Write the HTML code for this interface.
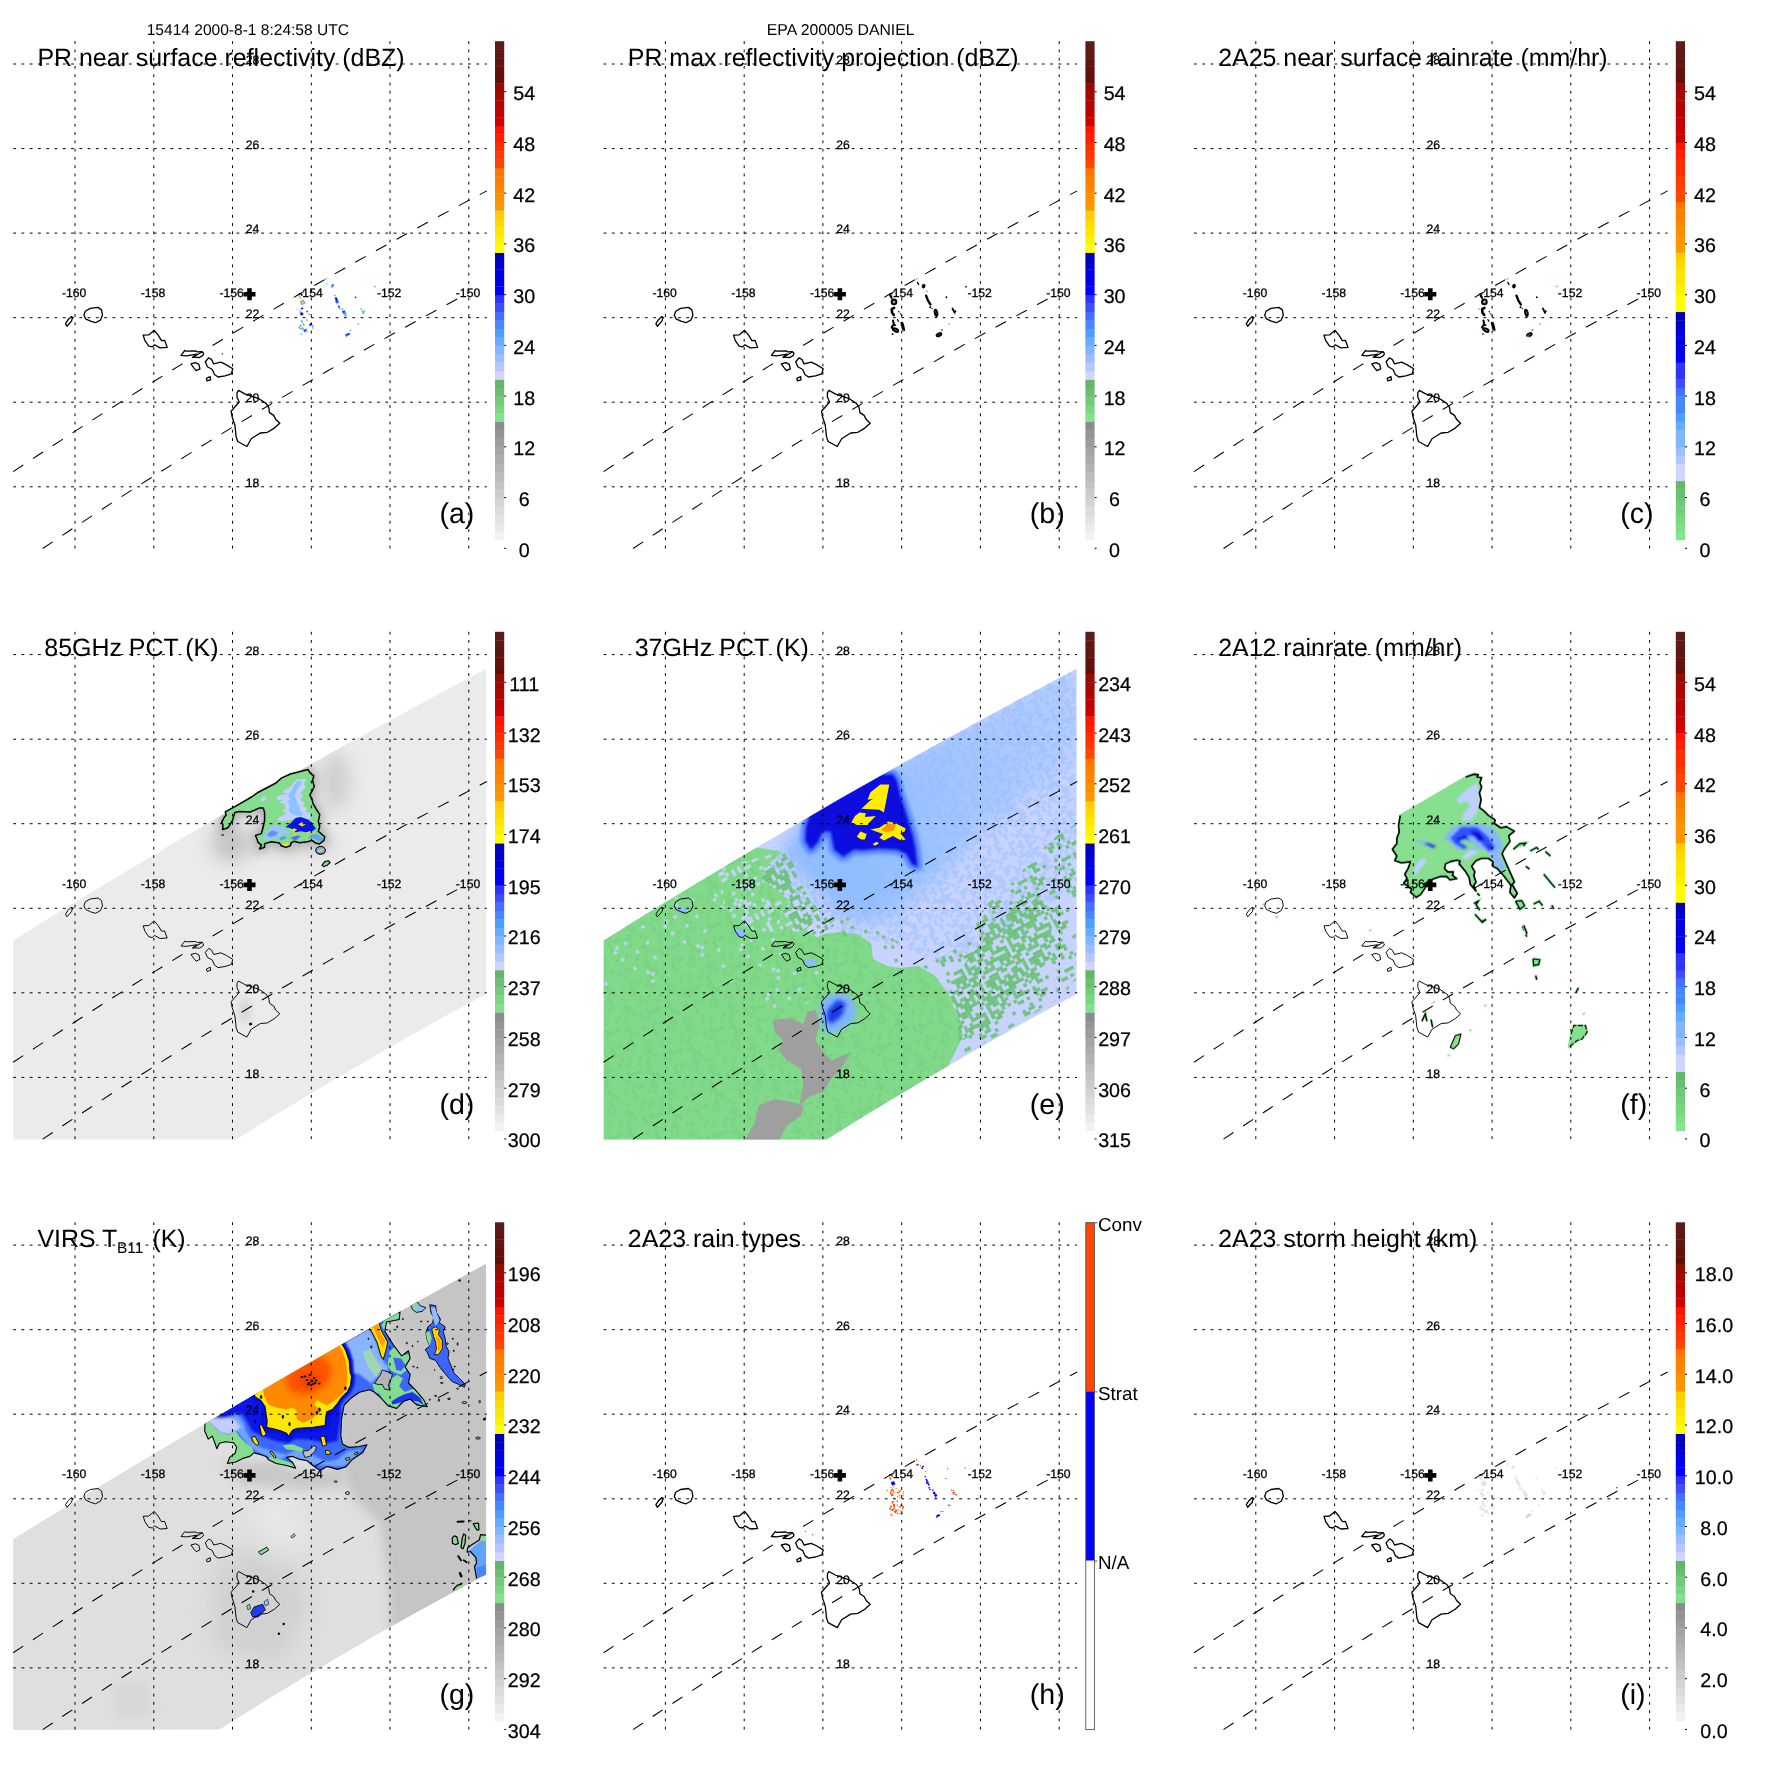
<!DOCTYPE html>
<html><head><meta charset="utf-8"><title>TRMM EPA 200005 DANIEL</title>
<style>html,body{margin:0;padding:0;background:#fff}svg{display:block}text{text-rendering:geometricPrecision}text{font-family:"Liberation Sans", sans-serif;fill:#000}.g{stroke:#000;stroke-width:1.0;stroke-dasharray:2.8 5.47;fill:none}.sw{stroke:#000;stroke-width:1.05;stroke-dasharray:12 11.6;fill:none}.isl{stroke:#000;stroke-width:0.95;fill:none;stroke-linejoin:round}.isl2{stroke:#000;stroke-width:1.3;fill:none;stroke-linejoin:round}.s{font-size:12.2px;stroke:#000;stroke-width:0.28px}.t{font-size:24.95px}.l{font-size:28.6px}</style></head><body>
<svg width="1771" height="1771" viewBox="0 0 1771 1771">
<rect width="1771" height="1771" fill="#fff"/>
<g opacity="0.999"><text x="146.7" y="34.8" font-size="15.55">15414 2000-8-1 8:24:58 UTC</text>
<text x="766.8" y="34.9" font-size="15.75">EPA 200005 DANIEL</text></g>
<g transform="translate(13.2,41.2)" opacity="0.999">
<rect x="287.5" y="252.7" width="2.0" height="2.0" fill="#2846ff" transform="rotate(-25 288.5 253.7)"/>
<rect x="285.4" y="254.3" width="1.5" height="1.5" fill="#6fb0ff" transform="rotate(-25 286.1 255.0)"/>
<rect x="285.8" y="255.7" width="2.0" height="2.0" fill="#ffd800" transform="rotate(-25 286.8 256.7)"/>
<rect x="287.2" y="258.9" width="4.5" height="4.5" fill="#6fb0ff" transform="rotate(-25 289.5 261.1)"/>
<rect x="288.6" y="260.4" width="1.8" height="1.8" fill="#ffd800" transform="rotate(-25 289.5 261.3)"/>
<rect x="283.0" y="267.7" width="1.5" height="1.2" fill="#c0ccff" transform="rotate(-25 283.7 268.3)"/>
<rect x="287.7" y="266.4" width="2.2" height="1.6" fill="#0a0ae6" transform="rotate(-25 288.8 267.2)"/>
<rect x="286.7" y="267.8" width="2.0" height="1.5" fill="#ffd800" transform="rotate(-25 287.7 268.6)"/>
<rect x="287.1" y="271.3" width="2.8" height="2.8" fill="#0a0ae6" transform="rotate(-25 288.5 272.7)"/>
<rect x="286.4" y="270.0" width="1.5" height="2.0" fill="#6fb0ff" transform="rotate(-25 287.1 271.0)"/>
<rect x="293.1" y="269.5" width="1.6" height="1.6" fill="#2846ff" transform="rotate(-25 293.9 270.3)"/>
<rect x="294.8" y="272.4" width="2.2" height="1.2" fill="#6fb0ff" transform="rotate(-25 295.9 273.0)"/>
<rect x="288.0" y="278.6" width="1.6" height="3.0" fill="#6fb0ff" transform="rotate(-25 288.8 280.1)"/>
<rect x="289.4" y="281.9" width="1.6" height="2.5" fill="#6fb0ff" transform="rotate(-25 290.2 283.2)"/>
<rect x="292.9" y="278.0" width="1.4" height="2.2" fill="#6fb0ff" transform="rotate(-25 293.6 279.1)"/>
<rect x="296.3" y="282.1" width="2.6" height="2.2" fill="#0a0ae6" transform="rotate(-25 297.6 283.2)"/>
<rect x="295.5" y="283.7" width="1.6" height="1.6" fill="#6cc878" transform="rotate(-25 296.3 284.5)"/>
<rect x="298.7" y="283.9" width="2.0" height="1.6" fill="#6fb0ff" transform="rotate(-25 299.7 284.7)"/>
<rect x="298.6" y="285.7" width="1.5" height="1.8" fill="#6cc878" transform="rotate(-25 299.3 286.6)"/>
<rect x="285.4" y="285.4" width="2.0" height="2.4" fill="#6cc878" transform="rotate(-25 286.4 286.6)"/>
<rect x="286.2" y="283.4" width="2.2" height="2.0" fill="#6fb0ff" transform="rotate(-25 287.3 284.4)"/>
<rect x="287.7" y="286.2" width="3.0" height="2.4" fill="#6fb0ff" transform="rotate(-25 289.2 287.4)"/>
<rect x="290.4" y="288.0" width="3.0" height="2.6" fill="#2846ff" transform="rotate(-25 291.9 289.3)"/>
<rect x="292.2" y="287.2" width="1.6" height="1.4" fill="#6cc878" transform="rotate(-25 293.0 287.9)"/>
<rect x="293.2" y="290.2" width="1.6" height="1.6" fill="#c0ccff" transform="rotate(-25 294.0 291.0)"/>
<rect x="287.3" y="292.2" width="1.6" height="1.6" fill="#6fb0ff" transform="rotate(-25 288.1 293.0)"/>
<rect x="289.8" y="283.2" width="1.5" height="1.3" fill="#6cc878" transform="rotate(-25 290.5 283.8)"/>
<rect x="312.1" y="236.8" width="1.6" height="1.6" fill="#6cc878" transform="rotate(-25 312.9 237.6)"/>
<rect x="312.7" y="241.4" width="1.6" height="2.2" fill="#c0ccff" transform="rotate(-25 313.5 242.5)"/>
<rect x="318.4" y="243.3" width="2.2" height="1.8" fill="#2846ff" transform="rotate(-25 319.5 244.2)"/>
<rect x="317.6" y="244.8" width="2.0" height="2.0" fill="#6fb0ff" transform="rotate(-25 318.6 245.8)"/>
<rect x="360.8" y="244.9" width="1.8" height="1.4" fill="#6fb0ff" transform="rotate(-25 361.7 245.6)"/>
<rect x="320.9" y="253.6" width="1.6" height="1.6" fill="#6fb0ff" transform="rotate(-25 321.7 254.4)"/>
<rect x="322.0" y="256.1" width="2.0" height="3.4" fill="#0a0ae6" transform="rotate(-25 323.0 257.8)"/>
<rect x="322.3" y="258.7" width="3.0" height="3.2" fill="#2846ff" transform="rotate(-25 323.8 260.3)"/>
<rect x="324.2" y="261.3" width="2.0" height="2.0" fill="#c0ccff" transform="rotate(-25 325.2 262.3)"/>
<rect x="324.7" y="264.5" width="2.0" height="2.0" fill="#2846ff" transform="rotate(-25 325.7 265.5)"/>
<rect x="325.7" y="266.6" width="1.5" height="1.5" fill="#6cc878" transform="rotate(-25 326.4 267.3)"/>
<rect x="328.0" y="267.3" width="2.2" height="1.4" fill="#6fb0ff" transform="rotate(-25 329.1 268.0)"/>
<rect x="329.1" y="269.2" width="3.0" height="3.0" fill="#2846ff" transform="rotate(-25 330.6 270.7)"/>
<rect x="330.4" y="271.6" width="3.2" height="3.0" fill="#6fb0ff" transform="rotate(-25 332.0 273.1)"/>
<rect x="331.4" y="274.8" width="1.6" height="1.3" fill="#6cc878" transform="rotate(-25 332.2 275.4)"/>
<rect x="341.5" y="255.4" width="1.6" height="1.6" fill="#2846ff" transform="rotate(-25 342.3 256.2)"/>
<rect x="347.4" y="267.0" width="1.4" height="1.8" fill="#6fb0ff" transform="rotate(-25 348.1 267.9)"/>
<rect x="348.9" y="269.3" width="2.0" height="3.4" fill="#6cc878" transform="rotate(-25 349.9 271.0)"/>
<rect x="350.4" y="269.3" width="1.6" height="1.4" fill="#6fb0ff" transform="rotate(-25 351.2 270.0)"/>
<rect x="344.3" y="282.0" width="1.6" height="1.6" fill="#6cc878" transform="rotate(-25 345.1 282.8)"/>
<rect x="332.1" y="292.1" width="4.6" height="2.4" fill="#2846ff" transform="rotate(-25 334.4 293.3)"/>
<rect x="332.6" y="294.7" width="1.5" height="1.3" fill="#6cc878" transform="rotate(-25 333.3 295.4)"/>
<rect x="336.5" y="288.6" width="1.6" height="1.4" fill="#6fb0ff" transform="rotate(-25 337.3 289.3)"/>
<rect x="201.2" y="308.6" width="1.2" height="1.2" fill="#c0ccff"/>
<rect x="208.4" y="311.9" width="1.4" height="1.4" fill="#2846ff"/>
<line class="g" x1="61.8" y1="0" x2="61.8" y2="507.3"/>
<line class="g" x1="0" y1="22.8" x2="473.6" y2="22.8"/>
<line class="g" x1="140.6" y1="0" x2="140.6" y2="507.3"/>
<line class="g" x1="0" y1="107.4" x2="473.6" y2="107.4"/>
<line class="g" x1="219.3" y1="0" x2="219.3" y2="507.3"/>
<line class="g" x1="0" y1="191.9" x2="473.6" y2="191.9"/>
<line class="g" x1="298.1" y1="0" x2="298.1" y2="507.3"/>
<line class="g" x1="0" y1="276.5" x2="473.6" y2="276.5"/>
<line class="g" x1="376.8" y1="0" x2="376.8" y2="507.3"/>
<line class="g" x1="0" y1="361.0" x2="473.6" y2="361.0"/>
<line class="g" x1="455.6" y1="0" x2="455.6" y2="507.3"/>
<line class="g" x1="0" y1="445.6" x2="473.6" y2="445.6"/>
<polyline class="sw" points="0.0,430.4 23.7,414.8 47.4,399.4 71.0,384.1 94.7,369.0 118.4,354.1 142.1,339.3 165.8,324.7 189.4,310.3 213.1,296.0 236.8,281.9 260.5,267.9 284.2,254.1 307.8,240.5 331.5,227.0 355.2,213.7 378.9,200.6 402.6,187.6 426.2,174.8 449.9,162.2 473.6,149.7"/>
<polyline class="sw" points="29.5,507.3 53.2,491.5 76.9,475.9 100.5,460.5 124.2,445.3 147.9,430.2 171.6,415.4 195.3,400.7 218.9,386.2 242.6,371.9 266.3,357.8 290.0,343.9 313.7,330.1 337.3,316.6 361.0,303.2 384.7,290.0 408.4,277.0 432.1,264.2 455.7,251.6"/>
<polygon class="isl2" points="52.3,282.4 54.9,278.5 58.0,275.4 59.4,276.1 58.3,279.9 53.7,285.0"/>
<polygon class="isl2" points="70.7,274.0 72.1,270.0 77.0,267.2 84.8,266.2 88.3,268.7 89.3,274.0 87.2,278.9 82.3,281.5 77.3,280.0 72.4,277.6"/>
<polygon class="isl2" points="130.0,294.0 135.6,293.7 141.0,289.1 144.8,293.7 148.3,299.4 151.4,299.1 154.0,306.2 146.9,306.7 141.3,303.6 139.1,305.7 135.6,305.0 131.7,299.4"/>
<polygon class="isl2" points="167.8,314.2 171.6,309.3 173.0,310.0 182.2,309.7 184.3,310.7 188.6,310.4 190.4,312.1 189.7,314.2 186.4,316.3 179.4,316.0 183.6,312.9 173.0,314.6"/>
<polygon class="isl2" points="177.7,322.7 182.2,321.5 185.7,323.1 186.7,327.6 182.9,329.4 180.8,326.9"/>
<polygon class="isl2" points="192.1,320.6 195.6,316.6 198.4,318.4 200.5,322.7 207.6,321.0 213.3,323.7 219.6,327.6 218.2,332.6 211.8,334.7 204.8,335.8 201.3,333.3 199.1,328.3 194.2,325.5"/>
<polygon class="isl2" points="193.2,337.2 197.0,335.4 197.4,338.6 193.8,339.6"/>
<polygon class="isl2" points="223.8,351.6 225.3,349.2 231.6,352.7 245.7,357.5 252.8,362.2 255.6,366.4 256.3,371.4 260.5,374.2 262.7,378.4 266.6,382.0 261.2,386.9 254.2,391.1 247.1,391.8 238.0,397.5 233.7,405.3 224.5,400.3 222.9,395.4 221.7,384.1 218.9,375.6 217.9,370.0 226.0,360.8 223.8,355.8"/>
<path d="M230.3,253.1h12M236.3,247.1v12" stroke="#000" stroke-width="4.6" fill="none"/>
<text class="s" x="61.0" y="255.8" text-anchor="middle">-160</text>
<text class="s" x="232.6" y="23.1">28</text>
<text class="s" x="139.8" y="255.8" text-anchor="middle">-158</text>
<text class="s" x="232.6" y="107.7">26</text>
<text class="s" x="218.5" y="255.8" text-anchor="middle">-156</text>
<text class="s" x="232.6" y="192.2">24</text>
<text class="s" x="297.3" y="255.8" text-anchor="middle">-154</text>
<text class="s" x="232.6" y="276.8">22</text>
<text class="s" x="376.0" y="255.8" text-anchor="middle">-152</text>
<text class="s" x="232.6" y="361.3">20</text>
<text class="s" x="454.8" y="255.8" text-anchor="middle">-150</text>
<text class="s" x="232.6" y="445.9">18</text>

<text class="t" x="24.2" y="24.5">PR near surface reflectivity (dBZ)</text>
<text class="l" x="426.2" y="481.8">(a)</text>
<rect x="481.8" y="490.39" width="9.2" height="8.76" fill="#f2f2f2"/>
<rect x="481.8" y="481.94" width="9.2" height="8.76" fill="#eaeaea"/>
<rect x="481.8" y="473.48" width="9.2" height="8.76" fill="#e2e2e2"/>
<rect x="481.8" y="465.03" width="9.2" height="8.76" fill="#dbdbdb"/>
<rect x="481.8" y="456.57" width="9.2" height="8.76" fill="#d3d3d3"/>
<rect x="481.8" y="448.12" width="9.2" height="8.76" fill="#cbcbcb"/>
<rect x="481.8" y="439.66" width="9.2" height="8.76" fill="#c3c3c3"/>
<rect x="481.8" y="431.21" width="9.2" height="8.76" fill="#bbbbbb"/>
<rect x="481.8" y="422.75" width="9.2" height="8.76" fill="#b3b3b3"/>
<rect x="481.8" y="414.30" width="9.2" height="8.76" fill="#ababab"/>
<rect x="481.8" y="405.84" width="9.2" height="8.76" fill="#a4a4a4"/>
<rect x="481.8" y="397.38" width="9.2" height="8.76" fill="#9c9c9c"/>
<rect x="481.8" y="388.93" width="9.2" height="8.76" fill="#949494"/>
<rect x="481.8" y="380.48" width="9.2" height="8.76" fill="#8c8c8c"/>
<rect x="481.8" y="372.02" width="9.2" height="8.76" fill="#82e18c"/>
<rect x="481.8" y="363.56" width="9.2" height="8.76" fill="#7ad683"/>
<rect x="481.8" y="355.11" width="9.2" height="8.76" fill="#73ca7a"/>
<rect x="481.8" y="346.65" width="9.2" height="8.76" fill="#6cbf72"/>
<rect x="481.8" y="338.20" width="9.2" height="8.76" fill="#64b469"/>
<rect x="481.8" y="329.75" width="9.2" height="8.76" fill="#d0d4ff"/>
<rect x="481.8" y="321.29" width="9.2" height="8.76" fill="#b6c6ff"/>
<rect x="481.8" y="312.84" width="9.2" height="8.76" fill="#9bbeff"/>
<rect x="481.8" y="304.38" width="9.2" height="8.76" fill="#80b6ff"/>
<rect x="481.8" y="295.93" width="9.2" height="8.76" fill="#64acff"/>
<rect x="481.8" y="287.47" width="9.2" height="8.76" fill="#4ba0ff"/>
<rect x="481.8" y="279.01" width="9.2" height="8.76" fill="#4687ff"/>
<rect x="481.8" y="270.56" width="9.2" height="8.76" fill="#4470ff"/>
<rect x="481.8" y="262.11" width="9.2" height="8.76" fill="#3c4eff"/>
<rect x="481.8" y="253.65" width="9.2" height="8.76" fill="#3232ff"/>
<rect x="481.8" y="245.19" width="9.2" height="8.76" fill="#0000ff"/>
<rect x="481.8" y="236.74" width="9.2" height="8.76" fill="#0000f0"/>
<rect x="481.8" y="228.29" width="9.2" height="8.76" fill="#0000e1"/>
<rect x="481.8" y="219.83" width="9.2" height="8.76" fill="#0000cd"/>
<rect x="481.8" y="211.38" width="9.2" height="8.76" fill="#0000b9"/>
<rect x="481.8" y="202.92" width="9.2" height="8.76" fill="#ffff00"/>
<rect x="481.8" y="194.47" width="9.2" height="8.76" fill="#fff200"/>
<rect x="481.8" y="186.01" width="9.2" height="8.76" fill="#ffe600"/>
<rect x="481.8" y="177.56" width="9.2" height="8.76" fill="#ffda00"/>
<rect x="481.8" y="169.10" width="9.2" height="8.76" fill="#ffcd00"/>
<rect x="481.8" y="160.64" width="9.2" height="8.76" fill="#ff9600"/>
<rect x="481.8" y="152.19" width="9.2" height="8.76" fill="#ff8e00"/>
<rect x="481.8" y="143.74" width="9.2" height="8.76" fill="#ff8600"/>
<rect x="481.8" y="135.28" width="9.2" height="8.76" fill="#ff7e00"/>
<rect x="481.8" y="126.82" width="9.2" height="8.76" fill="#ff7600"/>
<rect x="481.8" y="118.37" width="9.2" height="8.76" fill="#ff4600"/>
<rect x="481.8" y="109.92" width="9.2" height="8.76" fill="#ff3a00"/>
<rect x="481.8" y="101.46" width="9.2" height="8.76" fill="#ff2d00"/>
<rect x="481.8" y="93.00" width="9.2" height="8.76" fill="#ff2000"/>
<rect x="481.8" y="84.55" width="9.2" height="8.76" fill="#ff1400"/>
<rect x="481.8" y="76.10" width="9.2" height="8.76" fill="#cd0000"/>
<rect x="481.8" y="67.64" width="9.2" height="8.76" fill="#bf0200"/>
<rect x="481.8" y="59.19" width="9.2" height="8.76" fill="#b20500"/>
<rect x="481.8" y="50.73" width="9.2" height="8.76" fill="#a40800"/>
<rect x="481.8" y="42.28" width="9.2" height="8.76" fill="#960a00"/>
<rect x="481.8" y="33.82" width="9.2" height="8.76" fill="#640e05"/>
<rect x="481.8" y="25.37" width="9.2" height="8.76" fill="#62120b"/>
<rect x="481.8" y="16.91" width="9.2" height="8.76" fill="#601510"/>
<rect x="481.8" y="8.45" width="9.2" height="8.76" fill="#5e1816"/>
<rect x="481.8" y="0.00" width="9.2" height="8.76" fill="#5c1c1c"/>
<line x1="491.0" y1="507.1" x2="493.0" y2="507.1" stroke="#000" stroke-width="1"/>
<text x="511.0" y="515.6" font-size="19.7" text-anchor="middle" stroke="#000" stroke-width="0.25">0</text>
<line x1="491.0" y1="456.4" x2="493.0" y2="456.4" stroke="#000" stroke-width="1"/>
<text x="511.0" y="464.9" font-size="19.7" text-anchor="middle" stroke="#000" stroke-width="0.25">6</text>
<line x1="491.0" y1="405.6" x2="493.0" y2="405.6" stroke="#000" stroke-width="1"/>
<text x="511.0" y="414.1" font-size="19.7" text-anchor="middle" stroke="#000" stroke-width="0.25">12</text>
<line x1="491.0" y1="354.9" x2="493.0" y2="354.9" stroke="#000" stroke-width="1"/>
<text x="511.0" y="363.4" font-size="19.7" text-anchor="middle" stroke="#000" stroke-width="0.25">18</text>
<line x1="491.0" y1="304.2" x2="493.0" y2="304.2" stroke="#000" stroke-width="1"/>
<text x="511.0" y="312.7" font-size="19.7" text-anchor="middle" stroke="#000" stroke-width="0.25">24</text>
<line x1="491.0" y1="253.5" x2="493.0" y2="253.5" stroke="#000" stroke-width="1"/>
<text x="511.0" y="261.9" font-size="19.7" text-anchor="middle" stroke="#000" stroke-width="0.25">30</text>
<line x1="491.0" y1="202.7" x2="493.0" y2="202.7" stroke="#000" stroke-width="1"/>
<text x="511.0" y="211.2" font-size="19.7" text-anchor="middle" stroke="#000" stroke-width="0.25">36</text>
<line x1="491.0" y1="152.0" x2="493.0" y2="152.0" stroke="#000" stroke-width="1"/>
<text x="511.0" y="160.5" font-size="19.7" text-anchor="middle" stroke="#000" stroke-width="0.25">42</text>
<line x1="491.0" y1="101.3" x2="493.0" y2="101.3" stroke="#000" stroke-width="1"/>
<text x="511.0" y="109.8" font-size="19.7" text-anchor="middle" stroke="#000" stroke-width="0.25">48</text>
<line x1="491.0" y1="50.5" x2="493.0" y2="50.5" stroke="#000" stroke-width="1"/>
<text x="511.0" y="59.0" font-size="19.7" text-anchor="middle" stroke="#000" stroke-width="0.25">54</text>
</g>
<g transform="translate(603.6,41.2)" opacity="0.999">
<ellipse cx="287.3" cy="255.4" rx="1.22" ry="2.85" fill="#000" transform="rotate(-25 287.3 255.4)"/>
<ellipse cx="290.4" cy="260.7" rx="2.34" ry="2.34" fill="#4a78ff" stroke="#000" stroke-width="1.9" transform="rotate(0 290.4 260.7)"/>
<polyline points="290.5,266.6 288.1,267.9 288.5,271.6 290.2,273.7" fill="none" stroke="#000" stroke-width="2.59" stroke-linecap="round" stroke-linejoin="round"/>
<polyline points="294.9,270.0 298.6,275.0" fill="none" stroke="#000" stroke-width="1.14" stroke-dasharray="1.4 1.2"/>
<polyline points="289.5,279.4 290.2,283.2 288.1,285.9 289.8,288.6 293.9,290.6" fill="none" stroke="#000" stroke-width="2.12" stroke-linecap="round" stroke-linejoin="round"/>
<polyline points="290.2,283.2 291.9,284.2" fill="none" stroke="#000" stroke-width="1.41" stroke-linecap="round" stroke-linejoin="round"/>
<ellipse cx="292.2" cy="288.9" rx="2.65" ry="1.40" fill="#4a78ff" stroke="#000" stroke-width="1.9" transform="rotate(25 292.2 288.9)"/>
<polyline points="293.9,278.4 294.9,280.1" fill="none" stroke="#000" stroke-width="1.18" stroke-linecap="round" stroke-linejoin="round"/>
<polyline points="298.3,282.1 299.3,285.5 300.0,288.6" fill="none" stroke="#000" stroke-width="3.06" stroke-linecap="round" stroke-linejoin="round"/>
<ellipse cx="289.0" cy="293.0" rx="0.91" ry="0.85" fill="#000" transform="rotate(0 289.0 293.0)"/>
<ellipse cx="314.4" cy="242.2" rx="0.71" ry="2.09" fill="#000" transform="rotate(-25 314.4 242.2)"/>
<ellipse cx="320.0" cy="244.9" rx="1.83" ry="2.28" fill="#000" transform="rotate(20 320.0 244.9)"/>
<polyline points="322.5,254.4 324.4,259.5 326.8,263.2" fill="none" stroke="#000" stroke-width="2.35" stroke-linecap="round" stroke-linejoin="round"/>
<ellipse cx="326.6" cy="266.0" rx="1.02" ry="0.95" fill="#000" transform="rotate(0 326.6 266.0)"/>
<polyline points="327.8,267.2 330.1,267.9" fill="none" stroke="#000" stroke-width="1.00" stroke-dasharray="1.4 1.2"/>
<ellipse cx="332.4" cy="271.6" rx="1.25" ry="3.27" fill="#4a78ff" stroke="#000" stroke-width="1.9" transform="rotate(-12 332.4 271.6)"/>
<ellipse cx="342.8" cy="256.1" rx="0.91" ry="0.95" fill="#000" transform="rotate(0 342.8 256.1)"/>
<polyline points="348.9,267.4 351.1,271.6" fill="none" stroke="#000" stroke-width="1.88" stroke-linecap="round" stroke-linejoin="round"/>
<ellipse cx="351.8" cy="270.0" rx="0.91" ry="0.85" fill="#000" transform="rotate(0 351.8 270.0)"/>
<ellipse cx="335.4" cy="293.5" rx="2.49" ry="1.25" fill="#4a78ff" stroke="#000" stroke-width="1.9" transform="rotate(-25 335.4 293.5)"/>
<ellipse cx="338.4" cy="288.9" rx="0.81" ry="0.76" fill="#000" transform="rotate(0 338.4 288.9)"/>
<ellipse cx="362.3" cy="245.2" rx="0.81" ry="0.76" fill="#000" transform="rotate(0 362.3 245.2)"/>
<rect x="312.5" y="236.9" width="1.5" height="1.5" fill="#5ccf68"/>
<rect x="322.7" y="249.3" width="1.5" height="1.5" fill="#5ccf68"/>
<rect x="344.7" y="282.1" width="1.5" height="1.5" fill="#5ccf68"/>
<rect x="298.6" y="288.6" width="1.5" height="1.5" fill="#5ccf68"/>
<rect x="350.4" y="272.0" width="1.5" height="1.5" fill="#5ccf68"/>
<rect x="289.7" y="260.4" width="1.4" height="1.4" fill="#ffe000"/>
<rect x="361.7" y="245.8" width="1.2" height="1.2" fill="#4a78ff"/>
<line class="g" x1="61.8" y1="0" x2="61.8" y2="507.3"/>
<line class="g" x1="0" y1="22.8" x2="473.6" y2="22.8"/>
<line class="g" x1="140.6" y1="0" x2="140.6" y2="507.3"/>
<line class="g" x1="0" y1="107.4" x2="473.6" y2="107.4"/>
<line class="g" x1="219.3" y1="0" x2="219.3" y2="507.3"/>
<line class="g" x1="0" y1="191.9" x2="473.6" y2="191.9"/>
<line class="g" x1="298.1" y1="0" x2="298.1" y2="507.3"/>
<line class="g" x1="0" y1="276.5" x2="473.6" y2="276.5"/>
<line class="g" x1="376.8" y1="0" x2="376.8" y2="507.3"/>
<line class="g" x1="0" y1="361.0" x2="473.6" y2="361.0"/>
<line class="g" x1="455.6" y1="0" x2="455.6" y2="507.3"/>
<line class="g" x1="0" y1="445.6" x2="473.6" y2="445.6"/>
<polyline class="sw" points="0.0,430.4 23.7,414.8 47.4,399.4 71.0,384.1 94.7,369.0 118.4,354.1 142.1,339.3 165.8,324.7 189.4,310.3 213.1,296.0 236.8,281.9 260.5,267.9 284.2,254.1 307.8,240.5 331.5,227.0 355.2,213.7 378.9,200.6 402.6,187.6 426.2,174.8 449.9,162.2 473.6,149.7"/>
<polyline class="sw" points="29.5,507.3 53.2,491.5 76.9,475.9 100.5,460.5 124.2,445.3 147.9,430.2 171.6,415.4 195.3,400.7 218.9,386.2 242.6,371.9 266.3,357.8 290.0,343.9 313.7,330.1 337.3,316.6 361.0,303.2 384.7,290.0 408.4,277.0 432.1,264.2 455.7,251.6"/>
<polygon class="isl2" points="52.3,282.4 54.9,278.5 58.0,275.4 59.4,276.1 58.3,279.9 53.7,285.0"/>
<polygon class="isl2" points="70.7,274.0 72.1,270.0 77.0,267.2 84.8,266.2 88.3,268.7 89.3,274.0 87.2,278.9 82.3,281.5 77.3,280.0 72.4,277.6"/>
<polygon class="isl2" points="130.0,294.0 135.6,293.7 141.0,289.1 144.8,293.7 148.3,299.4 151.4,299.1 154.0,306.2 146.9,306.7 141.3,303.6 139.1,305.7 135.6,305.0 131.7,299.4"/>
<polygon class="isl2" points="167.8,314.2 171.6,309.3 173.0,310.0 182.2,309.7 184.3,310.7 188.6,310.4 190.4,312.1 189.7,314.2 186.4,316.3 179.4,316.0 183.6,312.9 173.0,314.6"/>
<polygon class="isl2" points="177.7,322.7 182.2,321.5 185.7,323.1 186.7,327.6 182.9,329.4 180.8,326.9"/>
<polygon class="isl2" points="192.1,320.6 195.6,316.6 198.4,318.4 200.5,322.7 207.6,321.0 213.3,323.7 219.6,327.6 218.2,332.6 211.8,334.7 204.8,335.8 201.3,333.3 199.1,328.3 194.2,325.5"/>
<polygon class="isl2" points="193.2,337.2 197.0,335.4 197.4,338.6 193.8,339.6"/>
<polygon class="isl2" points="223.8,351.6 225.3,349.2 231.6,352.7 245.7,357.5 252.8,362.2 255.6,366.4 256.3,371.4 260.5,374.2 262.7,378.4 266.6,382.0 261.2,386.9 254.2,391.1 247.1,391.8 238.0,397.5 233.7,405.3 224.5,400.3 222.9,395.4 221.7,384.1 218.9,375.6 217.9,370.0 226.0,360.8 223.8,355.8"/>
<path d="M230.3,253.1h12M236.3,247.1v12" stroke="#000" stroke-width="4.6" fill="none"/>
<text class="s" x="61.0" y="255.8" text-anchor="middle">-160</text>
<text class="s" x="232.6" y="23.1">28</text>
<text class="s" x="139.8" y="255.8" text-anchor="middle">-158</text>
<text class="s" x="232.6" y="107.7">26</text>
<text class="s" x="218.5" y="255.8" text-anchor="middle">-156</text>
<text class="s" x="232.6" y="192.2">24</text>
<text class="s" x="297.3" y="255.8" text-anchor="middle">-154</text>
<text class="s" x="232.6" y="276.8">22</text>
<text class="s" x="376.0" y="255.8" text-anchor="middle">-152</text>
<text class="s" x="232.6" y="361.3">20</text>
<text class="s" x="454.8" y="255.8" text-anchor="middle">-150</text>
<text class="s" x="232.6" y="445.9">18</text>

<text class="t" x="24.2" y="24.5">PR max reflectivity projection (dBZ)</text>
<text class="l" x="426.2" y="481.8">(b)</text>
<rect x="481.8" y="490.39" width="9.2" height="8.76" fill="#f2f2f2"/>
<rect x="481.8" y="481.94" width="9.2" height="8.76" fill="#eaeaea"/>
<rect x="481.8" y="473.48" width="9.2" height="8.76" fill="#e2e2e2"/>
<rect x="481.8" y="465.03" width="9.2" height="8.76" fill="#dbdbdb"/>
<rect x="481.8" y="456.57" width="9.2" height="8.76" fill="#d3d3d3"/>
<rect x="481.8" y="448.12" width="9.2" height="8.76" fill="#cbcbcb"/>
<rect x="481.8" y="439.66" width="9.2" height="8.76" fill="#c3c3c3"/>
<rect x="481.8" y="431.21" width="9.2" height="8.76" fill="#bbbbbb"/>
<rect x="481.8" y="422.75" width="9.2" height="8.76" fill="#b3b3b3"/>
<rect x="481.8" y="414.30" width="9.2" height="8.76" fill="#ababab"/>
<rect x="481.8" y="405.84" width="9.2" height="8.76" fill="#a4a4a4"/>
<rect x="481.8" y="397.38" width="9.2" height="8.76" fill="#9c9c9c"/>
<rect x="481.8" y="388.93" width="9.2" height="8.76" fill="#949494"/>
<rect x="481.8" y="380.48" width="9.2" height="8.76" fill="#8c8c8c"/>
<rect x="481.8" y="372.02" width="9.2" height="8.76" fill="#82e18c"/>
<rect x="481.8" y="363.56" width="9.2" height="8.76" fill="#7ad683"/>
<rect x="481.8" y="355.11" width="9.2" height="8.76" fill="#73ca7a"/>
<rect x="481.8" y="346.65" width="9.2" height="8.76" fill="#6cbf72"/>
<rect x="481.8" y="338.20" width="9.2" height="8.76" fill="#64b469"/>
<rect x="481.8" y="329.75" width="9.2" height="8.76" fill="#d0d4ff"/>
<rect x="481.8" y="321.29" width="9.2" height="8.76" fill="#b6c6ff"/>
<rect x="481.8" y="312.84" width="9.2" height="8.76" fill="#9bbeff"/>
<rect x="481.8" y="304.38" width="9.2" height="8.76" fill="#80b6ff"/>
<rect x="481.8" y="295.93" width="9.2" height="8.76" fill="#64acff"/>
<rect x="481.8" y="287.47" width="9.2" height="8.76" fill="#4ba0ff"/>
<rect x="481.8" y="279.01" width="9.2" height="8.76" fill="#4687ff"/>
<rect x="481.8" y="270.56" width="9.2" height="8.76" fill="#4470ff"/>
<rect x="481.8" y="262.11" width="9.2" height="8.76" fill="#3c4eff"/>
<rect x="481.8" y="253.65" width="9.2" height="8.76" fill="#3232ff"/>
<rect x="481.8" y="245.19" width="9.2" height="8.76" fill="#0000ff"/>
<rect x="481.8" y="236.74" width="9.2" height="8.76" fill="#0000f0"/>
<rect x="481.8" y="228.29" width="9.2" height="8.76" fill="#0000e1"/>
<rect x="481.8" y="219.83" width="9.2" height="8.76" fill="#0000cd"/>
<rect x="481.8" y="211.38" width="9.2" height="8.76" fill="#0000b9"/>
<rect x="481.8" y="202.92" width="9.2" height="8.76" fill="#ffff00"/>
<rect x="481.8" y="194.47" width="9.2" height="8.76" fill="#fff200"/>
<rect x="481.8" y="186.01" width="9.2" height="8.76" fill="#ffe600"/>
<rect x="481.8" y="177.56" width="9.2" height="8.76" fill="#ffda00"/>
<rect x="481.8" y="169.10" width="9.2" height="8.76" fill="#ffcd00"/>
<rect x="481.8" y="160.64" width="9.2" height="8.76" fill="#ff9600"/>
<rect x="481.8" y="152.19" width="9.2" height="8.76" fill="#ff8e00"/>
<rect x="481.8" y="143.74" width="9.2" height="8.76" fill="#ff8600"/>
<rect x="481.8" y="135.28" width="9.2" height="8.76" fill="#ff7e00"/>
<rect x="481.8" y="126.82" width="9.2" height="8.76" fill="#ff7600"/>
<rect x="481.8" y="118.37" width="9.2" height="8.76" fill="#ff4600"/>
<rect x="481.8" y="109.92" width="9.2" height="8.76" fill="#ff3a00"/>
<rect x="481.8" y="101.46" width="9.2" height="8.76" fill="#ff2d00"/>
<rect x="481.8" y="93.00" width="9.2" height="8.76" fill="#ff2000"/>
<rect x="481.8" y="84.55" width="9.2" height="8.76" fill="#ff1400"/>
<rect x="481.8" y="76.10" width="9.2" height="8.76" fill="#cd0000"/>
<rect x="481.8" y="67.64" width="9.2" height="8.76" fill="#bf0200"/>
<rect x="481.8" y="59.19" width="9.2" height="8.76" fill="#b20500"/>
<rect x="481.8" y="50.73" width="9.2" height="8.76" fill="#a40800"/>
<rect x="481.8" y="42.28" width="9.2" height="8.76" fill="#960a00"/>
<rect x="481.8" y="33.82" width="9.2" height="8.76" fill="#640e05"/>
<rect x="481.8" y="25.37" width="9.2" height="8.76" fill="#62120b"/>
<rect x="481.8" y="16.91" width="9.2" height="8.76" fill="#601510"/>
<rect x="481.8" y="8.45" width="9.2" height="8.76" fill="#5e1816"/>
<rect x="481.8" y="0.00" width="9.2" height="8.76" fill="#5c1c1c"/>
<line x1="491.0" y1="507.1" x2="493.0" y2="507.1" stroke="#000" stroke-width="1"/>
<text x="511.0" y="515.6" font-size="19.7" text-anchor="middle" stroke="#000" stroke-width="0.25">0</text>
<line x1="491.0" y1="456.4" x2="493.0" y2="456.4" stroke="#000" stroke-width="1"/>
<text x="511.0" y="464.9" font-size="19.7" text-anchor="middle" stroke="#000" stroke-width="0.25">6</text>
<line x1="491.0" y1="405.6" x2="493.0" y2="405.6" stroke="#000" stroke-width="1"/>
<text x="511.0" y="414.1" font-size="19.7" text-anchor="middle" stroke="#000" stroke-width="0.25">12</text>
<line x1="491.0" y1="354.9" x2="493.0" y2="354.9" stroke="#000" stroke-width="1"/>
<text x="511.0" y="363.4" font-size="19.7" text-anchor="middle" stroke="#000" stroke-width="0.25">18</text>
<line x1="491.0" y1="304.2" x2="493.0" y2="304.2" stroke="#000" stroke-width="1"/>
<text x="511.0" y="312.7" font-size="19.7" text-anchor="middle" stroke="#000" stroke-width="0.25">24</text>
<line x1="491.0" y1="253.5" x2="493.0" y2="253.5" stroke="#000" stroke-width="1"/>
<text x="511.0" y="261.9" font-size="19.7" text-anchor="middle" stroke="#000" stroke-width="0.25">30</text>
<line x1="491.0" y1="202.7" x2="493.0" y2="202.7" stroke="#000" stroke-width="1"/>
<text x="511.0" y="211.2" font-size="19.7" text-anchor="middle" stroke="#000" stroke-width="0.25">36</text>
<line x1="491.0" y1="152.0" x2="493.0" y2="152.0" stroke="#000" stroke-width="1"/>
<text x="511.0" y="160.5" font-size="19.7" text-anchor="middle" stroke="#000" stroke-width="0.25">42</text>
<line x1="491.0" y1="101.3" x2="493.0" y2="101.3" stroke="#000" stroke-width="1"/>
<text x="511.0" y="109.8" font-size="19.7" text-anchor="middle" stroke="#000" stroke-width="0.25">48</text>
<line x1="491.0" y1="50.5" x2="493.0" y2="50.5" stroke="#000" stroke-width="1"/>
<text x="511.0" y="59.0" font-size="19.7" text-anchor="middle" stroke="#000" stroke-width="0.25">54</text>
</g>
<g transform="translate(1194.0,41.2)" opacity="0.999">
<ellipse cx="287.3" cy="255.4" rx="1.22" ry="2.85" fill="#000" transform="rotate(-25 287.3 255.4)"/>
<ellipse cx="290.4" cy="260.7" rx="2.34" ry="2.34" fill="#7ad884" stroke="#000" stroke-width="1.9" transform="rotate(0 290.4 260.7)"/>
<polyline points="290.5,266.6 288.1,267.9 288.5,271.6 290.2,273.7" fill="none" stroke="#000" stroke-width="2.59" stroke-linecap="round" stroke-linejoin="round"/>
<polyline points="294.9,270.0 298.6,275.0" fill="none" stroke="#000" stroke-width="1.14" stroke-dasharray="1.4 1.2"/>
<polyline points="289.5,279.4 290.2,283.2 288.1,285.9 289.8,288.6 293.9,290.6" fill="none" stroke="#000" stroke-width="2.12" stroke-linecap="round" stroke-linejoin="round"/>
<polyline points="290.2,283.2 291.9,284.2" fill="none" stroke="#000" stroke-width="1.41" stroke-linecap="round" stroke-linejoin="round"/>
<ellipse cx="292.2" cy="288.9" rx="2.65" ry="1.40" fill="#7ad884" stroke="#000" stroke-width="1.9" transform="rotate(25 292.2 288.9)"/>
<polyline points="293.9,278.4 294.9,280.1" fill="none" stroke="#000" stroke-width="1.18" stroke-linecap="round" stroke-linejoin="round"/>
<polyline points="298.3,282.1 299.3,285.5 300.0,288.6" fill="none" stroke="#000" stroke-width="3.06" stroke-linecap="round" stroke-linejoin="round"/>
<ellipse cx="289.0" cy="293.0" rx="0.91" ry="0.85" fill="#000" transform="rotate(0 289.0 293.0)"/>
<ellipse cx="314.4" cy="242.2" rx="0.71" ry="2.09" fill="#000" transform="rotate(-25 314.4 242.2)"/>
<ellipse cx="320.0" cy="244.9" rx="1.83" ry="2.28" fill="#000" transform="rotate(20 320.0 244.9)"/>
<polyline points="322.5,254.4 324.4,259.5 326.8,263.2" fill="none" stroke="#000" stroke-width="2.35" stroke-linecap="round" stroke-linejoin="round"/>
<ellipse cx="326.6" cy="266.0" rx="1.02" ry="0.95" fill="#000" transform="rotate(0 326.6 266.0)"/>
<polyline points="327.8,267.2 330.1,267.9" fill="none" stroke="#000" stroke-width="1.00" stroke-dasharray="1.4 1.2"/>
<ellipse cx="332.4" cy="271.6" rx="1.25" ry="3.27" fill="#7ad884" stroke="#000" stroke-width="1.9" transform="rotate(-12 332.4 271.6)"/>
<ellipse cx="342.8" cy="256.1" rx="0.91" ry="0.95" fill="#000" transform="rotate(0 342.8 256.1)"/>
<polyline points="348.9,267.4 351.1,271.6" fill="none" stroke="#000" stroke-width="1.88" stroke-linecap="round" stroke-linejoin="round"/>
<ellipse cx="351.8" cy="270.0" rx="0.91" ry="0.85" fill="#000" transform="rotate(0 351.8 270.0)"/>
<ellipse cx="335.4" cy="293.5" rx="2.49" ry="1.25" fill="#7ad884" stroke="#000" stroke-width="1.9" transform="rotate(-25 335.4 293.5)"/>
<ellipse cx="338.4" cy="288.9" rx="0.81" ry="0.76" fill="#000" transform="rotate(0 338.4 288.9)"/>
<rect x="312.8" y="236.9" width="1.5" height="1.5" fill="#5ccf68"/>
<rect x="362.0" y="244.5" width="1.5" height="1.5" fill="#5ccf68"/>
<rect x="345.4" y="282.1" width="1.5" height="1.5" fill="#5ccf68"/>
<rect x="284.4" y="267.2" width="1.5" height="1.5" fill="#5ccf68"/>
<rect x="288.8" y="292.3" width="1.5" height="1.5" fill="#5ccf68"/>
<rect x="337.9" y="288.2" width="1.5" height="1.5" fill="#5ccf68"/>
<rect x="298.6" y="288.6" width="1.5" height="1.5" fill="#5ccf68"/>
<rect x="333.2" y="294.3" width="1.5" height="1.5" fill="#5ccf68"/>
<line class="g" x1="61.8" y1="0" x2="61.8" y2="507.3"/>
<line class="g" x1="0" y1="22.8" x2="473.6" y2="22.8"/>
<line class="g" x1="140.6" y1="0" x2="140.6" y2="507.3"/>
<line class="g" x1="0" y1="107.4" x2="473.6" y2="107.4"/>
<line class="g" x1="219.3" y1="0" x2="219.3" y2="507.3"/>
<line class="g" x1="0" y1="191.9" x2="473.6" y2="191.9"/>
<line class="g" x1="298.1" y1="0" x2="298.1" y2="507.3"/>
<line class="g" x1="0" y1="276.5" x2="473.6" y2="276.5"/>
<line class="g" x1="376.8" y1="0" x2="376.8" y2="507.3"/>
<line class="g" x1="0" y1="361.0" x2="473.6" y2="361.0"/>
<line class="g" x1="455.6" y1="0" x2="455.6" y2="507.3"/>
<line class="g" x1="0" y1="445.6" x2="473.6" y2="445.6"/>
<polyline class="sw" points="0.0,430.4 23.7,414.8 47.4,399.4 71.0,384.1 94.7,369.0 118.4,354.1 142.1,339.3 165.8,324.7 189.4,310.3 213.1,296.0 236.8,281.9 260.5,267.9 284.2,254.1 307.8,240.5 331.5,227.0 355.2,213.7 378.9,200.6 402.6,187.6 426.2,174.8 449.9,162.2 473.6,149.7"/>
<polyline class="sw" points="29.5,507.3 53.2,491.5 76.9,475.9 100.5,460.5 124.2,445.3 147.9,430.2 171.6,415.4 195.3,400.7 218.9,386.2 242.6,371.9 266.3,357.8 290.0,343.9 313.7,330.1 337.3,316.6 361.0,303.2 384.7,290.0 408.4,277.0 432.1,264.2 455.7,251.6"/>
<polygon class="isl2" points="52.3,282.4 54.9,278.5 58.0,275.4 59.4,276.1 58.3,279.9 53.7,285.0"/>
<polygon class="isl2" points="70.7,274.0 72.1,270.0 77.0,267.2 84.8,266.2 88.3,268.7 89.3,274.0 87.2,278.9 82.3,281.5 77.3,280.0 72.4,277.6"/>
<polygon class="isl2" points="130.0,294.0 135.6,293.7 141.0,289.1 144.8,293.7 148.3,299.4 151.4,299.1 154.0,306.2 146.9,306.7 141.3,303.6 139.1,305.7 135.6,305.0 131.7,299.4"/>
<polygon class="isl2" points="167.8,314.2 171.6,309.3 173.0,310.0 182.2,309.7 184.3,310.7 188.6,310.4 190.4,312.1 189.7,314.2 186.4,316.3 179.4,316.0 183.6,312.9 173.0,314.6"/>
<polygon class="isl2" points="177.7,322.7 182.2,321.5 185.7,323.1 186.7,327.6 182.9,329.4 180.8,326.9"/>
<polygon class="isl2" points="192.1,320.6 195.6,316.6 198.4,318.4 200.5,322.7 207.6,321.0 213.3,323.7 219.6,327.6 218.2,332.6 211.8,334.7 204.8,335.8 201.3,333.3 199.1,328.3 194.2,325.5"/>
<polygon class="isl2" points="193.2,337.2 197.0,335.4 197.4,338.6 193.8,339.6"/>
<polygon class="isl2" points="223.8,351.6 225.3,349.2 231.6,352.7 245.7,357.5 252.8,362.2 255.6,366.4 256.3,371.4 260.5,374.2 262.7,378.4 266.6,382.0 261.2,386.9 254.2,391.1 247.1,391.8 238.0,397.5 233.7,405.3 224.5,400.3 222.9,395.4 221.7,384.1 218.9,375.6 217.9,370.0 226.0,360.8 223.8,355.8"/>
<path d="M230.3,253.1h12M236.3,247.1v12" stroke="#000" stroke-width="4.6" fill="none"/>
<text class="s" x="61.0" y="255.8" text-anchor="middle">-160</text>
<text class="s" x="232.6" y="23.1">28</text>
<text class="s" x="139.8" y="255.8" text-anchor="middle">-158</text>
<text class="s" x="232.6" y="107.7">26</text>
<text class="s" x="218.5" y="255.8" text-anchor="middle">-156</text>
<text class="s" x="232.6" y="192.2">24</text>
<text class="s" x="297.3" y="255.8" text-anchor="middle">-154</text>
<text class="s" x="232.6" y="276.8">22</text>
<text class="s" x="376.0" y="255.8" text-anchor="middle">-152</text>
<text class="s" x="232.6" y="361.3">20</text>
<text class="s" x="454.8" y="255.8" text-anchor="middle">-150</text>
<text class="s" x="232.6" y="445.9">18</text>

<text class="t" x="24.2" y="24.5">2A25 near surface rainrate (mm/hr)</text>
<text class="l" x="426.2" y="481.8">(c)</text>
<rect x="481.8" y="490.39" width="9.2" height="8.76" fill="#82e68c"/>
<rect x="481.8" y="481.94" width="9.2" height="8.76" fill="#7dde86"/>
<rect x="481.8" y="473.48" width="9.2" height="8.76" fill="#78d780"/>
<rect x="481.8" y="465.03" width="9.2" height="8.76" fill="#73d07a"/>
<rect x="481.8" y="456.57" width="9.2" height="8.76" fill="#6ec875"/>
<rect x="481.8" y="448.12" width="9.2" height="8.76" fill="#69c06f"/>
<rect x="481.8" y="439.66" width="9.2" height="8.76" fill="#64b969"/>
<rect x="481.8" y="431.21" width="9.2" height="8.76" fill="#d0d4ff"/>
<rect x="481.8" y="422.75" width="9.2" height="8.76" fill="#d0d4ff"/>
<rect x="481.8" y="414.30" width="9.2" height="8.76" fill="#b6c6ff"/>
<rect x="481.8" y="405.84" width="9.2" height="8.76" fill="#9bbeff"/>
<rect x="481.8" y="397.38" width="9.2" height="8.76" fill="#80b6ff"/>
<rect x="481.8" y="388.93" width="9.2" height="8.76" fill="#80b6ff"/>
<rect x="481.8" y="380.48" width="9.2" height="8.76" fill="#64acff"/>
<rect x="481.8" y="372.02" width="9.2" height="8.76" fill="#4ba0ff"/>
<rect x="481.8" y="363.56" width="9.2" height="8.76" fill="#4687ff"/>
<rect x="481.8" y="355.11" width="9.2" height="8.76" fill="#4687ff"/>
<rect x="481.8" y="346.65" width="9.2" height="8.76" fill="#4470ff"/>
<rect x="481.8" y="338.20" width="9.2" height="8.76" fill="#3c4eff"/>
<rect x="481.8" y="329.75" width="9.2" height="8.76" fill="#3232ff"/>
<rect x="481.8" y="321.29" width="9.2" height="8.76" fill="#3232ff"/>
<rect x="481.8" y="312.84" width="9.2" height="8.76" fill="#0000ff"/>
<rect x="481.8" y="304.38" width="9.2" height="8.76" fill="#0000f0"/>
<rect x="481.8" y="295.93" width="9.2" height="8.76" fill="#0000e1"/>
<rect x="481.8" y="287.47" width="9.2" height="8.76" fill="#0000e1"/>
<rect x="481.8" y="279.01" width="9.2" height="8.76" fill="#0000cd"/>
<rect x="481.8" y="270.56" width="9.2" height="8.76" fill="#0000b9"/>
<rect x="481.8" y="262.11" width="9.2" height="8.76" fill="#ffff00"/>
<rect x="481.8" y="253.65" width="9.2" height="8.76" fill="#ffff00"/>
<rect x="481.8" y="245.19" width="9.2" height="8.76" fill="#fff200"/>
<rect x="481.8" y="236.74" width="9.2" height="8.76" fill="#ffe600"/>
<rect x="481.8" y="228.29" width="9.2" height="8.76" fill="#ffe600"/>
<rect x="481.8" y="219.83" width="9.2" height="8.76" fill="#ffda00"/>
<rect x="481.8" y="211.38" width="9.2" height="8.76" fill="#ffcd00"/>
<rect x="481.8" y="202.92" width="9.2" height="8.76" fill="#ff9600"/>
<rect x="481.8" y="194.47" width="9.2" height="8.76" fill="#ff9600"/>
<rect x="481.8" y="186.01" width="9.2" height="8.76" fill="#ff8e00"/>
<rect x="481.8" y="177.56" width="9.2" height="8.76" fill="#ff8600"/>
<rect x="481.8" y="169.10" width="9.2" height="8.76" fill="#ff7e00"/>
<rect x="481.8" y="160.64" width="9.2" height="8.76" fill="#ff7600"/>
<rect x="481.8" y="152.19" width="9.2" height="8.76" fill="#ff4600"/>
<rect x="481.8" y="143.74" width="9.2" height="8.76" fill="#ff4600"/>
<rect x="481.8" y="135.28" width="9.2" height="8.76" fill="#ff3a00"/>
<rect x="481.8" y="126.82" width="9.2" height="8.76" fill="#ff2d00"/>
<rect x="481.8" y="118.37" width="9.2" height="8.76" fill="#ff2d00"/>
<rect x="481.8" y="109.92" width="9.2" height="8.76" fill="#ff2000"/>
<rect x="481.8" y="101.46" width="9.2" height="8.76" fill="#ff1400"/>
<rect x="481.8" y="93.00" width="9.2" height="8.76" fill="#cd0000"/>
<rect x="481.8" y="84.55" width="9.2" height="8.76" fill="#cd0000"/>
<rect x="481.8" y="76.10" width="9.2" height="8.76" fill="#bf0200"/>
<rect x="481.8" y="67.64" width="9.2" height="8.76" fill="#b20500"/>
<rect x="481.8" y="59.19" width="9.2" height="8.76" fill="#b20500"/>
<rect x="481.8" y="50.73" width="9.2" height="8.76" fill="#a40800"/>
<rect x="481.8" y="42.28" width="9.2" height="8.76" fill="#960a00"/>
<rect x="481.8" y="33.82" width="9.2" height="8.76" fill="#640e05"/>
<rect x="481.8" y="25.37" width="9.2" height="8.76" fill="#62120b"/>
<rect x="481.8" y="16.91" width="9.2" height="8.76" fill="#601510"/>
<rect x="481.8" y="8.45" width="9.2" height="8.76" fill="#5e1816"/>
<rect x="481.8" y="0.00" width="9.2" height="8.76" fill="#5c1c1c"/>
<line x1="491.0" y1="507.1" x2="493.0" y2="507.1" stroke="#000" stroke-width="1"/>
<text x="511.0" y="515.6" font-size="19.7" text-anchor="middle" stroke="#000" stroke-width="0.25">0</text>
<line x1="491.0" y1="456.4" x2="493.0" y2="456.4" stroke="#000" stroke-width="1"/>
<text x="511.0" y="464.9" font-size="19.7" text-anchor="middle" stroke="#000" stroke-width="0.25">6</text>
<line x1="491.0" y1="405.6" x2="493.0" y2="405.6" stroke="#000" stroke-width="1"/>
<text x="511.0" y="414.1" font-size="19.7" text-anchor="middle" stroke="#000" stroke-width="0.25">12</text>
<line x1="491.0" y1="354.9" x2="493.0" y2="354.9" stroke="#000" stroke-width="1"/>
<text x="511.0" y="363.4" font-size="19.7" text-anchor="middle" stroke="#000" stroke-width="0.25">18</text>
<line x1="491.0" y1="304.2" x2="493.0" y2="304.2" stroke="#000" stroke-width="1"/>
<text x="511.0" y="312.7" font-size="19.7" text-anchor="middle" stroke="#000" stroke-width="0.25">24</text>
<line x1="491.0" y1="253.5" x2="493.0" y2="253.5" stroke="#000" stroke-width="1"/>
<text x="511.0" y="261.9" font-size="19.7" text-anchor="middle" stroke="#000" stroke-width="0.25">30</text>
<line x1="491.0" y1="202.7" x2="493.0" y2="202.7" stroke="#000" stroke-width="1"/>
<text x="511.0" y="211.2" font-size="19.7" text-anchor="middle" stroke="#000" stroke-width="0.25">36</text>
<line x1="491.0" y1="152.0" x2="493.0" y2="152.0" stroke="#000" stroke-width="1"/>
<text x="511.0" y="160.5" font-size="19.7" text-anchor="middle" stroke="#000" stroke-width="0.25">42</text>
<line x1="491.0" y1="101.3" x2="493.0" y2="101.3" stroke="#000" stroke-width="1"/>
<text x="511.0" y="109.8" font-size="19.7" text-anchor="middle" stroke="#000" stroke-width="0.25">48</text>
<line x1="491.0" y1="50.5" x2="493.0" y2="50.5" stroke="#000" stroke-width="1"/>
<text x="511.0" y="59.0" font-size="19.7" text-anchor="middle" stroke="#000" stroke-width="0.25">54</text>
</g>
<g transform="translate(13.2,631.8)" opacity="0.999">
<defs><clipPath id="cd"><polygon points="0.0,308.7 39.4,284.3 78.8,260.2 118.2,236.4 157.7,213.0 197.1,189.9 236.5,167.0 275.9,144.6 315.3,122.4 354.8,100.6 394.2,79.1 433.6,57.9 473.0,37.0 473.0,362.1 473.0,362.1 452.2,373.4 431.3,384.8 410.5,396.4 389.7,408.1 368.8,420.0 348.0,432.1 327.2,444.3 306.3,456.6 285.5,469.1 264.7,481.8 243.8,494.6 223.0,507.6 0.0,507.7"/></clipPath><filter id="bd" x="-100%" y="-100%" width="300%" height="300%"><feGaussianBlur stdDeviation="5"/></filter><filter id="bd2" x="-100%" y="-100%" width="300%" height="300%"><feGaussianBlur stdDeviation="9"/></filter></defs>
<polygon points="0.0,308.7 39.4,284.3 78.8,260.2 118.2,236.4 157.7,213.0 197.1,189.9 236.5,167.0 275.9,144.6 315.3,122.4 354.8,100.6 394.2,79.1 433.6,57.9 473.0,37.0 473.0,362.1 473.0,362.1 452.2,373.4 431.3,384.8 410.5,396.4 389.7,408.1 368.8,420.0 348.0,432.1 327.2,444.3 306.3,456.6 285.5,469.1 264.7,481.8 243.8,494.6 223.0,507.6 0.0,507.7" fill="#ebebeb"/>
<g clip-path="url(#cd)">
<polygon points="294.8,137.7 296.6,140.8 300.6,144.0 299.3,149.0 301.1,154.4 299.3,158.5 296.6,163.4 298.8,167.0 299.7,171.6 302.9,177.0 306.5,182.8 305.1,189.6 306.5,195.0 305.1,199.6 311.5,205.0 310.7,208.6 306.1,212.2 302.4,211.3 298.8,208.6 294.3,209.9 286.2,210.9 280.8,209.5 278.0,210.9 277.1,214.0 272.6,215.6 268.1,214.0 266.3,211.3 258.2,209.9 251.4,211.8 251.4,215.4 246.4,217.2 248.2,213.1 245.1,210.9 243.7,207.2 242.4,203.6 248.2,201.8 250.0,195.0 251.4,188.7 251.4,180.6 250.0,176.1 246.4,176.1 237.4,180.1 225.6,179.7 221.6,180.6 219.3,188.7 214.8,195.9 209.4,197.8 209.8,193.2 208.5,190.5 210.7,186.0 213.0,183.3 212.1,180.1 225.6,172.5 238.3,165.2 244.6,160.7 262.7,151.2 268.1,146.3 277.1,142.2 286.2,139.9" fill="#9a9a9a" stroke="#9a9a9a" stroke-width="7" filter="url(#bd)" opacity="0.75"/>
<ellipse cx="218" cy="212" rx="20" ry="18" fill="#a8a8a8" filter="url(#bd2)" opacity="0.6"/>
<ellipse cx="322" cy="150" rx="14" ry="30" fill="#b0b0b0" filter="url(#bd2)" opacity="0.5"/>
<ellipse cx="285" cy="212" rx="40" ry="9" fill="#b4b4b4" filter="url(#bd2)" opacity="0.5"/>
</g>
<polygon points="294.8,137.7 296.6,140.8 300.6,144.0 299.3,149.0 301.1,154.4 299.3,158.5 296.6,163.4 298.8,167.0 299.7,171.6 302.9,177.0 306.5,182.8 305.1,189.6 306.5,195.0 305.1,199.6 311.5,205.0 310.7,208.6 306.1,212.2 302.4,211.3 298.8,208.6 294.3,209.9 286.2,210.9 280.8,209.5 278.0,210.9 277.1,214.0 272.6,215.6 268.1,214.0 266.3,211.3 258.2,209.9 251.4,211.8 251.4,215.4 246.4,217.2 248.2,213.1 245.1,210.9 243.7,207.2 242.4,203.6 248.2,201.8 250.0,195.0 251.4,188.7 251.4,180.6 250.0,176.1 246.4,176.1 237.4,180.1 225.6,179.7 221.6,180.6 219.3,188.7 214.8,195.9 209.4,197.8 209.8,193.2 208.5,190.5 210.7,186.0 213.0,183.3 212.1,180.1 225.6,172.5 238.3,165.2 244.6,160.7 262.7,151.2 268.1,146.3 277.1,142.2 286.2,139.9" fill="#84dc8e" stroke="#000" stroke-width="1.50" stroke-linejoin="round"/>
<polygon points="284.0,147.6 293.1,147.3 290.6,152.6 292.6,155.2 287.5,160.8 289.6,164.8 286.5,168.4 291.6,170.9 289.6,174.0 294.2,176.5 291.6,179.1 297.7,182.1 298.7,185.7 295.7,187.7 287.5,185.2 282.5,186.2 277.4,188.2 270.3,189.7 264.2,188.7 265.7,185.7 273.3,181.1 269.2,179.1 272.3,177.0 271.3,174.0 272.3,172.0 264.7,170.9 270.3,168.4 263.1,167.9 264.2,164.3 274.3,161.8 269.2,160.8 270.3,159.3 277.4,154.7 280.4,150.6" fill="#c6d0ff"/>
<polygon points="283.5,149.6 288.6,148.6 287.5,152.6 284.5,156.7 282.5,160.8 281.4,164.8 283.5,168.9 285.5,174.0 287.5,179.1 290.6,183.1 286.5,184.2 280.4,183.1 275.3,179.1 276.4,174.0 274.3,169.9 277.4,166.9 274.3,163.8 278.4,158.7 280.4,153.7" fill="#8ec2ff"/>
<polygon points="250.4,204.5 258.6,193.3 263.1,192.8 270.3,196.4 274.3,199.4 277.4,201.4 274.3,203.5 269.2,201.9 264.2,206.5 257.0,208.6 250.9,208.0" fill="#9cc2ff"/>
<polygon points="253.5,203.0 258.6,198.4 265.2,200.4 262.1,204.0 256.5,205.0" fill="#5f92ff"/>
<polygon points="246.9,168.4 250.4,164.8 253.5,165.4 252.0,168.9 248.4,169.4" fill="#c6d0ff"/>
<polygon points="294.7,206.5 297.7,203.0 304.8,202.5 310.4,207.5 306.3,209.6 300.2,206.5" fill="#6a9cff"/>
<polygon points="266.2,206.5 271.3,204.5 273.3,206.0 268.2,208.6" fill="#5a90ff"/>
<polygon points="277.4,206.5 282.5,203.5 287.5,204.5 282.5,208.6" fill="#4a70ff"/>
<polygon points="282.5,186.2 287.5,185.2 295.7,188.2 302.8,196.4 299.2,199.4 292.6,200.4 287.5,199.4 282.5,200.4 277.4,196.4 272.3,195.3 276.4,192.3" fill="#0a14e6"/>
<polygon points="285.0,192.5 288.6,190.5 292.6,192.5 289.1,194.6" fill="#ffe100"/>
<polygon points="277.9,197.9 280.9,196.4 284.0,197.6 280.9,199.9" fill="#ffe100"/>
<polygon points="293.1,200.7 297.2,199.2 297.7,200.2 294.2,201.7" fill="#ffe100"/>
<polygon points="279.9,203.0 284.5,201.4 285.0,202.5 280.9,204.2" fill="#ffe100"/>
<polygon points="269.8,212.6 272.8,211.1 275.9,212.4 274.3,214.1 270.8,214.1" fill="#ffe100"/>
<ellipse cx="307.4" cy="218.5" rx="4.8" ry="3.8" fill="#7fa8ff" stroke="#000" stroke-width="1.1"/>
<path d="M305.2,219.7 l4.5,-2" stroke="#ffd800" stroke-width="1.6"/>
<polygon points="308.8,233.4 311.5,229.8 315.1,228.9 316.9,230.7 314.2,233.4 310.6,234.8" fill="#84dc8e" stroke="#000" stroke-width="1.10" stroke-linejoin="round"/>
<rect x="208.3" y="202.5" width="2.2" height="1.4" fill="#111"/>
<rect x="228" y="368" width="7" height="22" fill="#c4c4c4" filter="url(#bd)" opacity="0.9"/>
<rect x="235.8" y="391" width="3" height="2.6" fill="#111" transform="rotate(-25 237 392)"/>
<line class="g" x1="61.8" y1="0" x2="61.8" y2="507.3"/>
<line class="g" x1="0" y1="22.8" x2="473.6" y2="22.8"/>
<line class="g" x1="140.6" y1="0" x2="140.6" y2="507.3"/>
<line class="g" x1="0" y1="107.4" x2="473.6" y2="107.4"/>
<line class="g" x1="219.3" y1="0" x2="219.3" y2="507.3"/>
<line class="g" x1="0" y1="191.9" x2="473.6" y2="191.9"/>
<line class="g" x1="298.1" y1="0" x2="298.1" y2="507.3"/>
<line class="g" x1="0" y1="276.5" x2="473.6" y2="276.5"/>
<line class="g" x1="376.8" y1="0" x2="376.8" y2="507.3"/>
<line class="g" x1="0" y1="361.0" x2="473.6" y2="361.0"/>
<line class="g" x1="455.6" y1="0" x2="455.6" y2="507.3"/>
<line class="g" x1="0" y1="445.6" x2="473.6" y2="445.6"/>
<polyline class="sw" points="0.0,430.4 23.7,414.8 47.4,399.4 71.0,384.1 94.7,369.0 118.4,354.1 142.1,339.3 165.8,324.7 189.4,310.3 213.1,296.0 236.8,281.9 260.5,267.9 284.2,254.1 307.8,240.5 331.5,227.0 355.2,213.7 378.9,200.6 402.6,187.6 426.2,174.8 449.9,162.2 473.6,149.7"/>
<polyline class="sw" points="29.5,507.3 53.2,491.5 76.9,475.9 100.5,460.5 124.2,445.3 147.9,430.2 171.6,415.4 195.3,400.7 218.9,386.2 242.6,371.9 266.3,357.8 290.0,343.9 313.7,330.1 337.3,316.6 361.0,303.2 384.7,290.0 408.4,277.0 432.1,264.2 455.7,251.6"/>
<polygon class="isl" points="52.3,282.4 54.9,278.5 58.0,275.4 59.4,276.1 58.3,279.9 53.7,285.0"/>
<polygon class="isl" points="70.7,274.0 72.1,270.0 77.0,267.2 84.8,266.2 88.3,268.7 89.3,274.0 87.2,278.9 82.3,281.5 77.3,280.0 72.4,277.6"/>
<polygon class="isl" points="130.0,294.0 135.6,293.7 141.0,289.1 144.8,293.7 148.3,299.4 151.4,299.1 154.0,306.2 146.9,306.7 141.3,303.6 139.1,305.7 135.6,305.0 131.7,299.4"/>
<polygon class="isl" points="167.8,314.2 171.6,309.3 173.0,310.0 182.2,309.7 184.3,310.7 188.6,310.4 190.4,312.1 189.7,314.2 186.4,316.3 179.4,316.0 183.6,312.9 173.0,314.6"/>
<polygon class="isl" points="177.7,322.7 182.2,321.5 185.7,323.1 186.7,327.6 182.9,329.4 180.8,326.9"/>
<polygon class="isl" points="192.1,320.6 195.6,316.6 198.4,318.4 200.5,322.7 207.6,321.0 213.3,323.7 219.6,327.6 218.2,332.6 211.8,334.7 204.8,335.8 201.3,333.3 199.1,328.3 194.2,325.5"/>
<polygon class="isl" points="193.2,337.2 197.0,335.4 197.4,338.6 193.8,339.6"/>
<polygon class="isl" points="223.8,351.6 225.3,349.2 231.6,352.7 245.7,357.5 252.8,362.2 255.6,366.4 256.3,371.4 260.5,374.2 262.7,378.4 266.6,382.0 261.2,386.9 254.2,391.1 247.1,391.8 238.0,397.5 233.7,405.3 224.5,400.3 222.9,395.4 221.7,384.1 218.9,375.6 217.9,370.0 226.0,360.8 223.8,355.8"/>
<path d="M230.3,253.1h12M236.3,247.1v12" stroke="#000" stroke-width="4.6" fill="none"/>
<text class="s" x="61.0" y="255.8" text-anchor="middle">-160</text>
<text class="s" x="232.6" y="23.1">28</text>
<text class="s" x="139.8" y="255.8" text-anchor="middle">-158</text>
<text class="s" x="232.6" y="107.7">26</text>
<text class="s" x="218.5" y="255.8" text-anchor="middle">-156</text>
<text class="s" x="232.6" y="192.2">24</text>
<text class="s" x="297.3" y="255.8" text-anchor="middle">-154</text>
<text class="s" x="232.6" y="276.8">22</text>
<text class="s" x="376.0" y="255.8" text-anchor="middle">-152</text>
<text class="s" x="232.6" y="361.3">20</text>
<text class="s" x="454.8" y="255.8" text-anchor="middle">-150</text>
<text class="s" x="232.6" y="445.9">18</text>

<text class="t" x="24.2" y="24.5"> 85GHz PCT (K)</text>
<text class="l" x="426.2" y="481.8">(d)</text>
<rect x="481.8" y="490.39" width="9.2" height="8.76" fill="#f2f2f2"/>
<rect x="481.8" y="481.94" width="9.2" height="8.76" fill="#eaeaea"/>
<rect x="481.8" y="473.48" width="9.2" height="8.76" fill="#e2e2e2"/>
<rect x="481.8" y="465.03" width="9.2" height="8.76" fill="#dbdbdb"/>
<rect x="481.8" y="456.57" width="9.2" height="8.76" fill="#d3d3d3"/>
<rect x="481.8" y="448.12" width="9.2" height="8.76" fill="#cbcbcb"/>
<rect x="481.8" y="439.66" width="9.2" height="8.76" fill="#c3c3c3"/>
<rect x="481.8" y="431.21" width="9.2" height="8.76" fill="#bbbbbb"/>
<rect x="481.8" y="422.75" width="9.2" height="8.76" fill="#b3b3b3"/>
<rect x="481.8" y="414.30" width="9.2" height="8.76" fill="#ababab"/>
<rect x="481.8" y="405.84" width="9.2" height="8.76" fill="#a4a4a4"/>
<rect x="481.8" y="397.38" width="9.2" height="8.76" fill="#9c9c9c"/>
<rect x="481.8" y="388.93" width="9.2" height="8.76" fill="#949494"/>
<rect x="481.8" y="380.48" width="9.2" height="8.76" fill="#8c8c8c"/>
<rect x="481.8" y="372.02" width="9.2" height="8.76" fill="#82e18c"/>
<rect x="481.8" y="363.56" width="9.2" height="8.76" fill="#7ad683"/>
<rect x="481.8" y="355.11" width="9.2" height="8.76" fill="#73ca7a"/>
<rect x="481.8" y="346.65" width="9.2" height="8.76" fill="#6cbf72"/>
<rect x="481.8" y="338.20" width="9.2" height="8.76" fill="#64b469"/>
<rect x="481.8" y="329.75" width="9.2" height="8.76" fill="#d0d4ff"/>
<rect x="481.8" y="321.29" width="9.2" height="8.76" fill="#b6c6ff"/>
<rect x="481.8" y="312.84" width="9.2" height="8.76" fill="#9bbeff"/>
<rect x="481.8" y="304.38" width="9.2" height="8.76" fill="#80b6ff"/>
<rect x="481.8" y="295.93" width="9.2" height="8.76" fill="#64acff"/>
<rect x="481.8" y="287.47" width="9.2" height="8.76" fill="#4ba0ff"/>
<rect x="481.8" y="279.01" width="9.2" height="8.76" fill="#4687ff"/>
<rect x="481.8" y="270.56" width="9.2" height="8.76" fill="#4470ff"/>
<rect x="481.8" y="262.11" width="9.2" height="8.76" fill="#3c4eff"/>
<rect x="481.8" y="253.65" width="9.2" height="8.76" fill="#3232ff"/>
<rect x="481.8" y="245.19" width="9.2" height="8.76" fill="#0000ff"/>
<rect x="481.8" y="236.74" width="9.2" height="8.76" fill="#0000f0"/>
<rect x="481.8" y="228.29" width="9.2" height="8.76" fill="#0000e1"/>
<rect x="481.8" y="219.83" width="9.2" height="8.76" fill="#0000cd"/>
<rect x="481.8" y="211.38" width="9.2" height="8.76" fill="#0000b9"/>
<rect x="481.8" y="202.92" width="9.2" height="8.76" fill="#ffff00"/>
<rect x="481.8" y="194.47" width="9.2" height="8.76" fill="#fff200"/>
<rect x="481.8" y="186.01" width="9.2" height="8.76" fill="#ffe600"/>
<rect x="481.8" y="177.56" width="9.2" height="8.76" fill="#ffda00"/>
<rect x="481.8" y="169.10" width="9.2" height="8.76" fill="#ffcd00"/>
<rect x="481.8" y="160.64" width="9.2" height="8.76" fill="#ff9600"/>
<rect x="481.8" y="152.19" width="9.2" height="8.76" fill="#ff8e00"/>
<rect x="481.8" y="143.74" width="9.2" height="8.76" fill="#ff8600"/>
<rect x="481.8" y="135.28" width="9.2" height="8.76" fill="#ff7e00"/>
<rect x="481.8" y="126.82" width="9.2" height="8.76" fill="#ff7600"/>
<rect x="481.8" y="118.37" width="9.2" height="8.76" fill="#ff4600"/>
<rect x="481.8" y="109.92" width="9.2" height="8.76" fill="#ff3a00"/>
<rect x="481.8" y="101.46" width="9.2" height="8.76" fill="#ff2d00"/>
<rect x="481.8" y="93.00" width="9.2" height="8.76" fill="#ff2000"/>
<rect x="481.8" y="84.55" width="9.2" height="8.76" fill="#ff1400"/>
<rect x="481.8" y="76.10" width="9.2" height="8.76" fill="#cd0000"/>
<rect x="481.8" y="67.64" width="9.2" height="8.76" fill="#bf0200"/>
<rect x="481.8" y="59.19" width="9.2" height="8.76" fill="#b20500"/>
<rect x="481.8" y="50.73" width="9.2" height="8.76" fill="#a40800"/>
<rect x="481.8" y="42.28" width="9.2" height="8.76" fill="#960a00"/>
<rect x="481.8" y="33.82" width="9.2" height="8.76" fill="#640e05"/>
<rect x="481.8" y="25.37" width="9.2" height="8.76" fill="#62120b"/>
<rect x="481.8" y="16.91" width="9.2" height="8.76" fill="#601510"/>
<rect x="481.8" y="8.45" width="9.2" height="8.76" fill="#5e1816"/>
<rect x="481.8" y="0.00" width="9.2" height="8.76" fill="#5c1c1c"/>
<line x1="491.0" y1="507.1" x2="493.0" y2="507.1" stroke="#000" stroke-width="1"/>
<text x="511.0" y="515.6" font-size="19.7" text-anchor="middle" stroke="#000" stroke-width="0.25">300</text>
<line x1="491.0" y1="456.4" x2="493.0" y2="456.4" stroke="#000" stroke-width="1"/>
<text x="511.0" y="464.9" font-size="19.7" text-anchor="middle" stroke="#000" stroke-width="0.25">279</text>
<line x1="491.0" y1="405.6" x2="493.0" y2="405.6" stroke="#000" stroke-width="1"/>
<text x="511.0" y="414.1" font-size="19.7" text-anchor="middle" stroke="#000" stroke-width="0.25">258</text>
<line x1="491.0" y1="354.9" x2="493.0" y2="354.9" stroke="#000" stroke-width="1"/>
<text x="511.0" y="363.4" font-size="19.7" text-anchor="middle" stroke="#000" stroke-width="0.25">237</text>
<line x1="491.0" y1="304.2" x2="493.0" y2="304.2" stroke="#000" stroke-width="1"/>
<text x="511.0" y="312.7" font-size="19.7" text-anchor="middle" stroke="#000" stroke-width="0.25">216</text>
<line x1="491.0" y1="253.5" x2="493.0" y2="253.5" stroke="#000" stroke-width="1"/>
<text x="511.0" y="261.9" font-size="19.7" text-anchor="middle" stroke="#000" stroke-width="0.25">195</text>
<line x1="491.0" y1="202.7" x2="493.0" y2="202.7" stroke="#000" stroke-width="1"/>
<text x="511.0" y="211.2" font-size="19.7" text-anchor="middle" stroke="#000" stroke-width="0.25">174</text>
<line x1="491.0" y1="152.0" x2="493.0" y2="152.0" stroke="#000" stroke-width="1"/>
<text x="511.0" y="160.5" font-size="19.7" text-anchor="middle" stroke="#000" stroke-width="0.25">153</text>
<line x1="491.0" y1="101.3" x2="493.0" y2="101.3" stroke="#000" stroke-width="1"/>
<text x="511.0" y="109.8" font-size="19.7" text-anchor="middle" stroke="#000" stroke-width="0.25">132</text>
<line x1="491.0" y1="50.5" x2="493.0" y2="50.5" stroke="#000" stroke-width="1"/>
<text x="511.0" y="59.0" font-size="19.7" text-anchor="middle" stroke="#000" stroke-width="0.25">111</text>
</g>
<g transform="translate(603.6,631.8)" opacity="0.999">
<defs><clipPath id="ce"><polygon points="0.0,308.7 39.4,284.3 78.8,260.2 118.2,236.4 157.7,213.0 197.1,189.9 236.5,167.0 275.9,144.6 315.3,122.4 354.8,100.6 394.2,79.1 433.6,57.9 473.0,37.0 473.0,362.1 473.0,362.1 452.2,373.4 431.3,384.8 410.5,396.4 389.7,408.1 368.8,420.0 348.0,432.1 327.2,444.3 306.3,456.6 285.5,469.1 264.7,481.8 243.8,494.6 223.0,507.6 0.0,507.7"/></clipPath>
<filter id="be" x="-100%" y="-100%" width="300%" height="300%"><feGaussianBlur stdDeviation="9"/></filter>
<filter id="be2" x="-100%" y="-100%" width="300%" height="300%"><feGaussianBlur stdDeviation="2.2"/></filter>
<filter id="be3" x="-100%" y="-100%" width="300%" height="300%"><feGaussianBlur stdDeviation="0.9"/></filter>
<pattern id="pe1" width="49.50" height="49.50" patternUnits="userSpaceOnUse" patternTransform="rotate(-28)"><g fill="#6cc276"><rect x="0.00" y="0.00" width="3.35" height="3.35"/><rect x="0.00" y="6.60" width="3.35" height="3.35"/><rect x="0.00" y="16.50" width="3.35" height="3.35"/><rect x="0.00" y="19.80" width="3.35" height="3.35"/><rect x="0.00" y="26.40" width="3.35" height="3.35"/><rect x="0.00" y="29.70" width="3.35" height="3.35"/><rect x="3.30" y="0.00" width="3.35" height="3.35"/><rect x="3.30" y="19.80" width="3.35" height="3.35"/><rect x="3.30" y="29.70" width="3.35" height="3.35"/><rect x="3.30" y="33.00" width="3.35" height="3.35"/><rect x="6.60" y="6.60" width="3.35" height="3.35"/><rect x="6.60" y="13.20" width="3.35" height="3.35"/><rect x="6.60" y="23.10" width="3.35" height="3.35"/><rect x="6.60" y="26.40" width="3.35" height="3.35"/><rect x="6.60" y="29.70" width="3.35" height="3.35"/><rect x="6.60" y="36.30" width="3.35" height="3.35"/><rect x="6.60" y="42.90" width="3.35" height="3.35"/><rect x="9.90" y="0.00" width="3.35" height="3.35"/><rect x="9.90" y="3.30" width="3.35" height="3.35"/><rect x="9.90" y="33.00" width="3.35" height="3.35"/><rect x="13.20" y="3.30" width="3.35" height="3.35"/><rect x="13.20" y="13.20" width="3.35" height="3.35"/><rect x="13.20" y="16.50" width="3.35" height="3.35"/><rect x="13.20" y="26.40" width="3.35" height="3.35"/><rect x="13.20" y="33.00" width="3.35" height="3.35"/><rect x="13.20" y="36.30" width="3.35" height="3.35"/><rect x="13.20" y="39.60" width="3.35" height="3.35"/><rect x="16.50" y="0.00" width="3.35" height="3.35"/><rect x="16.50" y="6.60" width="3.35" height="3.35"/><rect x="16.50" y="13.20" width="3.35" height="3.35"/><rect x="16.50" y="29.70" width="3.35" height="3.35"/><rect x="16.50" y="33.00" width="3.35" height="3.35"/><rect x="16.50" y="39.60" width="3.35" height="3.35"/><rect x="16.50" y="42.90" width="3.35" height="3.35"/><rect x="16.50" y="46.20" width="3.35" height="3.35"/><rect x="19.80" y="3.30" width="3.35" height="3.35"/><rect x="19.80" y="6.60" width="3.35" height="3.35"/><rect x="19.80" y="13.20" width="3.35" height="3.35"/><rect x="19.80" y="23.10" width="3.35" height="3.35"/><rect x="23.10" y="3.30" width="3.35" height="3.35"/><rect x="23.10" y="9.90" width="3.35" height="3.35"/><rect x="23.10" y="13.20" width="3.35" height="3.35"/><rect x="23.10" y="26.40" width="3.35" height="3.35"/><rect x="23.10" y="29.70" width="3.35" height="3.35"/><rect x="23.10" y="36.30" width="3.35" height="3.35"/><rect x="23.10" y="46.20" width="3.35" height="3.35"/><rect x="26.40" y="9.90" width="3.35" height="3.35"/><rect x="26.40" y="19.80" width="3.35" height="3.35"/><rect x="26.40" y="23.10" width="3.35" height="3.35"/><rect x="26.40" y="33.00" width="3.35" height="3.35"/><rect x="26.40" y="42.90" width="3.35" height="3.35"/><rect x="26.40" y="46.20" width="3.35" height="3.35"/><rect x="29.70" y="0.00" width="3.35" height="3.35"/><rect x="29.70" y="3.30" width="3.35" height="3.35"/><rect x="29.70" y="9.90" width="3.35" height="3.35"/><rect x="29.70" y="13.20" width="3.35" height="3.35"/><rect x="29.70" y="19.80" width="3.35" height="3.35"/><rect x="29.70" y="29.70" width="3.35" height="3.35"/><rect x="29.70" y="33.00" width="3.35" height="3.35"/><rect x="29.70" y="39.60" width="3.35" height="3.35"/><rect x="29.70" y="42.90" width="3.35" height="3.35"/><rect x="29.70" y="46.20" width="3.35" height="3.35"/><rect x="33.00" y="3.30" width="3.35" height="3.35"/><rect x="33.00" y="6.60" width="3.35" height="3.35"/><rect x="33.00" y="9.90" width="3.35" height="3.35"/><rect x="33.00" y="16.50" width="3.35" height="3.35"/><rect x="33.00" y="23.10" width="3.35" height="3.35"/><rect x="33.00" y="26.40" width="3.35" height="3.35"/><rect x="33.00" y="39.60" width="3.35" height="3.35"/><rect x="33.00" y="42.90" width="3.35" height="3.35"/><rect x="36.30" y="0.00" width="3.35" height="3.35"/><rect x="36.30" y="9.90" width="3.35" height="3.35"/><rect x="36.30" y="13.20" width="3.35" height="3.35"/><rect x="36.30" y="26.40" width="3.35" height="3.35"/><rect x="36.30" y="29.70" width="3.35" height="3.35"/><rect x="36.30" y="33.00" width="3.35" height="3.35"/><rect x="36.30" y="39.60" width="3.35" height="3.35"/><rect x="36.30" y="42.90" width="3.35" height="3.35"/><rect x="36.30" y="46.20" width="3.35" height="3.35"/><rect x="39.60" y="0.00" width="3.35" height="3.35"/><rect x="39.60" y="3.30" width="3.35" height="3.35"/><rect x="39.60" y="9.90" width="3.35" height="3.35"/><rect x="39.60" y="13.20" width="3.35" height="3.35"/><rect x="39.60" y="26.40" width="3.35" height="3.35"/><rect x="39.60" y="36.30" width="3.35" height="3.35"/><rect x="42.90" y="3.30" width="3.35" height="3.35"/><rect x="42.90" y="6.60" width="3.35" height="3.35"/><rect x="42.90" y="9.90" width="3.35" height="3.35"/><rect x="42.90" y="13.20" width="3.35" height="3.35"/><rect x="42.90" y="19.80" width="3.35" height="3.35"/><rect x="42.90" y="26.40" width="3.35" height="3.35"/><rect x="46.20" y="0.00" width="3.35" height="3.35"/><rect x="46.20" y="6.60" width="3.35" height="3.35"/><rect x="46.20" y="9.90" width="3.35" height="3.35"/><rect x="46.20" y="19.80" width="3.35" height="3.35"/><rect x="46.20" y="29.70" width="3.35" height="3.35"/><rect x="46.20" y="33.00" width="3.35" height="3.35"/><rect x="46.20" y="46.20" width="3.35" height="3.35"/></g></pattern>
<pattern id="pe2" width="49.50" height="49.50" patternUnits="userSpaceOnUse" patternTransform="rotate(-28)"><g fill="#6cc276"><rect x="0.00" y="19.80" width="3.35" height="3.35"/><rect x="0.00" y="36.30" width="3.35" height="3.35"/><rect x="3.30" y="3.30" width="3.35" height="3.35"/><rect x="3.30" y="6.60" width="3.35" height="3.35"/><rect x="3.30" y="19.80" width="3.35" height="3.35"/><rect x="3.30" y="26.40" width="3.35" height="3.35"/><rect x="3.30" y="33.00" width="3.35" height="3.35"/><rect x="3.30" y="36.30" width="3.35" height="3.35"/><rect x="3.30" y="42.90" width="3.35" height="3.35"/><rect x="3.30" y="46.20" width="3.35" height="3.35"/><rect x="6.60" y="19.80" width="3.35" height="3.35"/><rect x="6.60" y="42.90" width="3.35" height="3.35"/><rect x="6.60" y="46.20" width="3.35" height="3.35"/><rect x="9.90" y="0.00" width="3.35" height="3.35"/><rect x="9.90" y="9.90" width="3.35" height="3.35"/><rect x="9.90" y="39.60" width="3.35" height="3.35"/><rect x="9.90" y="46.20" width="3.35" height="3.35"/><rect x="13.20" y="6.60" width="3.35" height="3.35"/><rect x="13.20" y="19.80" width="3.35" height="3.35"/><rect x="13.20" y="23.10" width="3.35" height="3.35"/><rect x="13.20" y="26.40" width="3.35" height="3.35"/><rect x="13.20" y="33.00" width="3.35" height="3.35"/><rect x="16.50" y="9.90" width="3.35" height="3.35"/><rect x="16.50" y="23.10" width="3.35" height="3.35"/><rect x="16.50" y="29.70" width="3.35" height="3.35"/><rect x="19.80" y="9.90" width="3.35" height="3.35"/><rect x="19.80" y="13.20" width="3.35" height="3.35"/><rect x="19.80" y="16.50" width="3.35" height="3.35"/><rect x="19.80" y="26.40" width="3.35" height="3.35"/><rect x="19.80" y="29.70" width="3.35" height="3.35"/><rect x="23.10" y="9.90" width="3.35" height="3.35"/><rect x="23.10" y="16.50" width="3.35" height="3.35"/><rect x="23.10" y="26.40" width="3.35" height="3.35"/><rect x="23.10" y="42.90" width="3.35" height="3.35"/><rect x="26.40" y="0.00" width="3.35" height="3.35"/><rect x="26.40" y="42.90" width="3.35" height="3.35"/><rect x="29.70" y="16.50" width="3.35" height="3.35"/><rect x="33.00" y="33.00" width="3.35" height="3.35"/><rect x="39.60" y="0.00" width="3.35" height="3.35"/><rect x="39.60" y="23.10" width="3.35" height="3.35"/><rect x="42.90" y="3.30" width="3.35" height="3.35"/><rect x="42.90" y="6.60" width="3.35" height="3.35"/><rect x="42.90" y="16.50" width="3.35" height="3.35"/><rect x="42.90" y="26.40" width="3.35" height="3.35"/><rect x="42.90" y="36.30" width="3.35" height="3.35"/><rect x="42.90" y="39.60" width="3.35" height="3.35"/><rect x="42.90" y="46.20" width="3.35" height="3.35"/><rect x="46.20" y="0.00" width="3.35" height="3.35"/><rect x="46.20" y="3.30" width="3.35" height="3.35"/><rect x="46.20" y="26.40" width="3.35" height="3.35"/><rect x="46.20" y="39.60" width="3.35" height="3.35"/></g></pattern>
<pattern id="pe3" width="49.50" height="49.50" patternUnits="userSpaceOnUse" patternTransform="rotate(-28)"><g fill="#70c67a"><rect x="0.00" y="13.20" width="3.35" height="3.35"/><rect x="0.00" y="46.20" width="3.35" height="3.35"/><rect x="3.30" y="3.30" width="3.35" height="3.35"/><rect x="3.30" y="29.70" width="3.35" height="3.35"/><rect x="6.60" y="16.50" width="3.35" height="3.35"/><rect x="9.90" y="9.90" width="3.35" height="3.35"/><rect x="9.90" y="42.90" width="3.35" height="3.35"/><rect x="13.20" y="13.20" width="3.35" height="3.35"/><rect x="16.50" y="13.20" width="3.35" height="3.35"/><rect x="19.80" y="0.00" width="3.35" height="3.35"/><rect x="19.80" y="3.30" width="3.35" height="3.35"/><rect x="19.80" y="29.70" width="3.35" height="3.35"/><rect x="19.80" y="33.00" width="3.35" height="3.35"/><rect x="23.10" y="6.60" width="3.35" height="3.35"/><rect x="23.10" y="19.80" width="3.35" height="3.35"/><rect x="23.10" y="46.20" width="3.35" height="3.35"/><rect x="29.70" y="19.80" width="3.35" height="3.35"/><rect x="29.70" y="29.70" width="3.35" height="3.35"/><rect x="33.00" y="13.20" width="3.35" height="3.35"/><rect x="39.60" y="39.60" width="3.35" height="3.35"/></g></pattern>
<pattern id="pe4" width="56.10" height="56.10" patternUnits="userSpaceOnUse" patternTransform="rotate(-28)"><g fill="#c9d3ff"><rect x="3.30" y="13.20" width="3.35" height="3.35"/><rect x="3.30" y="29.70" width="3.35" height="3.35"/><rect x="6.60" y="52.80" width="3.35" height="3.35"/><rect x="26.40" y="6.60" width="3.35" height="3.35"/><rect x="29.70" y="3.30" width="3.35" height="3.35"/><rect x="29.70" y="16.50" width="3.35" height="3.35"/><rect x="36.30" y="29.70" width="3.35" height="3.35"/><rect x="39.60" y="3.30" width="3.35" height="3.35"/><rect x="46.20" y="16.50" width="3.35" height="3.35"/><rect x="46.20" y="39.60" width="3.35" height="3.35"/><rect x="46.20" y="49.50" width="3.35" height="3.35"/><rect x="49.50" y="42.90" width="3.35" height="3.35"/></g></pattern>
<pattern id="pe5" width="49.50" height="49.50" patternUnits="userSpaceOnUse" patternTransform="rotate(-28)"><g fill="#8ebcff"><rect x="0.00" y="0.00" width="3.35" height="3.35"/><rect x="0.00" y="13.20" width="3.35" height="3.35"/><rect x="0.00" y="16.50" width="3.35" height="3.35"/><rect x="0.00" y="19.80" width="3.35" height="3.35"/><rect x="0.00" y="23.10" width="3.35" height="3.35"/><rect x="0.00" y="29.70" width="3.35" height="3.35"/><rect x="0.00" y="36.30" width="3.35" height="3.35"/><rect x="0.00" y="39.60" width="3.35" height="3.35"/><rect x="3.30" y="3.30" width="3.35" height="3.35"/><rect x="3.30" y="6.60" width="3.35" height="3.35"/><rect x="3.30" y="9.90" width="3.35" height="3.35"/><rect x="3.30" y="36.30" width="3.35" height="3.35"/><rect x="6.60" y="6.60" width="3.35" height="3.35"/><rect x="6.60" y="13.20" width="3.35" height="3.35"/><rect x="6.60" y="16.50" width="3.35" height="3.35"/><rect x="6.60" y="39.60" width="3.35" height="3.35"/><rect x="9.90" y="0.00" width="3.35" height="3.35"/><rect x="9.90" y="3.30" width="3.35" height="3.35"/><rect x="9.90" y="9.90" width="3.35" height="3.35"/><rect x="9.90" y="19.80" width="3.35" height="3.35"/><rect x="9.90" y="23.10" width="3.35" height="3.35"/><rect x="9.90" y="29.70" width="3.35" height="3.35"/><rect x="9.90" y="33.00" width="3.35" height="3.35"/><rect x="9.90" y="36.30" width="3.35" height="3.35"/><rect x="9.90" y="39.60" width="3.35" height="3.35"/><rect x="9.90" y="42.90" width="3.35" height="3.35"/><rect x="13.20" y="3.30" width="3.35" height="3.35"/><rect x="13.20" y="13.20" width="3.35" height="3.35"/><rect x="13.20" y="16.50" width="3.35" height="3.35"/><rect x="13.20" y="29.70" width="3.35" height="3.35"/><rect x="13.20" y="46.20" width="3.35" height="3.35"/><rect x="16.50" y="3.30" width="3.35" height="3.35"/><rect x="16.50" y="9.90" width="3.35" height="3.35"/><rect x="16.50" y="23.10" width="3.35" height="3.35"/><rect x="16.50" y="36.30" width="3.35" height="3.35"/><rect x="16.50" y="42.90" width="3.35" height="3.35"/><rect x="16.50" y="46.20" width="3.35" height="3.35"/><rect x="19.80" y="0.00" width="3.35" height="3.35"/><rect x="19.80" y="6.60" width="3.35" height="3.35"/><rect x="19.80" y="9.90" width="3.35" height="3.35"/><rect x="19.80" y="13.20" width="3.35" height="3.35"/><rect x="19.80" y="26.40" width="3.35" height="3.35"/><rect x="19.80" y="33.00" width="3.35" height="3.35"/><rect x="19.80" y="36.30" width="3.35" height="3.35"/><rect x="19.80" y="39.60" width="3.35" height="3.35"/><rect x="19.80" y="46.20" width="3.35" height="3.35"/><rect x="23.10" y="0.00" width="3.35" height="3.35"/><rect x="23.10" y="3.30" width="3.35" height="3.35"/><rect x="23.10" y="9.90" width="3.35" height="3.35"/><rect x="23.10" y="16.50" width="3.35" height="3.35"/><rect x="23.10" y="23.10" width="3.35" height="3.35"/><rect x="23.10" y="26.40" width="3.35" height="3.35"/><rect x="23.10" y="46.20" width="3.35" height="3.35"/><rect x="26.40" y="0.00" width="3.35" height="3.35"/><rect x="26.40" y="13.20" width="3.35" height="3.35"/><rect x="26.40" y="23.10" width="3.35" height="3.35"/><rect x="26.40" y="29.70" width="3.35" height="3.35"/><rect x="26.40" y="33.00" width="3.35" height="3.35"/><rect x="26.40" y="36.30" width="3.35" height="3.35"/><rect x="26.40" y="39.60" width="3.35" height="3.35"/><rect x="26.40" y="42.90" width="3.35" height="3.35"/><rect x="26.40" y="46.20" width="3.35" height="3.35"/><rect x="29.70" y="0.00" width="3.35" height="3.35"/><rect x="29.70" y="3.30" width="3.35" height="3.35"/><rect x="29.70" y="13.20" width="3.35" height="3.35"/><rect x="29.70" y="19.80" width="3.35" height="3.35"/><rect x="29.70" y="29.70" width="3.35" height="3.35"/><rect x="29.70" y="33.00" width="3.35" height="3.35"/><rect x="29.70" y="39.60" width="3.35" height="3.35"/><rect x="29.70" y="46.20" width="3.35" height="3.35"/><rect x="33.00" y="3.30" width="3.35" height="3.35"/><rect x="33.00" y="6.60" width="3.35" height="3.35"/><rect x="33.00" y="9.90" width="3.35" height="3.35"/><rect x="33.00" y="13.20" width="3.35" height="3.35"/><rect x="33.00" y="16.50" width="3.35" height="3.35"/><rect x="33.00" y="19.80" width="3.35" height="3.35"/><rect x="33.00" y="33.00" width="3.35" height="3.35"/><rect x="33.00" y="39.60" width="3.35" height="3.35"/><rect x="33.00" y="46.20" width="3.35" height="3.35"/><rect x="36.30" y="6.60" width="3.35" height="3.35"/><rect x="36.30" y="9.90" width="3.35" height="3.35"/><rect x="36.30" y="13.20" width="3.35" height="3.35"/><rect x="36.30" y="19.80" width="3.35" height="3.35"/><rect x="36.30" y="26.40" width="3.35" height="3.35"/><rect x="36.30" y="29.70" width="3.35" height="3.35"/><rect x="36.30" y="36.30" width="3.35" height="3.35"/><rect x="39.60" y="23.10" width="3.35" height="3.35"/><rect x="39.60" y="26.40" width="3.35" height="3.35"/><rect x="39.60" y="39.60" width="3.35" height="3.35"/><rect x="39.60" y="46.20" width="3.35" height="3.35"/><rect x="42.90" y="0.00" width="3.35" height="3.35"/><rect x="42.90" y="3.30" width="3.35" height="3.35"/><rect x="42.90" y="6.60" width="3.35" height="3.35"/><rect x="42.90" y="13.20" width="3.35" height="3.35"/><rect x="42.90" y="42.90" width="3.35" height="3.35"/><rect x="46.20" y="0.00" width="3.35" height="3.35"/><rect x="46.20" y="3.30" width="3.35" height="3.35"/><rect x="46.20" y="13.20" width="3.35" height="3.35"/><rect x="46.20" y="23.10" width="3.35" height="3.35"/><rect x="46.20" y="26.40" width="3.35" height="3.35"/><rect x="46.20" y="29.70" width="3.35" height="3.35"/><rect x="46.20" y="33.00" width="3.35" height="3.35"/><rect x="46.20" y="39.60" width="3.35" height="3.35"/></g></pattern>
<pattern id="pe7" width="49.50" height="49.50" patternUnits="userSpaceOnUse" patternTransform="rotate(-28)"><g fill="#c9d3ff"><rect x="0.00" y="9.90" width="3.35" height="3.35"/><rect x="0.00" y="23.10" width="3.35" height="3.35"/><rect x="0.00" y="26.40" width="3.35" height="3.35"/><rect x="0.00" y="39.60" width="3.35" height="3.35"/><rect x="0.00" y="42.90" width="3.35" height="3.35"/><rect x="3.30" y="13.20" width="3.35" height="3.35"/><rect x="6.60" y="3.30" width="3.35" height="3.35"/><rect x="6.60" y="23.10" width="3.35" height="3.35"/><rect x="6.60" y="26.40" width="3.35" height="3.35"/><rect x="6.60" y="36.30" width="3.35" height="3.35"/><rect x="6.60" y="39.60" width="3.35" height="3.35"/><rect x="6.60" y="42.90" width="3.35" height="3.35"/><rect x="6.60" y="46.20" width="3.35" height="3.35"/><rect x="9.90" y="33.00" width="3.35" height="3.35"/><rect x="13.20" y="13.20" width="3.35" height="3.35"/><rect x="13.20" y="19.80" width="3.35" height="3.35"/><rect x="13.20" y="26.40" width="3.35" height="3.35"/><rect x="16.50" y="16.50" width="3.35" height="3.35"/><rect x="16.50" y="19.80" width="3.35" height="3.35"/><rect x="16.50" y="26.40" width="3.35" height="3.35"/><rect x="16.50" y="39.60" width="3.35" height="3.35"/><rect x="16.50" y="46.20" width="3.35" height="3.35"/><rect x="23.10" y="23.10" width="3.35" height="3.35"/><rect x="23.10" y="46.20" width="3.35" height="3.35"/><rect x="26.40" y="23.10" width="3.35" height="3.35"/><rect x="26.40" y="33.00" width="3.35" height="3.35"/><rect x="26.40" y="46.20" width="3.35" height="3.35"/><rect x="29.70" y="6.60" width="3.35" height="3.35"/><rect x="29.70" y="36.30" width="3.35" height="3.35"/><rect x="36.30" y="3.30" width="3.35" height="3.35"/><rect x="36.30" y="19.80" width="3.35" height="3.35"/><rect x="36.30" y="26.40" width="3.35" height="3.35"/><rect x="39.60" y="6.60" width="3.35" height="3.35"/><rect x="39.60" y="19.80" width="3.35" height="3.35"/><rect x="39.60" y="26.40" width="3.35" height="3.35"/><rect x="39.60" y="42.90" width="3.35" height="3.35"/><rect x="42.90" y="3.30" width="3.35" height="3.35"/><rect x="42.90" y="13.20" width="3.35" height="3.35"/><rect x="42.90" y="16.50" width="3.35" height="3.35"/><rect x="42.90" y="23.10" width="3.35" height="3.35"/><rect x="46.20" y="6.60" width="3.35" height="3.35"/><rect x="46.20" y="9.90" width="3.35" height="3.35"/></g></pattern>
<pattern id="pe6" width="46.80" height="46.80" patternUnits="userSpaceOnUse" patternTransform="rotate(-28)"><g fill="#74ce7e"><rect x="0.00" y="10.80" width="3.65" height="3.65"/><rect x="0.00" y="25.20" width="3.65" height="3.65"/><rect x="0.00" y="28.80" width="3.65" height="3.65"/><rect x="0.00" y="39.60" width="3.65" height="3.65"/><rect x="3.60" y="18.00" width="3.65" height="3.65"/><rect x="3.60" y="28.80" width="3.65" height="3.65"/><rect x="3.60" y="43.20" width="3.65" height="3.65"/><rect x="7.20" y="14.40" width="3.65" height="3.65"/><rect x="7.20" y="28.80" width="3.65" height="3.65"/><rect x="7.20" y="43.20" width="3.65" height="3.65"/><rect x="10.80" y="3.60" width="3.65" height="3.65"/><rect x="10.80" y="28.80" width="3.65" height="3.65"/><rect x="14.40" y="0.00" width="3.65" height="3.65"/><rect x="14.40" y="7.20" width="3.65" height="3.65"/><rect x="14.40" y="21.60" width="3.65" height="3.65"/><rect x="18.00" y="0.00" width="3.65" height="3.65"/><rect x="18.00" y="3.60" width="3.65" height="3.65"/><rect x="18.00" y="18.00" width="3.65" height="3.65"/><rect x="18.00" y="32.40" width="3.65" height="3.65"/><rect x="18.00" y="43.20" width="3.65" height="3.65"/><rect x="21.60" y="25.20" width="3.65" height="3.65"/><rect x="21.60" y="28.80" width="3.65" height="3.65"/><rect x="21.60" y="32.40" width="3.65" height="3.65"/><rect x="21.60" y="36.00" width="3.65" height="3.65"/><rect x="21.60" y="39.60" width="3.65" height="3.65"/><rect x="25.20" y="14.40" width="3.65" height="3.65"/><rect x="25.20" y="21.60" width="3.65" height="3.65"/><rect x="25.20" y="39.60" width="3.65" height="3.65"/><rect x="25.20" y="43.20" width="3.65" height="3.65"/><rect x="28.80" y="3.60" width="3.65" height="3.65"/><rect x="28.80" y="10.80" width="3.65" height="3.65"/><rect x="28.80" y="14.40" width="3.65" height="3.65"/><rect x="28.80" y="18.00" width="3.65" height="3.65"/><rect x="32.40" y="7.20" width="3.65" height="3.65"/><rect x="32.40" y="14.40" width="3.65" height="3.65"/><rect x="32.40" y="21.60" width="3.65" height="3.65"/><rect x="36.00" y="39.60" width="3.65" height="3.65"/><rect x="39.60" y="25.20" width="3.65" height="3.65"/><rect x="39.60" y="28.80" width="3.65" height="3.65"/><rect x="43.20" y="0.00" width="3.65" height="3.65"/><rect x="43.20" y="3.60" width="3.65" height="3.65"/><rect x="43.20" y="14.40" width="3.65" height="3.65"/><rect x="43.20" y="32.40" width="3.65" height="3.65"/><rect x="43.20" y="43.20" width="3.65" height="3.65"/></g></pattern>
</defs>
<polygon points="0.0,308.7 39.4,284.3 78.8,260.2 118.2,236.4 157.7,213.0 197.1,189.9 236.5,167.0 275.9,144.6 315.3,122.4 354.8,100.6 394.2,79.1 433.6,57.9 473.0,37.0 473.0,362.1 473.0,362.1 452.2,373.4 431.3,384.8 410.5,396.4 389.7,408.1 368.8,420.0 348.0,432.1 327.2,444.3 306.3,456.6 285.5,469.1 264.7,481.8 243.8,494.6 223.0,507.6 0.0,507.7" fill="#c9d3ff"/>
<g clip-path="url(#ce)">
<linearGradient id="lge" gradientUnits="userSpaceOnUse" x1="250" y1="0" x2="473" y2="0"><stop offset="0" stop-color="#86baff" stop-opacity="0.85"/><stop offset="1" stop-color="#a4c6ff" stop-opacity="0.55"/></linearGradient>
<polygon points="176.1,221.2 204.6,183.3 277.3,142.2 471.8,35.6 471.8,126.4 429.1,158.0 381.7,195.9 334.2,246.5 302.6,271.8 271.0,290.8 239.4,284.5 207.7,252.8" fill="url(#lge)" filter="url(#be)"/>
<polygon points="163.5,233.9 204.6,183.3 277.3,142.2 471.8,35.6 471.8,252.8 429.1,284.5 381.7,316.1 334.2,331.9 302.6,316.1 271.0,309.8 226.7,297.1 188.8,271.8" fill="url(#pe5)" opacity="0.45"/>
<polygon points="-1.0,308.3 30.0,289.1 60.0,270.7 90.0,252.4 120.0,234.4 150.4,216.3 150.4,215.2 178.4,219.9 165.4,232.2 157.9,247.0 172.4,257.2 187.4,270.2 177.0,282.2 191.4,289.2 185.4,299.9 202.0,297.6 213.4,305.8 220.4,302.2 236.4,300.2 254.4,302.2 267.4,311.2 269.4,327.2 283.4,334.2 297.4,336.2 314.4,334.2 330.4,343.2 344.4,361.2 353.4,383.2 359.4,404.2 344.4,434.2 300.0,509.3 -1.0,509.3" fill="#80da8a"/>
<polygon points="-1.0,308.3 30.0,289.1 60.0,270.7 90.0,252.4 120.0,234.4 150.4,216.3 150.4,215.2 178.4,219.9 165.4,232.2 157.9,247.0 172.4,257.2 187.4,270.2 177.0,282.2 191.4,289.2 185.4,299.9 202.0,297.6 213.4,305.8 220.4,302.2 236.4,300.2 254.4,302.2 267.4,311.2 269.4,327.2 283.4,334.2 297.4,336.2 314.4,334.2 330.4,343.2 344.4,361.2 353.4,383.2 359.4,404.2 344.4,434.2 300.0,509.3 -1.0,509.3" fill="url(#pe6)" opacity="0.55"/>
<polygon points="-0.6,318.2 96.4,248.2 196.4,298.2 226.4,368.2 156.4,378.2 96.4,328.2 36.4,358.2 -0.6,368.2" fill="url(#pe4)" opacity="0.9"/>
<polygon points="113.9,236.7 178.5,219.8 165.3,232.3 157.9,247.0 172.6,257.3 187.3,270.5 177.0,282.2 191.7,289.6 185.8,299.9 143.2,299.9 122.7,282.2 116.8,258.7" fill="url(#pe7)"/>
<polygon points="178.5,219.8 187.3,225.0 194.6,247.0 209.3,270.5 225.5,291.0 231.3,294.0 219.6,299.9 213.7,305.7 202.0,297.6 185.8,299.9 191.7,289.6 177.0,282.2 187.3,270.5 172.6,257.3 157.9,247.0 165.3,232.3" fill="url(#pe2)"/>
<polygon points="165.3,232.3 181.4,236.7 191.7,258.7 202.0,276.4 209.3,291.0 202.0,297.6 185.8,299.9 191.7,289.6 177.0,282.2 187.3,270.5 172.6,257.3 157.9,247.0" fill="url(#pe1)"/>
<polygon points="314.1,334.3 337.6,325.3 362.8,310.8 380.9,274.7 409.8,249.4 435.1,220.5 456.8,200.6 473.0,191.6 473.0,346.9 458.6,365.0 399.0,401.1 353.8,426.4 359.2,404.8 353.8,383.1 344.8,361.4 330.3,343.3" fill="url(#pe2)"/>
<polygon points="344.8,361.4 362.8,328.9 391.7,292.8 417.0,263.9 435.1,260.2 449.6,285.5 444.1,328.9 417.0,365.0 380.9,397.5 355.6,410.2 353.8,383.1" fill="url(#pe1)"/>
<polygon points="199.7,290.5 220.0,278.3 260.6,290.5 296.4,310.9 296.4,341.3 266.7,310.9 248.4,308.8 232.2,310.9 220.0,302.7 211.8,294.6" fill="url(#pe3)"/>
<polygon points="169.2,388.1 187.5,386.1 199.7,392.2 203.7,380.0 211.8,377.9 215.9,392.2 211.8,408.4 220.0,420.6 228.1,428.7 246.4,420.6 240.3,432.8 226.1,449.1 220.0,459.2 205.7,465.3 195.6,473.5 199.7,453.1 197.6,436.9 183.4,428.7 175.3,418.6 179.3,408.4 171.2,400.3" fill="#9f9f9f"/>
<polygon points="154.9,473.5 171.2,467.4 185.4,469.4 199.7,473.5 197.6,483.6 183.4,493.8 175.3,509.0 140.7,509.0 150.9,491.7" fill="#9f9f9f"/>
<polygon points="206.2,183.3 275.8,142.6 289.3,142.6 292.9,148.1 296.6,163.4 302.9,183.3 309.2,204.1 311.9,217.6 313.7,234.8 308.3,232.1 302.9,222.1 293.8,217.6 275.8,216.7 257.7,218.5 250.5,217.6 239.6,224.9 230.6,217.6 227.0,199.6 218.9,199.6 214.3,210.4 207.1,217.6 201.7,208.6 202.6,195.0" fill="#4a78ff" stroke="#4a78ff" stroke-width="9" stroke-linejoin="round" filter="url(#be2)"/>
<polygon points="206.2,183.3 275.8,142.6 289.3,142.6 292.9,148.1 296.6,163.4 302.9,183.3 309.2,204.1 311.9,217.6 313.7,234.8 308.3,232.1 302.9,222.1 293.8,217.6 275.8,216.7 257.7,218.5 250.5,217.6 239.6,224.9 230.6,217.6 227.0,199.6 218.9,199.6 214.3,210.4 207.1,217.6 201.7,208.6 202.6,195.0" fill="#0a10e0" filter="url(#be3)"/>
<polygon points="276.7,152.6 285.7,152.6 280.3,180.6 275.8,177.9 257.7,177.0 266.7,168.8 269.5,167.0 264.0,167.9 266.7,160.7" fill="#ffee00"/>
<polygon points="247.8,190.5 251.4,184.2 255.9,180.6 262.2,181.5 261.3,185.1 272.2,184.2 266.7,189.6 264.0,193.2 253.2,193.2" fill="#ffee00"/>
<polygon points="266.7,197.8 275.8,195.9 284.8,189.6 292.0,191.4 302.0,196.8 301.1,199.6 296.6,201.4 302.0,207.7 297.5,208.6 289.3,204.1 280.3,208.6 275.8,205.9 279.4,202.3" fill="#ffee00"/>
<polygon points="253.2,205.0 256.8,199.6 263.1,202.3 261.3,207.7 257.7,207.7" fill="#ffee00"/>
<polygon points="269.0,212.2 273.1,209.9 275.3,211.8 271.3,214.0" fill="#ffee00"/>
<polygon points="277.6,197.8 284.8,191.4 292.0,193.2 290.2,198.7 282.1,200.5" fill="#ff9600"/>
<polygon points="215.9,371.8 224.0,363.7 240.3,361.7 250.5,369.8 252.5,384.0 246.4,392.2 232.2,400.3 222.0,402.3 216.9,388.1" fill="#7fb4ff" filter="url(#be2)"/>
<polygon points="224.0,377.9 234.2,367.8 242.3,371.8 238.3,384.0 228.1,392.2 223.0,388.1" fill="#1438f0" filter="url(#be2)"/>
<rect x="72.6" y="275.3" width="12.2" height="5.1" fill="#8cbcff"/>
<rect x="131.6" y="297.6" width="10.2" height="7.1" fill="#8cbcff"/>
<rect x="201.7" y="327.1" width="10.2" height="6.1" fill="#8cbcff"/>
</g>
<line class="g" x1="61.8" y1="0" x2="61.8" y2="507.3"/>
<line class="g" x1="0" y1="22.8" x2="473.6" y2="22.8"/>
<line class="g" x1="140.6" y1="0" x2="140.6" y2="507.3"/>
<line class="g" x1="0" y1="107.4" x2="473.6" y2="107.4"/>
<line class="g" x1="219.3" y1="0" x2="219.3" y2="507.3"/>
<line class="g" x1="0" y1="191.9" x2="473.6" y2="191.9"/>
<line class="g" x1="298.1" y1="0" x2="298.1" y2="507.3"/>
<line class="g" x1="0" y1="276.5" x2="473.6" y2="276.5"/>
<line class="g" x1="376.8" y1="0" x2="376.8" y2="507.3"/>
<line class="g" x1="0" y1="361.0" x2="473.6" y2="361.0"/>
<line class="g" x1="455.6" y1="0" x2="455.6" y2="507.3"/>
<line class="g" x1="0" y1="445.6" x2="473.6" y2="445.6"/>
<polyline class="sw" points="0.0,430.4 23.7,414.8 47.4,399.4 71.0,384.1 94.7,369.0 118.4,354.1 142.1,339.3 165.8,324.7 189.4,310.3 213.1,296.0 236.8,281.9 260.5,267.9 284.2,254.1 307.8,240.5 331.5,227.0 355.2,213.7 378.9,200.6 402.6,187.6 426.2,174.8 449.9,162.2 473.6,149.7"/>
<polyline class="sw" points="29.5,507.3 53.2,491.5 76.9,475.9 100.5,460.5 124.2,445.3 147.9,430.2 171.6,415.4 195.3,400.7 218.9,386.2 242.6,371.9 266.3,357.8 290.0,343.9 313.7,330.1 337.3,316.6 361.0,303.2 384.7,290.0 408.4,277.0 432.1,264.2 455.7,251.6"/>
<polygon class="isl" points="52.3,282.4 54.9,278.5 58.0,275.4 59.4,276.1 58.3,279.9 53.7,285.0"/>
<polygon class="isl" points="70.7,274.0 72.1,270.0 77.0,267.2 84.8,266.2 88.3,268.7 89.3,274.0 87.2,278.9 82.3,281.5 77.3,280.0 72.4,277.6"/>
<polygon class="isl" points="130.0,294.0 135.6,293.7 141.0,289.1 144.8,293.7 148.3,299.4 151.4,299.1 154.0,306.2 146.9,306.7 141.3,303.6 139.1,305.7 135.6,305.0 131.7,299.4"/>
<polygon class="isl" points="167.8,314.2 171.6,309.3 173.0,310.0 182.2,309.7 184.3,310.7 188.6,310.4 190.4,312.1 189.7,314.2 186.4,316.3 179.4,316.0 183.6,312.9 173.0,314.6"/>
<polygon class="isl" points="177.7,322.7 182.2,321.5 185.7,323.1 186.7,327.6 182.9,329.4 180.8,326.9"/>
<polygon class="isl" points="192.1,320.6 195.6,316.6 198.4,318.4 200.5,322.7 207.6,321.0 213.3,323.7 219.6,327.6 218.2,332.6 211.8,334.7 204.8,335.8 201.3,333.3 199.1,328.3 194.2,325.5"/>
<polygon class="isl" points="193.2,337.2 197.0,335.4 197.4,338.6 193.8,339.6"/>
<polygon class="isl" points="223.8,351.6 225.3,349.2 231.6,352.7 245.7,357.5 252.8,362.2 255.6,366.4 256.3,371.4 260.5,374.2 262.7,378.4 266.6,382.0 261.2,386.9 254.2,391.1 247.1,391.8 238.0,397.5 233.7,405.3 224.5,400.3 222.9,395.4 221.7,384.1 218.9,375.6 217.9,370.0 226.0,360.8 223.8,355.8"/>
<path d="M230.3,253.1h12M236.3,247.1v12" stroke="#000" stroke-width="4.6" fill="none"/>
<text class="s" x="61.0" y="255.8" text-anchor="middle">-160</text>
<text class="s" x="232.6" y="23.1">28</text>
<text class="s" x="139.8" y="255.8" text-anchor="middle">-158</text>
<text class="s" x="232.6" y="107.7">26</text>
<text class="s" x="218.5" y="255.8" text-anchor="middle">-156</text>
<text class="s" x="232.6" y="192.2">24</text>
<text class="s" x="297.3" y="255.8" text-anchor="middle">-154</text>
<text class="s" x="232.6" y="276.8">22</text>
<text class="s" x="376.0" y="255.8" text-anchor="middle">-152</text>
<text class="s" x="232.6" y="361.3">20</text>
<text class="s" x="454.8" y="255.8" text-anchor="middle">-150</text>
<text class="s" x="232.6" y="445.9">18</text>

<text class="t" x="24.2" y="24.5"> 37GHz PCT (K)</text>
<text class="l" x="426.2" y="481.8">(e)</text>
<rect x="481.8" y="490.39" width="9.2" height="8.76" fill="#f2f2f2"/>
<rect x="481.8" y="481.94" width="9.2" height="8.76" fill="#eaeaea"/>
<rect x="481.8" y="473.48" width="9.2" height="8.76" fill="#e2e2e2"/>
<rect x="481.8" y="465.03" width="9.2" height="8.76" fill="#dbdbdb"/>
<rect x="481.8" y="456.57" width="9.2" height="8.76" fill="#d3d3d3"/>
<rect x="481.8" y="448.12" width="9.2" height="8.76" fill="#cbcbcb"/>
<rect x="481.8" y="439.66" width="9.2" height="8.76" fill="#c3c3c3"/>
<rect x="481.8" y="431.21" width="9.2" height="8.76" fill="#bbbbbb"/>
<rect x="481.8" y="422.75" width="9.2" height="8.76" fill="#b3b3b3"/>
<rect x="481.8" y="414.30" width="9.2" height="8.76" fill="#ababab"/>
<rect x="481.8" y="405.84" width="9.2" height="8.76" fill="#a4a4a4"/>
<rect x="481.8" y="397.38" width="9.2" height="8.76" fill="#9c9c9c"/>
<rect x="481.8" y="388.93" width="9.2" height="8.76" fill="#949494"/>
<rect x="481.8" y="380.48" width="9.2" height="8.76" fill="#8c8c8c"/>
<rect x="481.8" y="372.02" width="9.2" height="8.76" fill="#82e18c"/>
<rect x="481.8" y="363.56" width="9.2" height="8.76" fill="#7ad683"/>
<rect x="481.8" y="355.11" width="9.2" height="8.76" fill="#73ca7a"/>
<rect x="481.8" y="346.65" width="9.2" height="8.76" fill="#6cbf72"/>
<rect x="481.8" y="338.20" width="9.2" height="8.76" fill="#64b469"/>
<rect x="481.8" y="329.75" width="9.2" height="8.76" fill="#d0d4ff"/>
<rect x="481.8" y="321.29" width="9.2" height="8.76" fill="#b6c6ff"/>
<rect x="481.8" y="312.84" width="9.2" height="8.76" fill="#9bbeff"/>
<rect x="481.8" y="304.38" width="9.2" height="8.76" fill="#80b6ff"/>
<rect x="481.8" y="295.93" width="9.2" height="8.76" fill="#64acff"/>
<rect x="481.8" y="287.47" width="9.2" height="8.76" fill="#4ba0ff"/>
<rect x="481.8" y="279.01" width="9.2" height="8.76" fill="#4687ff"/>
<rect x="481.8" y="270.56" width="9.2" height="8.76" fill="#4470ff"/>
<rect x="481.8" y="262.11" width="9.2" height="8.76" fill="#3c4eff"/>
<rect x="481.8" y="253.65" width="9.2" height="8.76" fill="#3232ff"/>
<rect x="481.8" y="245.19" width="9.2" height="8.76" fill="#0000ff"/>
<rect x="481.8" y="236.74" width="9.2" height="8.76" fill="#0000f0"/>
<rect x="481.8" y="228.29" width="9.2" height="8.76" fill="#0000e1"/>
<rect x="481.8" y="219.83" width="9.2" height="8.76" fill="#0000cd"/>
<rect x="481.8" y="211.38" width="9.2" height="8.76" fill="#0000b9"/>
<rect x="481.8" y="202.92" width="9.2" height="8.76" fill="#ffff00"/>
<rect x="481.8" y="194.47" width="9.2" height="8.76" fill="#fff200"/>
<rect x="481.8" y="186.01" width="9.2" height="8.76" fill="#ffe600"/>
<rect x="481.8" y="177.56" width="9.2" height="8.76" fill="#ffda00"/>
<rect x="481.8" y="169.10" width="9.2" height="8.76" fill="#ffcd00"/>
<rect x="481.8" y="160.64" width="9.2" height="8.76" fill="#ff9600"/>
<rect x="481.8" y="152.19" width="9.2" height="8.76" fill="#ff8e00"/>
<rect x="481.8" y="143.74" width="9.2" height="8.76" fill="#ff8600"/>
<rect x="481.8" y="135.28" width="9.2" height="8.76" fill="#ff7e00"/>
<rect x="481.8" y="126.82" width="9.2" height="8.76" fill="#ff7600"/>
<rect x="481.8" y="118.37" width="9.2" height="8.76" fill="#ff4600"/>
<rect x="481.8" y="109.92" width="9.2" height="8.76" fill="#ff3a00"/>
<rect x="481.8" y="101.46" width="9.2" height="8.76" fill="#ff2d00"/>
<rect x="481.8" y="93.00" width="9.2" height="8.76" fill="#ff2000"/>
<rect x="481.8" y="84.55" width="9.2" height="8.76" fill="#ff1400"/>
<rect x="481.8" y="76.10" width="9.2" height="8.76" fill="#cd0000"/>
<rect x="481.8" y="67.64" width="9.2" height="8.76" fill="#bf0200"/>
<rect x="481.8" y="59.19" width="9.2" height="8.76" fill="#b20500"/>
<rect x="481.8" y="50.73" width="9.2" height="8.76" fill="#a40800"/>
<rect x="481.8" y="42.28" width="9.2" height="8.76" fill="#960a00"/>
<rect x="481.8" y="33.82" width="9.2" height="8.76" fill="#640e05"/>
<rect x="481.8" y="25.37" width="9.2" height="8.76" fill="#62120b"/>
<rect x="481.8" y="16.91" width="9.2" height="8.76" fill="#601510"/>
<rect x="481.8" y="8.45" width="9.2" height="8.76" fill="#5e1816"/>
<rect x="481.8" y="0.00" width="9.2" height="8.76" fill="#5c1c1c"/>
<line x1="491.0" y1="507.1" x2="493.0" y2="507.1" stroke="#000" stroke-width="1"/>
<text x="511.0" y="515.6" font-size="19.7" text-anchor="middle" stroke="#000" stroke-width="0.25">315</text>
<line x1="491.0" y1="456.4" x2="493.0" y2="456.4" stroke="#000" stroke-width="1"/>
<text x="511.0" y="464.9" font-size="19.7" text-anchor="middle" stroke="#000" stroke-width="0.25">306</text>
<line x1="491.0" y1="405.6" x2="493.0" y2="405.6" stroke="#000" stroke-width="1"/>
<text x="511.0" y="414.1" font-size="19.7" text-anchor="middle" stroke="#000" stroke-width="0.25">297</text>
<line x1="491.0" y1="354.9" x2="493.0" y2="354.9" stroke="#000" stroke-width="1"/>
<text x="511.0" y="363.4" font-size="19.7" text-anchor="middle" stroke="#000" stroke-width="0.25">288</text>
<line x1="491.0" y1="304.2" x2="493.0" y2="304.2" stroke="#000" stroke-width="1"/>
<text x="511.0" y="312.7" font-size="19.7" text-anchor="middle" stroke="#000" stroke-width="0.25">279</text>
<line x1="491.0" y1="253.5" x2="493.0" y2="253.5" stroke="#000" stroke-width="1"/>
<text x="511.0" y="261.9" font-size="19.7" text-anchor="middle" stroke="#000" stroke-width="0.25">270</text>
<line x1="491.0" y1="202.7" x2="493.0" y2="202.7" stroke="#000" stroke-width="1"/>
<text x="511.0" y="211.2" font-size="19.7" text-anchor="middle" stroke="#000" stroke-width="0.25">261</text>
<line x1="491.0" y1="152.0" x2="493.0" y2="152.0" stroke="#000" stroke-width="1"/>
<text x="511.0" y="160.5" font-size="19.7" text-anchor="middle" stroke="#000" stroke-width="0.25">252</text>
<line x1="491.0" y1="101.3" x2="493.0" y2="101.3" stroke="#000" stroke-width="1"/>
<text x="511.0" y="109.8" font-size="19.7" text-anchor="middle" stroke="#000" stroke-width="0.25">243</text>
<line x1="491.0" y1="50.5" x2="493.0" y2="50.5" stroke="#000" stroke-width="1"/>
<text x="511.0" y="59.0" font-size="19.7" text-anchor="middle" stroke="#000" stroke-width="0.25">234</text>
</g>
<g transform="translate(1194.0,631.8)" opacity="0.999">
<defs><filter id="bf" x="-20%" y="-20%" width="140%" height="140%"><feGaussianBlur stdDeviation="0.8"/></filter></defs>
<polygon points="271.8,145.2 279.7,142.4 284.2,142.9 283.1,145.2 287.6,145.8 285.9,150.8 287.6,155.4 285.4,161.0 287.1,167.8 285.4,175.7 289.9,179.1 294.4,183.6 301.2,188.1 300.1,191.5 306.8,196.0 312.5,194.9 320.4,199.4 314.7,203.9 315.9,209.6 310.2,217.5 308.0,222.0 311.4,229.9 315.9,240.1 320.4,250.2 318.1,252.5 323.2,261.5 320.4,266.0 315.9,260.4 317.0,253.6 310.2,244.6 303.4,236.7 298.9,234.4 298.9,229.9 294.4,226.5 287.6,226.5 282.0,228.8 277.5,234.4 280.9,240.1 279.7,243.4 282.0,250.2 279.7,253.6 282.0,259.2 276.3,252.5 275.2,245.7 271.8,240.1 267.3,234.4 265.1,232.1 266.2,229.3 262.8,228.2 256.0,229.9 251.5,232.1 250.4,236.7 253.8,240.1 259.4,240.1 258.3,243.4 262.8,246.8 256.0,248.0 252.6,244.6 247.0,244.6 240.2,246.8 233.4,249.7 231.2,255.9 226.7,262.6 222.1,265.5 216.5,260.4 217.6,257.0 209.7,251.3 213.1,246.8 210.8,242.3 214.2,236.7 216.5,229.9 207.5,231.0 200.7,228.8 202.9,224.2 198.4,217.5 202.9,211.8 202.9,206.2 205.2,200.5 204.6,193.7 206.3,183.6" fill="#86e08f" stroke="#86e08f" stroke-width="2.20" stroke-linejoin="round"/>
<g filter="url(#bf)">
<polygon points="262.8,166.6 274.1,156.5 283.1,150.8 285.4,161.0 285.4,173.4 283.1,181.3 276.3,189.2 267.3,189.2 269.6,181.3 276.3,173.4 271.8,168.9 265.1,172.3" fill="#bfd0ff"/>
<polygon points="249.2,207.3 258.3,194.9 271.8,192.6 285.4,191.5 298.9,196.0 305.7,205.0 309.1,214.1 304.6,222.0 296.7,222.0 287.6,216.3 278.6,218.6 269.6,216.3 262.8,218.6 258.3,211.8" fill="#86b6ff"/>
<polygon points="292.2,218.6 298.9,216.3 305.7,224.2 311.4,234.4 308.0,238.9 301.2,233.3 296.7,225.4" fill="#8fb8ff"/>
<polygon points="218.7,242.3 223.3,229.9 228.9,226.5 233.4,228.8 227.8,235.5 222.1,243.4" fill="#c0d0ff"/>
<polygon points="267.3,225.4 276.3,218.6 285.4,218.6 278.6,224.2 271.8,228.8" fill="#c0d0ff"/>
<polygon points="256.0,206.2 267.3,194.9 283.1,194.9 294.4,205.0 301.2,215.2 294.4,219.7 287.6,211.8 280.9,205.0 274.1,203.9 267.3,211.8 274.1,215.2 269.6,217.5 260.5,211.8" fill="#2f54ff"/>
<polygon points="261.7,207.3 271.8,203.3 277.5,211.8 270.7,214.6" fill="#0a0ae0"/>
<polygon points="276.3,198.3 285.4,200.5 291.0,208.4 284.2,209.6 279.7,203.9" fill="#0a0ae0"/>
<polygon points="293.3,211.8 298.9,214.1 300.1,218.6 294.4,218.6" fill="#1e32f0"/>
<polygon points="219.9,208.4 224.4,207.9 242.5,214.1 240.2,216.3 231.2,214.1" fill="#86b6ff"/>
<polygon points="230.0,211.8 234.6,211.3 242.5,214.6 239.1,216.3" fill="#1428f0"/>
<polygon points="265.1,209.6 271.8,207.3 283.1,214.1 278.6,217.5 271.8,214.1" fill="#86e08f"/>
</g>
<polyline points="271.8,145.2 279.7,142.4 284.2,142.9 283.1,145.2 287.6,145.8 285.9,150.8 287.6,155.4 285.4,161.0 287.1,167.8 285.4,175.7 289.9,179.1 294.4,183.6 301.2,188.1 300.1,191.5 306.8,196.0 312.5,194.9 320.4,199.4 314.7,203.9 315.9,209.6 310.2,217.5 308.0,222.0 311.4,229.9 315.9,240.1 320.4,250.2 318.1,252.5 323.2,261.5 320.4,266.0 315.9,260.4 317.0,253.6 310.2,244.6 303.4,236.7 298.9,234.4 298.9,229.9 294.4,226.5 287.6,226.5 282.0,228.8 277.5,234.4 280.9,240.1 279.7,243.4 282.0,250.2 279.7,253.6 282.0,259.2 276.3,252.5 275.2,245.7 271.8,240.1 267.3,234.4 265.1,232.1 266.2,229.3 262.8,228.2 256.0,229.9 251.5,232.1 250.4,236.7 253.8,240.1 259.4,240.1 258.3,243.4 262.8,246.8 256.0,248.0 252.6,244.6 247.0,244.6 240.2,246.8 233.4,249.7 231.2,255.9 226.7,262.6 222.1,265.5 216.5,260.4 217.6,257.0 209.7,251.3 213.1,246.8 210.8,242.3 214.2,236.7 216.5,229.9 207.5,231.0 200.7,228.8 202.9,224.2 198.4,217.5 202.9,211.8 202.9,206.2 205.2,200.5 204.6,193.7 206.3,183.6" fill="none" stroke="#000" stroke-width="1.6" stroke-linejoin="round"/>
<polyline points="319.3,217.5 326.0,211.8 331.7,211.3 329.4,214.1" fill="none" stroke="#86e08f" stroke-width="3"/>
<polyline points="319.3,217.5 326.0,211.8 331.7,211.3 329.4,214.1" fill="#86e08f" stroke="#000" stroke-width="1.2"/>
<polyline points="336.2,219.2 342.4,215.8 344.7,217.5" fill="none" stroke="#86e08f" stroke-width="3"/>
<polyline points="336.2,219.2 342.4,215.8 344.7,217.5" fill="none" stroke="#000" stroke-width="1.2"/>
<polyline points="351.4,219.7 356.5,224.2" fill="none" stroke="#86e08f" stroke-width="3"/>
<polyline points="351.4,219.7 356.5,224.2" fill="none" stroke="#000" stroke-width="1.2"/>
<polyline points="331.7,234.4 335.6,237.2" fill="none" stroke="#86e08f" stroke-width="3"/>
<polyline points="331.7,234.4 335.6,237.2" fill="none" stroke="#000" stroke-width="1.2"/>
<polyline points="349.7,242.3 361.0,255.9" fill="none" stroke="#86e08f" stroke-width="3"/>
<polyline points="349.7,242.3 361.0,255.9" fill="none" stroke="#000" stroke-width="1.2"/>
<polyline points="321.5,269.4 327.7,268.8 330.6,273.9 326.0,277.3 321.5,269.4" fill="none" stroke="#86e08f" stroke-width="3"/>
<polyline points="321.5,269.4 327.7,268.8 330.6,273.9 326.0,277.3 321.5,269.4" fill="#86e08f" stroke="#000" stroke-width="1.2"/>
<polyline points="279.7,271.7 284.2,269.4 282.0,272.8 285.9,278.4" fill="none" stroke="#86e08f" stroke-width="3"/>
<polyline points="279.7,271.7 284.2,269.4 282.0,272.8 285.9,278.4" fill="#86e08f" stroke="#000" stroke-width="1.2"/>
<polyline points="280.9,282.4 287.6,289.7 292.2,287.5 287.6,290.9" fill="none" stroke="#86e08f" stroke-width="3"/>
<polyline points="280.9,282.4 287.6,289.7 292.2,287.5 287.6,290.9" fill="#86e08f" stroke="#000" stroke-width="1.2"/>
<polyline points="339.6,272.2 345.2,269.4 348.6,273.9" fill="none" stroke="#86e08f" stroke-width="3"/>
<polyline points="339.6,272.2 345.2,269.4 348.6,273.9" fill="none" stroke="#000" stroke-width="1.2"/>
<polyline points="357.7,273.4 359.9,277.3" fill="none" stroke="#86e08f" stroke-width="3"/>
<polyline points="357.7,273.4 359.9,277.3" fill="none" stroke="#000" stroke-width="1.2"/>
<polyline points="328.3,294.3 330.6,298.8" fill="none" stroke="#86e08f" stroke-width="3"/>
<polyline points="328.3,294.3 330.6,298.8" fill="none" stroke="#000" stroke-width="1.2"/>
<polyline points="331.7,302.2 332.8,305.0" fill="none" stroke="#86e08f" stroke-width="3"/>
<polyline points="331.7,302.2 332.8,305.0" fill="none" stroke="#000" stroke-width="1.2"/>
<polyline points="283.1,261.5 285.9,263.8" fill="none" stroke="#86e08f" stroke-width="3"/>
<polyline points="283.1,261.5 285.9,263.8" fill="none" stroke="#000" stroke-width="1.2"/>
<polyline points="339.1,327.0 345.7,328.0 344.7,332.7 339.7,333.7 339.1,327.0" fill="none" stroke="#86e08f" stroke-width="3"/>
<polyline points="339.1,327.0 345.7,328.0 344.7,332.7 339.7,333.7 339.1,327.0" fill="#86e08f" stroke="#000" stroke-width="1.2"/>
<polyline points="341.7,343.7 342.7,348.0" fill="none" stroke="#86e08f" stroke-width="3"/>
<polyline points="341.7,343.7 342.7,348.0" fill="none" stroke="#000" stroke-width="1.2"/>
<polyline points="382.1,360.4 384.5,356.0" fill="none" stroke="#86e08f" stroke-width="3"/>
<polyline points="382.1,360.4 384.5,356.0" fill="none" stroke="#000" stroke-width="1.2"/>
<polyline points="329.7,293.6 333.1,302.0" fill="none" stroke="#86e08f" stroke-width="3"/>
<polyline points="329.7,293.6 333.1,302.0" fill="none" stroke="#000" stroke-width="1.2"/>
<polygon points="374.8,415.4 377.1,402.1 379.8,393.7 391.5,393.7 393.1,400.4 388.1,407.1 383.1,408.7" fill="#86e08f" stroke="#86e08f" stroke-width="2.00" stroke-linejoin="round"/>
<polyline points="377.1,402.1 379.8,393.7 391.5,393.7 393.1,400.4 388.1,407.1 383.1,408.7 374.8,415.4" fill="none" stroke="#000" stroke-width="1.2" stroke-dasharray="5 1.5"/>
<polygon points="256.3,415.4 261.3,403.7 267.0,402.1 264.6,412.1 259.6,417.1" fill="#86e08f" stroke="#000" stroke-width="1.10" stroke-linejoin="round"/>
<polyline points="227.9,389.4 231.3,382.1 232.9,389.4" fill="none" stroke="#86e08f" stroke-width="2.6"/>
<polyline points="227.9,389.4 231.3,382.1 232.9,389.4" fill="none" stroke="#000" stroke-width="1.3"/>
<polyline points="237.0,387.7 238.6,395.4" fill="none" stroke="#86e08f" stroke-width="2.6"/>
<polyline points="237.0,387.7 238.6,395.4" fill="none" stroke="#000" stroke-width="1.3"/>
<rect x="81.1" y="285.3" width="3" height="1.5" fill="#86e08f" transform="rotate(-30 81.1 285.3)"/>
<rect x="174.5" y="298.6" width="3" height="1.5" fill="#86e08f" transform="rotate(-30 174.5 298.6)"/>
<rect x="67.8" y="272.6" width="3" height="1.5" fill="#86e08f" transform="rotate(-30 67.8 272.6)"/>
<rect x="289.7" y="373.7" width="3" height="1.5" fill="#86e08f" transform="rotate(-30 289.7 373.7)"/>
<rect x="274.7" y="398.7" width="3" height="1.5" fill="#86e08f" transform="rotate(-30 274.7 398.7)"/>
<rect x="253.0" y="423.8" width="3" height="1.5" fill="#86e08f" transform="rotate(-30 253.0 423.8)"/>
<rect x="388.1" y="382.1" width="3" height="1.5" fill="#86e08f" transform="rotate(-30 388.1 382.1)"/>
<rect x="238.0" y="370.4" width="3" height="1.5" fill="#86e08f" transform="rotate(-30 238.0 370.4)"/>
<line class="g" x1="61.8" y1="0" x2="61.8" y2="507.3"/>
<line class="g" x1="0" y1="22.8" x2="473.6" y2="22.8"/>
<line class="g" x1="140.6" y1="0" x2="140.6" y2="507.3"/>
<line class="g" x1="0" y1="107.4" x2="473.6" y2="107.4"/>
<line class="g" x1="219.3" y1="0" x2="219.3" y2="507.3"/>
<line class="g" x1="0" y1="191.9" x2="473.6" y2="191.9"/>
<line class="g" x1="298.1" y1="0" x2="298.1" y2="507.3"/>
<line class="g" x1="0" y1="276.5" x2="473.6" y2="276.5"/>
<line class="g" x1="376.8" y1="0" x2="376.8" y2="507.3"/>
<line class="g" x1="0" y1="361.0" x2="473.6" y2="361.0"/>
<line class="g" x1="455.6" y1="0" x2="455.6" y2="507.3"/>
<line class="g" x1="0" y1="445.6" x2="473.6" y2="445.6"/>
<polyline class="sw" points="0.0,430.4 23.7,414.8 47.4,399.4 71.0,384.1 94.7,369.0 118.4,354.1 142.1,339.3 165.8,324.7 189.4,310.3 213.1,296.0 236.8,281.9 260.5,267.9 284.2,254.1 307.8,240.5 331.5,227.0 355.2,213.7 378.9,200.6 402.6,187.6 426.2,174.8 449.9,162.2 473.6,149.7"/>
<polyline class="sw" points="29.5,507.3 53.2,491.5 76.9,475.9 100.5,460.5 124.2,445.3 147.9,430.2 171.6,415.4 195.3,400.7 218.9,386.2 242.6,371.9 266.3,357.8 290.0,343.9 313.7,330.1 337.3,316.6 361.0,303.2 384.7,290.0 408.4,277.0 432.1,264.2 455.7,251.6"/>
<polygon class="isl" points="52.3,282.4 54.9,278.5 58.0,275.4 59.4,276.1 58.3,279.9 53.7,285.0"/>
<polygon class="isl" points="70.7,274.0 72.1,270.0 77.0,267.2 84.8,266.2 88.3,268.7 89.3,274.0 87.2,278.9 82.3,281.5 77.3,280.0 72.4,277.6"/>
<polygon class="isl" points="130.0,294.0 135.6,293.7 141.0,289.1 144.8,293.7 148.3,299.4 151.4,299.1 154.0,306.2 146.9,306.7 141.3,303.6 139.1,305.7 135.6,305.0 131.7,299.4"/>
<polygon class="isl" points="167.8,314.2 171.6,309.3 173.0,310.0 182.2,309.7 184.3,310.7 188.6,310.4 190.4,312.1 189.7,314.2 186.4,316.3 179.4,316.0 183.6,312.9 173.0,314.6"/>
<polygon class="isl" points="177.7,322.7 182.2,321.5 185.7,323.1 186.7,327.6 182.9,329.4 180.8,326.9"/>
<polygon class="isl" points="192.1,320.6 195.6,316.6 198.4,318.4 200.5,322.7 207.6,321.0 213.3,323.7 219.6,327.6 218.2,332.6 211.8,334.7 204.8,335.8 201.3,333.3 199.1,328.3 194.2,325.5"/>
<polygon class="isl" points="193.2,337.2 197.0,335.4 197.4,338.6 193.8,339.6"/>
<polygon class="isl" points="223.8,351.6 225.3,349.2 231.6,352.7 245.7,357.5 252.8,362.2 255.6,366.4 256.3,371.4 260.5,374.2 262.7,378.4 266.6,382.0 261.2,386.9 254.2,391.1 247.1,391.8 238.0,397.5 233.7,405.3 224.5,400.3 222.9,395.4 221.7,384.1 218.9,375.6 217.9,370.0 226.0,360.8 223.8,355.8"/>
<path d="M230.3,253.1h12M236.3,247.1v12" stroke="#000" stroke-width="4.6" fill="none"/>
<text class="s" x="61.0" y="255.8" text-anchor="middle">-160</text>
<text class="s" x="232.6" y="23.1">28</text>
<text class="s" x="139.8" y="255.8" text-anchor="middle">-158</text>
<text class="s" x="232.6" y="107.7">26</text>
<text class="s" x="218.5" y="255.8" text-anchor="middle">-156</text>
<text class="s" x="232.6" y="192.2">24</text>
<text class="s" x="297.3" y="255.8" text-anchor="middle">-154</text>
<text class="s" x="232.6" y="276.8">22</text>
<text class="s" x="376.0" y="255.8" text-anchor="middle">-152</text>
<text class="s" x="232.6" y="361.3">20</text>
<text class="s" x="454.8" y="255.8" text-anchor="middle">-150</text>
<text class="s" x="232.6" y="445.9">18</text>

<text class="t" x="24.2" y="24.5">2A12 rainrate (mm/hr)</text>
<text class="l" x="426.2" y="481.8">(f)</text>
<rect x="481.8" y="490.39" width="9.2" height="8.76" fill="#82e68c"/>
<rect x="481.8" y="481.94" width="9.2" height="8.76" fill="#7dde86"/>
<rect x="481.8" y="473.48" width="9.2" height="8.76" fill="#78d780"/>
<rect x="481.8" y="465.03" width="9.2" height="8.76" fill="#73d07a"/>
<rect x="481.8" y="456.57" width="9.2" height="8.76" fill="#6ec875"/>
<rect x="481.8" y="448.12" width="9.2" height="8.76" fill="#69c06f"/>
<rect x="481.8" y="439.66" width="9.2" height="8.76" fill="#64b969"/>
<rect x="481.8" y="431.21" width="9.2" height="8.76" fill="#d0d4ff"/>
<rect x="481.8" y="422.75" width="9.2" height="8.76" fill="#d0d4ff"/>
<rect x="481.8" y="414.30" width="9.2" height="8.76" fill="#b6c6ff"/>
<rect x="481.8" y="405.84" width="9.2" height="8.76" fill="#9bbeff"/>
<rect x="481.8" y="397.38" width="9.2" height="8.76" fill="#80b6ff"/>
<rect x="481.8" y="388.93" width="9.2" height="8.76" fill="#80b6ff"/>
<rect x="481.8" y="380.48" width="9.2" height="8.76" fill="#64acff"/>
<rect x="481.8" y="372.02" width="9.2" height="8.76" fill="#4ba0ff"/>
<rect x="481.8" y="363.56" width="9.2" height="8.76" fill="#4687ff"/>
<rect x="481.8" y="355.11" width="9.2" height="8.76" fill="#4687ff"/>
<rect x="481.8" y="346.65" width="9.2" height="8.76" fill="#4470ff"/>
<rect x="481.8" y="338.20" width="9.2" height="8.76" fill="#3c4eff"/>
<rect x="481.8" y="329.75" width="9.2" height="8.76" fill="#3232ff"/>
<rect x="481.8" y="321.29" width="9.2" height="8.76" fill="#3232ff"/>
<rect x="481.8" y="312.84" width="9.2" height="8.76" fill="#0000ff"/>
<rect x="481.8" y="304.38" width="9.2" height="8.76" fill="#0000f0"/>
<rect x="481.8" y="295.93" width="9.2" height="8.76" fill="#0000e1"/>
<rect x="481.8" y="287.47" width="9.2" height="8.76" fill="#0000e1"/>
<rect x="481.8" y="279.01" width="9.2" height="8.76" fill="#0000cd"/>
<rect x="481.8" y="270.56" width="9.2" height="8.76" fill="#0000b9"/>
<rect x="481.8" y="262.11" width="9.2" height="8.76" fill="#ffff00"/>
<rect x="481.8" y="253.65" width="9.2" height="8.76" fill="#ffff00"/>
<rect x="481.8" y="245.19" width="9.2" height="8.76" fill="#fff200"/>
<rect x="481.8" y="236.74" width="9.2" height="8.76" fill="#ffe600"/>
<rect x="481.8" y="228.29" width="9.2" height="8.76" fill="#ffe600"/>
<rect x="481.8" y="219.83" width="9.2" height="8.76" fill="#ffda00"/>
<rect x="481.8" y="211.38" width="9.2" height="8.76" fill="#ffcd00"/>
<rect x="481.8" y="202.92" width="9.2" height="8.76" fill="#ff9600"/>
<rect x="481.8" y="194.47" width="9.2" height="8.76" fill="#ff9600"/>
<rect x="481.8" y="186.01" width="9.2" height="8.76" fill="#ff8e00"/>
<rect x="481.8" y="177.56" width="9.2" height="8.76" fill="#ff8600"/>
<rect x="481.8" y="169.10" width="9.2" height="8.76" fill="#ff7e00"/>
<rect x="481.8" y="160.64" width="9.2" height="8.76" fill="#ff7600"/>
<rect x="481.8" y="152.19" width="9.2" height="8.76" fill="#ff4600"/>
<rect x="481.8" y="143.74" width="9.2" height="8.76" fill="#ff4600"/>
<rect x="481.8" y="135.28" width="9.2" height="8.76" fill="#ff3a00"/>
<rect x="481.8" y="126.82" width="9.2" height="8.76" fill="#ff2d00"/>
<rect x="481.8" y="118.37" width="9.2" height="8.76" fill="#ff2d00"/>
<rect x="481.8" y="109.92" width="9.2" height="8.76" fill="#ff2000"/>
<rect x="481.8" y="101.46" width="9.2" height="8.76" fill="#ff1400"/>
<rect x="481.8" y="93.00" width="9.2" height="8.76" fill="#cd0000"/>
<rect x="481.8" y="84.55" width="9.2" height="8.76" fill="#cd0000"/>
<rect x="481.8" y="76.10" width="9.2" height="8.76" fill="#bf0200"/>
<rect x="481.8" y="67.64" width="9.2" height="8.76" fill="#b20500"/>
<rect x="481.8" y="59.19" width="9.2" height="8.76" fill="#b20500"/>
<rect x="481.8" y="50.73" width="9.2" height="8.76" fill="#a40800"/>
<rect x="481.8" y="42.28" width="9.2" height="8.76" fill="#960a00"/>
<rect x="481.8" y="33.82" width="9.2" height="8.76" fill="#640e05"/>
<rect x="481.8" y="25.37" width="9.2" height="8.76" fill="#62120b"/>
<rect x="481.8" y="16.91" width="9.2" height="8.76" fill="#601510"/>
<rect x="481.8" y="8.45" width="9.2" height="8.76" fill="#5e1816"/>
<rect x="481.8" y="0.00" width="9.2" height="8.76" fill="#5c1c1c"/>
<line x1="491.0" y1="507.1" x2="493.0" y2="507.1" stroke="#000" stroke-width="1"/>
<text x="511.0" y="515.6" font-size="19.7" text-anchor="middle" stroke="#000" stroke-width="0.25">0</text>
<line x1="491.0" y1="456.4" x2="493.0" y2="456.4" stroke="#000" stroke-width="1"/>
<text x="511.0" y="464.9" font-size="19.7" text-anchor="middle" stroke="#000" stroke-width="0.25">6</text>
<line x1="491.0" y1="405.6" x2="493.0" y2="405.6" stroke="#000" stroke-width="1"/>
<text x="511.0" y="414.1" font-size="19.7" text-anchor="middle" stroke="#000" stroke-width="0.25">12</text>
<line x1="491.0" y1="354.9" x2="493.0" y2="354.9" stroke="#000" stroke-width="1"/>
<text x="511.0" y="363.4" font-size="19.7" text-anchor="middle" stroke="#000" stroke-width="0.25">18</text>
<line x1="491.0" y1="304.2" x2="493.0" y2="304.2" stroke="#000" stroke-width="1"/>
<text x="511.0" y="312.7" font-size="19.7" text-anchor="middle" stroke="#000" stroke-width="0.25">24</text>
<line x1="491.0" y1="253.5" x2="493.0" y2="253.5" stroke="#000" stroke-width="1"/>
<text x="511.0" y="261.9" font-size="19.7" text-anchor="middle" stroke="#000" stroke-width="0.25">30</text>
<line x1="491.0" y1="202.7" x2="493.0" y2="202.7" stroke="#000" stroke-width="1"/>
<text x="511.0" y="211.2" font-size="19.7" text-anchor="middle" stroke="#000" stroke-width="0.25">36</text>
<line x1="491.0" y1="152.0" x2="493.0" y2="152.0" stroke="#000" stroke-width="1"/>
<text x="511.0" y="160.5" font-size="19.7" text-anchor="middle" stroke="#000" stroke-width="0.25">42</text>
<line x1="491.0" y1="101.3" x2="493.0" y2="101.3" stroke="#000" stroke-width="1"/>
<text x="511.0" y="109.8" font-size="19.7" text-anchor="middle" stroke="#000" stroke-width="0.25">48</text>
<line x1="491.0" y1="50.5" x2="493.0" y2="50.5" stroke="#000" stroke-width="1"/>
<text x="511.0" y="59.0" font-size="19.7" text-anchor="middle" stroke="#000" stroke-width="0.25">54</text>
</g>
<g transform="translate(13.2,1222.3)" opacity="0.999">
<defs><clipPath id="cg"><polygon points="0.0,316.8 39.4,292.6 78.8,268.6 118.2,244.9 157.7,221.4 197.1,198.1 236.5,175.1 275.9,152.2 315.3,129.6 354.8,107.2 394.2,85.1 433.6,63.1 473.0,41.4 473.0,352.2 473.0,352.2 450.8,364.0 428.6,376.1 406.4,388.3 384.2,400.7 362.0,413.3 339.8,426.1 317.5,439.1 295.3,452.3 273.1,465.7 250.9,479.3 228.7,493.1 206.5,507.1 0.0,507.7"/></clipPath>
<filter id="bg1" x="-100%" y="-100%" width="300%" height="300%"><feGaussianBlur stdDeviation="11"/></filter>
<filter id="bg2" x="-100%" y="-100%" width="300%" height="300%"><feGaussianBlur stdDeviation="1.3"/></filter>
<filter id="bg3" x="-100%" y="-100%" width="300%" height="300%"><feGaussianBlur stdDeviation="3"/></filter>
<filter id="bg4" x="-100%" y="-100%" width="300%" height="300%"><feGaussianBlur stdDeviation="5"/></filter>
<clipPath id="cgm"><polygon points="386.9,88.7 386.0,97.2 373.3,99.7 371.6,109.0 380.1,122.6 388.5,133.6 395.3,128.5 397.0,136.1 391.9,144.6 397.0,152.2 395.3,160.7 402.1,167.5 410.6,177.6 414.0,184.4 403.8,182.7 397.0,176.8 390.2,179.3 383.5,186.1 375.0,183.6 368.2,176.0 361.4,170.0 356.4,167.5 346.2,170.0 337.7,176.0 331.0,182.7 328.4,196.3 327.6,213.2 329.3,221.7 336.0,225.1 346.2,224.2 353.8,222.5 349.6,230.2 339.4,236.9 332.6,244.6 324.2,247.1 315.7,244.6 313.9,244.3 306.8,248.3 299.7,243.2 293.6,238.2 286.5,237.1 279.4,234.1 273.3,235.1 279.4,240.2 282.4,245.8 273.3,243.2 263.1,241.2 255.0,237.1 252.9,234.1 246.8,232.1 240.7,230.5 236.7,234.1 229.6,236.1 222.5,239.7 214.3,241.2 216.4,235.1 221.9,231.0 223.5,224.9 220.4,220.4 212.3,219.4 206.2,220.9 203.7,226.5 199.1,213.8 195.0,216.8 191.5,208.7 192.0,197.5"/></clipPath></defs>
<polygon points="0.0,316.8 39.4,292.6 78.8,268.6 118.2,244.9 157.7,221.4 197.1,198.1 236.5,175.1 275.9,152.2 315.3,129.6 354.8,107.2 394.2,85.1 433.6,63.1 473.0,41.4 473.0,352.2 473.0,352.2 450.8,364.0 428.6,376.1 406.4,388.3 384.2,400.7 362.0,413.3 339.8,426.1 317.5,439.1 295.3,452.3 273.1,465.7 250.9,479.3 228.7,493.1 206.5,507.1 0.0,507.7" fill="#dfdfdf"/>
<g clip-path="url(#cg)">
<polygon points="325.8,172.7 345.8,165.7 413.8,128.7 486.8,87.7 486.8,437.7 378.8,437.7 374.8,358.7 367.8,302.7 339.8,274.7 328.8,246.7 325.8,213.7" fill="#c3c3c3" filter="url(#bg4)" opacity="0.95"/>
<polygon points="381.8,77.7 486.8,17.7 486.8,107.7 406.8,147.7 371.8,117.7" fill="#c3c3c3" filter="url(#bg4)" opacity="0.95"/>
<polygon points="207.3,240.3 261.5,238.6 285.2,248.8 329.3,245.4 332.6,264.0 278.4,269.1 227.6,262.3" fill="#c4c4c4" filter="url(#bg4)" opacity="0.85"/>
<polygon points="201.4,342.4 269.1,314.1 297.4,384.7 269.1,441.2 198.5,427.1" fill="#cbcbcb" filter="url(#bg1)" opacity="0.7"/>
<polygon points="240.9,271.8 283.2,266.1 297.4,328.3 255.0,342.4 235.2,300.0" fill="#ebebeb" filter="url(#bg1)" opacity="0.6"/>
<polygon points="99.7,463.8 133.6,458.1 139.3,492.0 105.4,497.7" fill="#d2d2d2" filter="url(#bg4)" opacity="0.6"/>
<polygon points="386.9,88.7 386.0,97.2 373.3,99.7 371.6,109.0 380.1,122.6 388.5,133.6 395.3,128.5 397.0,136.1 391.9,144.6 397.0,152.2 395.3,160.7 402.1,167.5 410.6,177.6 414.0,184.4 403.8,182.7 397.0,176.8 390.2,179.3 383.5,186.1 375.0,183.6 368.2,176.0 361.4,170.0 356.4,167.5 346.2,170.0 337.7,176.0 331.0,182.7 328.4,196.3 327.6,213.2 329.3,221.7 336.0,225.1 346.2,224.2 353.8,222.5 349.6,230.2 339.4,236.9 332.6,244.6 324.2,247.1 315.7,244.6 313.9,244.3 306.8,248.3 299.7,243.2 293.6,238.2 286.5,237.1 279.4,234.1 273.3,235.1 279.4,240.2 282.4,245.8 273.3,243.2 263.1,241.2 255.0,237.1 252.9,234.1 246.8,232.1 240.7,230.5 236.7,234.1 229.6,236.1 222.5,239.7 214.3,241.2 216.4,235.1 221.9,231.0 223.5,224.9 220.4,220.4 212.3,219.4 206.2,220.9 203.7,226.5 199.1,213.8 195.0,216.8 191.5,208.7 192.0,197.5" fill="#3a68ff"/>
<g clip-path="url(#cgm)">
<g filter="url(#bg2)">
<polygon points="198.1,193.9 222.5,179.2 238.7,171.6 246.8,179.2 251.9,188.4 252.9,205.6 273.3,212.7 279.4,208.7 311.9,204.6 313.9,190.4 326.1,179.2 328.2,190.4 326.1,204.6 324.1,218.8 313.9,220.9 298.7,217.8 283.4,216.8 273.3,220.9 259.0,217.8 246.8,212.7 238.7,208.7 234.7,200.6 229.6,192.4 220.4,191.4 212.3,195.5 204.2,195.5" fill="#0c18e8"/>
<polygon points="197.0,195.5 207.2,196.5 215.3,195.5 224.5,192.4 230.6,200.6 232.6,208.7 238.7,218.8 246.8,224.9 259.0,229.0 273.3,232.1 283.4,227.0 293.6,229.0 303.8,235.1 313.9,239.2 324.1,237.1 334.3,229.0 344.4,227.0 349.5,226.0 340.4,237.1 330.2,244.3 313.9,243.2 299.7,242.2 286.5,236.1 273.3,234.1 263.1,239.2 252.9,233.1 242.8,229.0 234.7,222.9 227.5,213.8 222.5,207.7 215.3,211.7 207.2,209.7 201.1,203.6" fill="#6fa6ff"/>
<polygon points="193.5,198.0 200.1,204.6 207.2,210.7 215.3,212.7 222.5,208.7 227.5,204.6 222.5,198.5 215.3,195.5 207.2,196.5 199.1,195.0" fill="#c2ceff"/>
<polygon points="329.3,121.7 355.2,106.4 359.0,112.2 363.8,121.7 367.7,134.2 370.5,139.0 376.3,146.7 370.5,149.6 362.9,156.3 358.1,161.1 345.6,151.5 339.8,151.5 339.4,138.1 336.0,127.5" fill="#8ab4ff"/>
<polygon points="378.2,179.3 384.0,175.5 391.7,171.7 399.3,169.7 407.0,175.5 410.8,183.2 405.1,179.3 398.4,178.4 391.7,178.4 384.0,181.3 379.2,182.2" fill="#1f3cf5"/>
</g>
<polygon points="192.0,197.5 191.5,208.7 195.0,216.8 199.1,213.8 203.7,226.5 206.2,220.9 212.3,219.4 220.4,220.4 223.5,224.9 221.9,231.0 216.4,235.1 214.3,241.2 222.5,239.7 229.6,236.1 236.7,234.1 240.7,230.5 238.7,224.9 232.6,220.9 226.5,214.8 222.5,208.7 215.3,212.7 207.2,210.7 200.1,204.6 195.0,198.5" fill="#84dc8e"/>
<polygon points="269.2,222.9 279.4,221.9 289.5,226.0 289.5,230.0 281.4,228.0 273.3,227.0" fill="#84dc8e"/>
<polygon points="255.0,237.1 263.1,241.2 273.3,243.2 282.4,245.8 279.4,241.2 271.2,238.2 263.1,236.1 257.0,234.1" fill="#84dc8e"/>
<polygon points="376.3,129.4 382.1,123.7 389.7,133.3 396.5,131.3 397.4,139.0 393.6,147.7 387.8,152.5 384.0,151.5 378.2,148.6 374.4,142.9" fill="#84dc8e"/>
<polygon points="359.0,162.1 361.4,161.1 364.8,162.1 369.1,162.1 371.5,166.9 376.3,167.8 378.2,156.3 384.0,152.5 389.7,156.3 385.9,164.0 391.7,169.7 401.3,165.9 408.9,175.5 412.8,181.3 413.7,185.1 408.9,186.0 406.1,181.3 399.3,180.3 393.6,177.4 387.8,179.3 383.0,187.0 378.2,186.0 370.5,181.3 366.7,171.7 361.9,169.7" fill="#84dc8e"/>
<polygon points="349.4,129.4 357.1,127.5 361.9,136.1 368.6,145.7 362.9,154.4 357.1,147.7 353.3,140.9" fill="#9fd8b0"/>
<polygon points="374.1,93.8 386.9,88.2 386.0,97.2 373.3,99.7 371.6,109.0 368.2,103.1" fill="#84dc8e"/>
<polygon points="378.2,179.3 384.0,175.5 391.7,171.7 399.3,169.7 407.0,175.5 410.8,183.2 405.1,179.3 398.4,178.4 391.7,178.4 384.0,181.3 379.2,182.2" fill="#1a34f2"/>
<polygon points="380.1,135.2 387.8,136.1 392.6,142.9 387.8,148.6 383.0,147.7" fill="#3a62ff"/>
<polygon points="239.2,170.6 242.8,175.1 247.9,178.2 251.9,184.3 252.9,191.4 254.0,198.5 253.5,205.1 261.1,206.6 268.2,208.7 273.3,210.7 275.3,213.8 279.4,207.7 283.4,206.1 289.5,205.6 298.7,205.1 311.9,203.1 312.4,195.5 313.4,189.4 319.0,187.3 324.1,181.2 328.2,175.1 334.3,169.0 337.3,162.9 338.3,153.8 336.9,150.5 336.0,138.7 332.6,128.5 327.5,119.2 322.1,109.1 263.1,109.1" fill="none" stroke="#0008d8" stroke-width="7" filter="url(#bg2)"/>
</g>
<polygon points="361.4,161.1 366.7,153.4 369.1,147.7 374.4,149.6 379.2,151.5 378.2,156.3 375.3,162.1 376.3,167.8 371.5,166.9 369.1,162.1 364.8,162.1" fill="#b4b4b4" stroke="#000" stroke-width="0.80" stroke-linejoin="round"/>
<polygon points="289.5,229.0 295.6,228.0 300.7,223.4 303.3,224.9 301.7,229.0 296.6,234.1 291.6,235.1" fill="#c0c0c0" stroke="#000" stroke-width="0.80" stroke-linejoin="round"/>
<polygon points="386.9,88.7 386.0,97.2 373.3,99.7 371.6,109.0 380.1,122.6 388.5,133.6 395.3,128.5 397.0,136.1 391.9,144.6 397.0,152.2 395.3,160.7 402.1,167.5 410.6,177.6 414.0,184.4 403.8,182.7 397.0,176.8 390.2,179.3 383.5,186.1 375.0,183.6 368.2,176.0 361.4,170.0 356.4,167.5 346.2,170.0 337.7,176.0 331.0,182.7 328.4,196.3 327.6,213.2 329.3,221.7 336.0,225.1 346.2,224.2 353.8,222.5 349.6,230.2 339.4,236.9 332.6,244.6 324.2,247.1 315.7,244.6 313.9,244.3 306.8,248.3 299.7,243.2 293.6,238.2 286.5,237.1 279.4,234.1 273.3,235.1 279.4,240.2 282.4,245.8 273.3,243.2 263.1,241.2 255.0,237.1 252.9,234.1 246.8,232.1 240.7,230.5 236.7,234.1 229.6,236.1 222.5,239.7 214.3,241.2 216.4,235.1 221.9,231.0 223.5,224.9 220.4,220.4 212.3,219.4 206.2,220.9 203.7,226.5 199.1,213.8 195.0,216.8 191.5,208.7 192.0,197.5" fill="none" stroke="#000" stroke-width="1.1" stroke-linejoin="round"/>
<polygon points="239.2,170.6 242.8,175.1 247.9,178.2 251.9,184.3 252.9,191.4 254.0,198.5 253.5,205.1 261.1,206.6 268.2,208.7 273.3,210.7 275.3,213.8 279.4,207.7 283.4,206.1 289.5,205.6 298.7,205.1 311.9,203.1 312.4,195.5 313.4,189.4 319.0,187.3 324.1,181.2 328.2,175.1 334.3,169.0 337.3,162.9 338.3,153.8 336.9,150.5 336.0,138.7 332.6,128.5 327.5,119.2 322.1,109.1 263.1,109.1" fill="#ffe600" stroke="#000" stroke-width="0.90" stroke-linejoin="round"/>
<polygon points="249.4,164.5 250.9,173.1 255.0,182.3 263.1,185.3 273.3,187.3 279.4,185.3 283.4,188.4 283.4,196.5 289.5,200.6 298.7,196.5 308.8,188.4 300.7,182.3 303.8,178.2 313.9,183.3 324.1,176.2 332.2,168.0 334.3,157.9 333.7,147.7 332.7,138.7 329.2,128.5 324.1,120.3 317.0,109.1 263.1,109.1" fill="#ff8a00"/>
<g clip-path="url(#cg)"><ellipse cx="295.4" cy="153" rx="24" ry="18" transform="rotate(-28 295.4 153)" fill="#ff5200" filter="url(#bg3)"/><ellipse cx="296" cy="158" rx="9" ry="7" fill="#f03c00" filter="url(#bg3)"/></g>
<rect x="287.5" y="153.8" width="2.4" height="1.6" fill="#000"/>
<rect x="290.6" y="153.3" width="2.4" height="1.6" fill="#000"/>
<rect x="292.6" y="156.8" width="2.4" height="1.6" fill="#000"/>
<rect x="294.6" y="159.9" width="2.4" height="1.6" fill="#000"/>
<rect x="297.7" y="157.9" width="2.4" height="1.6" fill="#000"/>
<rect x="299.7" y="154.8" width="2.4" height="1.6" fill="#000"/>
<rect x="296.6" y="161.9" width="2.4" height="1.6" fill="#000"/>
<rect x="301.7" y="157.4" width="2.4" height="1.6" fill="#000"/>
<rect x="295.6" y="151.8" width="2.4" height="1.6" fill="#000"/>
<rect x="298.7" y="160.9" width="2.4" height="1.6" fill="#000"/>
<rect x="293.6" y="161.4" width="2.4" height="1.6" fill="#000"/>
<rect x="300.7" y="159.9" width="2.4" height="1.6" fill="#000"/>
<rect x="304.8" y="160.4" width="2.4" height="1.6" fill="#000"/>
<ellipse cx="247.9" cy="174.6" rx="1.2" ry="2" fill="#0a0a60"/>
<ellipse cx="269.7" cy="194.5" rx="1.2" ry="2" fill="#0a0a60"/>
<ellipse cx="303.8" cy="190.4" rx="1.2" ry="2" fill="#0a0a60"/>
<ellipse cx="306.3" cy="187.3" rx="1.2" ry="2" fill="#0a0a60"/>
<ellipse cx="332.2" cy="166.0" rx="1.2" ry="2" fill="#0a0a60"/>
<ellipse cx="276.3" cy="201.6" rx="1.2" ry="2" fill="#0a0a60"/>
<ellipse cx="241.8" cy="199.5" rx="1.2" ry="2" fill="#0a0a60"/>
<polygon points="246.3,203.1 248.4,202.4 252.9,211.2 250.9,214.3 248.4,212.7" fill="#ffde00" stroke="#000" stroke-width="0.90" stroke-linejoin="round"/>
<polygon points="238.2,215.3 241.8,214.0 245.8,221.4 243.8,223.1 240.7,220.4" fill="#ffde00" stroke="#000" stroke-width="0.90" stroke-linejoin="round"/>
<polygon points="307.3,214.3 311.4,213.8 313.4,222.9 309.4,223.9" fill="#ffde00" stroke="#000" stroke-width="0.90" stroke-linejoin="round"/>
<polygon points="311.9,228.0 316.0,228.5 318.0,231.5 312.9,232.1" fill="#ffde00" stroke="#000" stroke-width="0.90" stroke-linejoin="round"/>
<polygon points="256.5,229.5 258.5,229.0 263.1,235.1 261.6,235.9" fill="#ffde00" stroke="#000" stroke-width="0.90" stroke-linejoin="round"/>
<polygon points="332.2,236.1 336.3,235.1 336.8,237.1 333.2,238.2" fill="#ffde00" stroke="#000" stroke-width="0.90" stroke-linejoin="round"/>
<polygon points="340.9,231.0 344.4,229.5 344.9,231.0 341.9,232.6" fill="#ffde00" stroke="#000" stroke-width="0.90" stroke-linejoin="round"/>
<polygon points="355.2,104.5 365.7,99.2 367.7,107.4 374.4,119.8 373.4,125.6 370.1,137.1 367.7,133.3 363.8,119.8 359.0,110.2" fill="#ffe000" stroke="#000" stroke-width="0.90" stroke-linejoin="round"/>
<polygon points="359.0,103.5 364.8,100.6 366.7,109.3 372.0,118.9 369.1,124.6 364.8,116.0 361.9,109.3" fill="#ff9c00"/>
<polygon points="416.6,82.4 422.4,83.4 423.3,90.1 427.2,96.8 426.2,100.6 432.0,104.5 430.0,109.3 432.0,116.0 432.9,123.7 435.8,129.4 434.8,136.1 437.7,142.9 440.6,150.5 446.4,156.3 452.1,162.1 451.2,164.9 445.4,162.1 438.7,159.2 432.0,151.5 427.2,145.7 422.4,138.1 416.6,136.1 413.7,129.4 411.8,127.5 416.6,123.7 413.7,117.0 412.8,110.2 414.7,104.5 419.5,100.6 420.4,94.9 417.6,90.1" fill="#3a66ff" stroke="#000" stroke-width="0.90" stroke-linejoin="round"/>
<polygon points="412.8,110.2 416.6,109.3 418.5,116.0 416.6,123.7 413.7,117.0" fill="#84dc8e"/>
<polygon points="417.6,85.3 421.9,85.3 426.2,98.7 422.4,103.5 420.0,96.8" fill="#8cc0ff"/>
<polygon points="418.5,106.4 422.4,104.5 426.2,107.4 425.2,112.2 429.1,117.9 429.1,126.5 425.2,132.3 421.4,132.3 423.3,126.5 422.4,119.8 420.4,114.1" fill="#ffd800" stroke="#000" stroke-width="0.80" stroke-linejoin="round"/>
<polygon points="422.8,114.1 427.2,117.0 427.6,125.6 424.8,129.4 424.8,121.7" fill="#ffa000"/>
<polygon points="397.4,82.4 404.1,79.5 407.0,83.4 412.8,85.3 408.9,89.1 403.2,90.1 399.3,87.2" fill="#8cc0ff" stroke="#000" stroke-width="0.90" stroke-linejoin="round"/>
<polygon points="398.4,83.4 403.2,80.3 404.6,84.3 401.3,88.2" fill="#84dc8e"/>
<ellipse cx="408.0" cy="99.2" rx="0.8" ry="0.5" fill="none" stroke="#000" stroke-width="0.9"/>
<ellipse cx="414.7" cy="99.2" rx="0.6" ry="0.4" fill="#000" stroke="#000" stroke-width="0.9"/>
<ellipse cx="384.0" cy="104.5" rx="0.5" ry="1.1" fill="none" stroke="#000" stroke-width="0.9"/>
<ellipse cx="389.7" cy="96.8" rx="0.4" ry="0.7" fill="#000" stroke="#000" stroke-width="0.9"/>
<ellipse cx="393.6" cy="120.8" rx="0.7" ry="0.7" fill="none" stroke="#000" stroke-width="0.9"/>
<ellipse cx="399.3" cy="123.7" rx="0.4" ry="0.7" fill="#000" stroke="#000" stroke-width="0.9"/>
<ellipse cx="404.6" cy="119.4" rx="0.4" ry="0.4" fill="#000" stroke="#000" stroke-width="0.9"/>
<ellipse cx="439.6" cy="116.5" rx="0.7" ry="0.4" fill="#000" stroke="#000" stroke-width="0.9"/>
<ellipse cx="444.4" cy="121.7" rx="0.4" ry="1.3" fill="none" stroke="#000" stroke-width="0.9"/>
<ellipse cx="440.6" cy="128.5" rx="0.5" ry="0.6" fill="#000" stroke="#000" stroke-width="0.9"/>
<ellipse cx="434.1" cy="121.3" rx="0.9" ry="0.9" fill="none" stroke="#000" stroke-width="0.9"/>
<ellipse cx="441.6" cy="144.3" rx="0.5" ry="0.5" fill="#000" stroke="#000" stroke-width="0.9"/>
<ellipse cx="440.1" cy="147.2" rx="0.6" ry="0.6" fill="none" stroke="#000" stroke-width="0.9"/>
<ellipse cx="400.3" cy="144.3" rx="0.8" ry="0.5" fill="none" stroke="#000" stroke-width="0.9"/>
<ellipse cx="404.1" cy="145.3" rx="0.4" ry="0.7" fill="#000" stroke="#000" stroke-width="0.9"/>
<ellipse cx="421.4" cy="147.7" rx="0.4" ry="0.3" fill="#000" stroke="#000" stroke-width="0.9"/>
<ellipse cx="428.1" cy="155.3" rx="1.1" ry="1.1" fill="none" stroke="#000" stroke-width="0.9"/>
<ellipse cx="428.6" cy="160.6" rx="1.4" ry="0.4" fill="none" stroke="#000" stroke-width="0.9"/>
<ellipse cx="444.4" cy="166.4" rx="0.9" ry="0.6" fill="none" stroke="#000" stroke-width="0.9"/>
<ellipse cx="416.6" cy="177.4" rx="0.7" ry="0.5" fill="none" stroke="#000" stroke-width="0.9"/>
<ellipse cx="422.4" cy="173.6" rx="1.1" ry="0.6" fill="none" stroke="#000" stroke-width="0.9"/>
<ellipse cx="425.7" cy="177.9" rx="0.7" ry="1.2" fill="none" stroke="#000" stroke-width="0.9"/>
<ellipse cx="435.8" cy="176.5" rx="1.4" ry="0.8" fill="none" stroke="#000" stroke-width="0.9"/>
<ellipse cx="451.2" cy="180.3" rx="2.4" ry="1.0" fill="none" stroke="#000" stroke-width="0.9"/>
<ellipse cx="466.5" cy="179.3" rx="0.7" ry="1.2" fill="none" stroke="#000" stroke-width="0.9"/>
<ellipse cx="355.2" cy="116.5" rx="0.5" ry="0.6" fill="#000" stroke="#000" stroke-width="0.9"/>
<ellipse cx="358.1" cy="124.6" rx="0.6" ry="1.2" fill="none" stroke="#000" stroke-width="0.9"/>
<ellipse cx="464.8" cy="215.8" rx="2.4" ry="1.0" fill="none" stroke="#000" stroke-width="0.9"/>
<ellipse cx="472.4" cy="196.3" rx="0.7" ry="1.2" fill="none" stroke="#000" stroke-width="0.9"/>
<ellipse cx="334.3" cy="270.8" rx="2.0" ry="1.4" fill="none" stroke="#000" stroke-width="0.9"/>
<ellipse cx="322.5" cy="259.3" rx="1.4" ry="0.7" fill="none" stroke="#000" stroke-width="0.9"/>
<polygon points="455.9,328.5 461.3,323.8 467.4,318.4 474.2,315.0 474.2,352.2 463.4,356.3 461.3,344.1 464.0,338.7 461.3,333.3" fill="#5fa4ff"/>
<polygon points="463.4,345.5 474.2,342.1 474.2,352.2 464.0,355.6" fill="#4a86ff"/>
<polygon points="466.7,311.6 474.2,312.9 474.2,318.4 468.1,319.0" fill="#84dc8e"/>
<polyline points="472.8,312.9 467.4,312.3 466.1,317.7 458.6,322.4 454.6,325.1 453.9,329.9 457.3,329.2 462.7,335.3 463.4,340.7 461.3,344.1 463.4,356.3" fill="none" stroke="#000" stroke-width="1.2" stroke-linejoin="round"/>
<polygon points="439.0,315.6 441.0,313.6 443.7,314.6 445.1,321.1 442.4,322.4 439.3,321.1" fill="#84dc8e" stroke="#000" stroke-width="1.20" stroke-linejoin="round"/>
<polygon points="447.8,325.1 449.1,315.6 450.5,311.6 452.5,312.9 451.8,321.1 449.8,326.5" fill="#84dc8e" stroke="#000" stroke-width="1.20" stroke-linejoin="round"/>
<polygon points="460.0,301.4 465.4,300.7 465.7,307.5 463.4,307.5" fill="#84dc8e" stroke="#000" stroke-width="1.20" stroke-linejoin="round"/>
<polygon points="439.6,369.2 441.0,365.8 444.4,362.4 449.1,361.7 449.8,364.1" fill="#84dc8e"/>
<polyline points="440.0,368.1 441.3,365.8 444.4,362.7 448.8,361.9" fill="none" stroke="#000" stroke-width="1.3"/>
<polyline points="444.4,299.5 450.5,299.1" fill="none" stroke="#000" stroke-width="2.0" stroke-linecap="round"/>
<polyline points="445.1,333.9 447.8,338.0" fill="none" stroke="#000" stroke-width="2.0" stroke-linecap="round"/>
<polyline points="450.5,338.0 453.5,340.0" fill="none" stroke="#000" stroke-width="1.8" stroke-linecap="round"/>
<polyline points="446.8,350.9 448.1,353.9" fill="none" stroke="#000" stroke-width="2.4" stroke-linecap="round"/>
<polyline points="455.2,298.0 457.9,298.7" fill="none" stroke="#000" stroke-width="1.0" stroke-linecap="round"/>
<polygon points="245.1,329.7 253.6,324.9 255.6,327.7 248.0,332.5" fill="#84dc8e" stroke="#000" stroke-width="0.90" stroke-linejoin="round"/>
<polygon points="277.6,314.1 281.0,311.3 282.1,313.6 278.7,315.8" fill="#84dc8e" stroke="#000" stroke-width="0.60" stroke-linejoin="round"/>
<polygon points="237.5,390.4 240.9,384.7 249.4,381.9 252.2,387.5 245.1,394.6 239.5,394.6" fill="#1e3cf0" stroke="#000" stroke-width="0.80" stroke-linejoin="round"/>
<polygon points="250.8,379.6 254.4,376.8 255.6,381.9 252.2,383.6" fill="#8cc8ff" stroke="#000" stroke-width="0.60" stroke-linejoin="round"/>
<polygon points="233.6,383.6 236.4,381.9 237.5,386.4 234.7,387.5" fill="#84dc8e" stroke="#000" stroke-width="0.60" stroke-linejoin="round"/>
<circle cx="240.0" cy="369.2" r="1.2" fill="#000"/>
<circle cx="270.5" cy="401.7" r="1.2" fill="#000"/>
<circle cx="265.7" cy="411.5" r="1.2" fill="#000"/>
<circle cx="446.4" cy="58.1" r="1.2" fill="#000"/>
<circle cx="471.0" cy="197.0" r="1.2" fill="#000"/>
</g>
<line class="g" x1="61.8" y1="0" x2="61.8" y2="507.3"/>
<line class="g" x1="0" y1="22.8" x2="473.6" y2="22.8"/>
<line class="g" x1="140.6" y1="0" x2="140.6" y2="507.3"/>
<line class="g" x1="0" y1="107.4" x2="473.6" y2="107.4"/>
<line class="g" x1="219.3" y1="0" x2="219.3" y2="507.3"/>
<line class="g" x1="0" y1="191.9" x2="473.6" y2="191.9"/>
<line class="g" x1="298.1" y1="0" x2="298.1" y2="507.3"/>
<line class="g" x1="0" y1="276.5" x2="473.6" y2="276.5"/>
<line class="g" x1="376.8" y1="0" x2="376.8" y2="507.3"/>
<line class="g" x1="0" y1="361.0" x2="473.6" y2="361.0"/>
<line class="g" x1="455.6" y1="0" x2="455.6" y2="507.3"/>
<line class="g" x1="0" y1="445.6" x2="473.6" y2="445.6"/>
<polyline class="sw" points="0.0,430.4 23.7,414.8 47.4,399.4 71.0,384.1 94.7,369.0 118.4,354.1 142.1,339.3 165.8,324.7 189.4,310.3 213.1,296.0 236.8,281.9 260.5,267.9 284.2,254.1 307.8,240.5 331.5,227.0 355.2,213.7 378.9,200.6 402.6,187.6 426.2,174.8 449.9,162.2 473.6,149.7"/>
<polyline class="sw" points="29.5,507.3 53.2,491.5 76.9,475.9 100.5,460.5 124.2,445.3 147.9,430.2 171.6,415.4 195.3,400.7 218.9,386.2 242.6,371.9 266.3,357.8 290.0,343.9 313.7,330.1 337.3,316.6 361.0,303.2 384.7,290.0 408.4,277.0 432.1,264.2 455.7,251.6"/>
<polygon class="isl" points="52.3,282.4 54.9,278.5 58.0,275.4 59.4,276.1 58.3,279.9 53.7,285.0"/>
<polygon class="isl" points="70.7,274.0 72.1,270.0 77.0,267.2 84.8,266.2 88.3,268.7 89.3,274.0 87.2,278.9 82.3,281.5 77.3,280.0 72.4,277.6"/>
<polygon class="isl" points="130.0,294.0 135.6,293.7 141.0,289.1 144.8,293.7 148.3,299.4 151.4,299.1 154.0,306.2 146.9,306.7 141.3,303.6 139.1,305.7 135.6,305.0 131.7,299.4"/>
<polygon class="isl" points="167.8,314.2 171.6,309.3 173.0,310.0 182.2,309.7 184.3,310.7 188.6,310.4 190.4,312.1 189.7,314.2 186.4,316.3 179.4,316.0 183.6,312.9 173.0,314.6"/>
<polygon class="isl" points="177.7,322.7 182.2,321.5 185.7,323.1 186.7,327.6 182.9,329.4 180.8,326.9"/>
<polygon class="isl" points="192.1,320.6 195.6,316.6 198.4,318.4 200.5,322.7 207.6,321.0 213.3,323.7 219.6,327.6 218.2,332.6 211.8,334.7 204.8,335.8 201.3,333.3 199.1,328.3 194.2,325.5"/>
<polygon class="isl" points="193.2,337.2 197.0,335.4 197.4,338.6 193.8,339.6"/>
<polygon class="isl" points="223.8,351.6 225.3,349.2 231.6,352.7 245.7,357.5 252.8,362.2 255.6,366.4 256.3,371.4 260.5,374.2 262.7,378.4 266.6,382.0 261.2,386.9 254.2,391.1 247.1,391.8 238.0,397.5 233.7,405.3 224.5,400.3 222.9,395.4 221.7,384.1 218.9,375.6 217.9,370.0 226.0,360.8 223.8,355.8"/>
<path d="M230.3,253.1h12M236.3,247.1v12" stroke="#000" stroke-width="4.6" fill="none"/>
<text class="s" x="61.0" y="255.8" text-anchor="middle">-160</text>
<text class="s" x="232.6" y="23.1">28</text>
<text class="s" x="139.8" y="255.8" text-anchor="middle">-158</text>
<text class="s" x="232.6" y="107.7">26</text>
<text class="s" x="218.5" y="255.8" text-anchor="middle">-156</text>
<text class="s" x="232.6" y="192.2">24</text>
<text class="s" x="297.3" y="255.8" text-anchor="middle">-154</text>
<text class="s" x="232.6" y="276.8">22</text>
<text class="s" x="376.0" y="255.8" text-anchor="middle">-152</text>
<text class="s" x="232.6" y="361.3">20</text>
<text class="s" x="454.8" y="255.8" text-anchor="middle">-150</text>
<text class="s" x="232.6" y="445.9">18</text>

<text class="t" x="24.2" y="24.5">VIRS T</text><text transform="translate(103.8,31.0) scale(0.5)" font-size="31">B11</text><text class="t" x="139.2" y="24.5">(K)</text>
<text class="l" x="426.2" y="481.8">(g)</text>
<rect x="481.8" y="490.39" width="9.2" height="8.76" fill="#f2f2f2"/>
<rect x="481.8" y="481.94" width="9.2" height="8.76" fill="#eaeaea"/>
<rect x="481.8" y="473.48" width="9.2" height="8.76" fill="#e2e2e2"/>
<rect x="481.8" y="465.03" width="9.2" height="8.76" fill="#dbdbdb"/>
<rect x="481.8" y="456.57" width="9.2" height="8.76" fill="#d3d3d3"/>
<rect x="481.8" y="448.12" width="9.2" height="8.76" fill="#cbcbcb"/>
<rect x="481.8" y="439.66" width="9.2" height="8.76" fill="#c3c3c3"/>
<rect x="481.8" y="431.21" width="9.2" height="8.76" fill="#bbbbbb"/>
<rect x="481.8" y="422.75" width="9.2" height="8.76" fill="#b3b3b3"/>
<rect x="481.8" y="414.30" width="9.2" height="8.76" fill="#ababab"/>
<rect x="481.8" y="405.84" width="9.2" height="8.76" fill="#a4a4a4"/>
<rect x="481.8" y="397.38" width="9.2" height="8.76" fill="#9c9c9c"/>
<rect x="481.8" y="388.93" width="9.2" height="8.76" fill="#949494"/>
<rect x="481.8" y="380.48" width="9.2" height="8.76" fill="#8c8c8c"/>
<rect x="481.8" y="372.02" width="9.2" height="8.76" fill="#82e18c"/>
<rect x="481.8" y="363.56" width="9.2" height="8.76" fill="#7ad683"/>
<rect x="481.8" y="355.11" width="9.2" height="8.76" fill="#73ca7a"/>
<rect x="481.8" y="346.65" width="9.2" height="8.76" fill="#6cbf72"/>
<rect x="481.8" y="338.20" width="9.2" height="8.76" fill="#64b469"/>
<rect x="481.8" y="329.75" width="9.2" height="8.76" fill="#d0d4ff"/>
<rect x="481.8" y="321.29" width="9.2" height="8.76" fill="#b6c6ff"/>
<rect x="481.8" y="312.84" width="9.2" height="8.76" fill="#9bbeff"/>
<rect x="481.8" y="304.38" width="9.2" height="8.76" fill="#80b6ff"/>
<rect x="481.8" y="295.93" width="9.2" height="8.76" fill="#64acff"/>
<rect x="481.8" y="287.47" width="9.2" height="8.76" fill="#4ba0ff"/>
<rect x="481.8" y="279.01" width="9.2" height="8.76" fill="#4687ff"/>
<rect x="481.8" y="270.56" width="9.2" height="8.76" fill="#4470ff"/>
<rect x="481.8" y="262.11" width="9.2" height="8.76" fill="#3c4eff"/>
<rect x="481.8" y="253.65" width="9.2" height="8.76" fill="#3232ff"/>
<rect x="481.8" y="245.19" width="9.2" height="8.76" fill="#0000ff"/>
<rect x="481.8" y="236.74" width="9.2" height="8.76" fill="#0000f0"/>
<rect x="481.8" y="228.29" width="9.2" height="8.76" fill="#0000e1"/>
<rect x="481.8" y="219.83" width="9.2" height="8.76" fill="#0000cd"/>
<rect x="481.8" y="211.38" width="9.2" height="8.76" fill="#0000b9"/>
<rect x="481.8" y="202.92" width="9.2" height="8.76" fill="#ffff00"/>
<rect x="481.8" y="194.47" width="9.2" height="8.76" fill="#fff200"/>
<rect x="481.8" y="186.01" width="9.2" height="8.76" fill="#ffe600"/>
<rect x="481.8" y="177.56" width="9.2" height="8.76" fill="#ffda00"/>
<rect x="481.8" y="169.10" width="9.2" height="8.76" fill="#ffcd00"/>
<rect x="481.8" y="160.64" width="9.2" height="8.76" fill="#ff9600"/>
<rect x="481.8" y="152.19" width="9.2" height="8.76" fill="#ff8e00"/>
<rect x="481.8" y="143.74" width="9.2" height="8.76" fill="#ff8600"/>
<rect x="481.8" y="135.28" width="9.2" height="8.76" fill="#ff7e00"/>
<rect x="481.8" y="126.82" width="9.2" height="8.76" fill="#ff7600"/>
<rect x="481.8" y="118.37" width="9.2" height="8.76" fill="#ff4600"/>
<rect x="481.8" y="109.92" width="9.2" height="8.76" fill="#ff3a00"/>
<rect x="481.8" y="101.46" width="9.2" height="8.76" fill="#ff2d00"/>
<rect x="481.8" y="93.00" width="9.2" height="8.76" fill="#ff2000"/>
<rect x="481.8" y="84.55" width="9.2" height="8.76" fill="#ff1400"/>
<rect x="481.8" y="76.10" width="9.2" height="8.76" fill="#cd0000"/>
<rect x="481.8" y="67.64" width="9.2" height="8.76" fill="#bf0200"/>
<rect x="481.8" y="59.19" width="9.2" height="8.76" fill="#b20500"/>
<rect x="481.8" y="50.73" width="9.2" height="8.76" fill="#a40800"/>
<rect x="481.8" y="42.28" width="9.2" height="8.76" fill="#960a00"/>
<rect x="481.8" y="33.82" width="9.2" height="8.76" fill="#640e05"/>
<rect x="481.8" y="25.37" width="9.2" height="8.76" fill="#62120b"/>
<rect x="481.8" y="16.91" width="9.2" height="8.76" fill="#601510"/>
<rect x="481.8" y="8.45" width="9.2" height="8.76" fill="#5e1816"/>
<rect x="481.8" y="0.00" width="9.2" height="8.76" fill="#5c1c1c"/>
<line x1="491.0" y1="507.1" x2="493.0" y2="507.1" stroke="#000" stroke-width="1"/>
<text x="511.0" y="515.6" font-size="19.7" text-anchor="middle" stroke="#000" stroke-width="0.25">304</text>
<line x1="491.0" y1="456.4" x2="493.0" y2="456.4" stroke="#000" stroke-width="1"/>
<text x="511.0" y="464.9" font-size="19.7" text-anchor="middle" stroke="#000" stroke-width="0.25">292</text>
<line x1="491.0" y1="405.6" x2="493.0" y2="405.6" stroke="#000" stroke-width="1"/>
<text x="511.0" y="414.1" font-size="19.7" text-anchor="middle" stroke="#000" stroke-width="0.25">280</text>
<line x1="491.0" y1="354.9" x2="493.0" y2="354.9" stroke="#000" stroke-width="1"/>
<text x="511.0" y="363.4" font-size="19.7" text-anchor="middle" stroke="#000" stroke-width="0.25">268</text>
<line x1="491.0" y1="304.2" x2="493.0" y2="304.2" stroke="#000" stroke-width="1"/>
<text x="511.0" y="312.7" font-size="19.7" text-anchor="middle" stroke="#000" stroke-width="0.25">256</text>
<line x1="491.0" y1="253.5" x2="493.0" y2="253.5" stroke="#000" stroke-width="1"/>
<text x="511.0" y="261.9" font-size="19.7" text-anchor="middle" stroke="#000" stroke-width="0.25">244</text>
<line x1="491.0" y1="202.7" x2="493.0" y2="202.7" stroke="#000" stroke-width="1"/>
<text x="511.0" y="211.2" font-size="19.7" text-anchor="middle" stroke="#000" stroke-width="0.25">232</text>
<line x1="491.0" y1="152.0" x2="493.0" y2="152.0" stroke="#000" stroke-width="1"/>
<text x="511.0" y="160.5" font-size="19.7" text-anchor="middle" stroke="#000" stroke-width="0.25">220</text>
<line x1="491.0" y1="101.3" x2="493.0" y2="101.3" stroke="#000" stroke-width="1"/>
<text x="511.0" y="109.8" font-size="19.7" text-anchor="middle" stroke="#000" stroke-width="0.25">208</text>
<line x1="491.0" y1="50.5" x2="493.0" y2="50.5" stroke="#000" stroke-width="1"/>
<text x="511.0" y="59.0" font-size="19.7" text-anchor="middle" stroke="#000" stroke-width="0.25">196</text>
</g>
<g transform="translate(603.6,1222.3)" opacity="0.999">
<rect x="287.7" y="252.9" width="1.6" height="1.6" fill="#ff4500" transform="rotate(-25 288.5 253.7)"/>
<rect x="285.5" y="254.4" width="1.2" height="1.2" fill="#ff4500" transform="rotate(-25 286.1 255.0)"/>
<rect x="286.0" y="255.9" width="1.6" height="1.6" fill="#ff4500" transform="rotate(-25 286.8 256.7)"/>
<rect x="287.7" y="259.3" width="3.6" height="3.6" fill="#0000ff" transform="rotate(-25 289.5 261.1)"/>
<rect x="288.8" y="260.6" width="1.4" height="1.4" fill="#0000ff" transform="rotate(-25 289.5 261.3)"/>
<rect x="283.1" y="267.8" width="1.2" height="1.0" fill="#ff4500" transform="rotate(-25 283.7 268.3)"/>
<rect x="287.9" y="266.6" width="1.8" height="1.3" fill="#ff4500" transform="rotate(-25 288.8 267.2)"/>
<rect x="286.9" y="268.0" width="1.6" height="1.2" fill="#ff4500" transform="rotate(-25 287.7 268.6)"/>
<rect x="287.4" y="271.5" width="2.2" height="2.2" fill="#ff4500" transform="rotate(-25 288.5 272.7)"/>
<rect x="286.5" y="270.2" width="1.2" height="1.6" fill="#ff4500" transform="rotate(-25 287.1 271.0)"/>
<rect x="293.3" y="269.7" width="1.3" height="1.3" fill="#ff4500" transform="rotate(-25 293.9 270.3)"/>
<rect x="295.1" y="272.5" width="1.8" height="1.0" fill="#ff4500" transform="rotate(-25 295.9 273.0)"/>
<rect x="288.2" y="278.9" width="1.3" height="2.4" fill="#ff4500" transform="rotate(-25 288.8 280.1)"/>
<rect x="289.5" y="282.2" width="1.3" height="2.0" fill="#ff4500" transform="rotate(-25 290.2 283.2)"/>
<rect x="293.0" y="278.2" width="1.1" height="1.8" fill="#ff4500" transform="rotate(-25 293.6 279.1)"/>
<rect x="296.6" y="282.3" width="2.1" height="1.8" fill="#ff4500" transform="rotate(-25 297.6 283.2)"/>
<rect x="295.6" y="283.9" width="1.3" height="1.3" fill="#ff4500" transform="rotate(-25 296.3 284.5)"/>
<rect x="298.9" y="284.0" width="1.6" height="1.3" fill="#ff4500" transform="rotate(-25 299.7 284.7)"/>
<rect x="298.7" y="285.8" width="1.2" height="1.4" fill="#ff4500" transform="rotate(-25 299.3 286.6)"/>
<rect x="285.6" y="285.6" width="1.6" height="1.9" fill="#ff4500" transform="rotate(-25 286.4 286.6)"/>
<rect x="286.4" y="283.6" width="1.8" height="1.6" fill="#ff4500" transform="rotate(-25 287.3 284.4)"/>
<rect x="288.0" y="286.4" width="2.4" height="1.9" fill="#ff4500" transform="rotate(-25 289.2 287.4)"/>
<rect x="290.7" y="288.2" width="2.4" height="2.1" fill="#ff4500" transform="rotate(-25 291.9 289.3)"/>
<rect x="292.3" y="287.3" width="1.3" height="1.1" fill="#ff4500" transform="rotate(-25 293.0 287.9)"/>
<rect x="293.4" y="290.4" width="1.3" height="1.3" fill="#ff4500" transform="rotate(-25 294.0 291.0)"/>
<rect x="287.5" y="292.3" width="1.3" height="1.3" fill="#ff4500" transform="rotate(-25 288.1 293.0)"/>
<rect x="289.9" y="283.3" width="1.2" height="1.0" fill="#ff4500" transform="rotate(-25 290.5 283.8)"/>
<rect x="312.2" y="237.0" width="1.3" height="1.3" fill="#ff4500" transform="rotate(-25 312.9 237.6)"/>
<rect x="312.9" y="241.6" width="1.3" height="1.8" fill="#0000ff" transform="rotate(-25 313.5 242.5)"/>
<rect x="318.6" y="243.5" width="1.8" height="1.4" fill="#0000ff" transform="rotate(-25 319.5 244.2)"/>
<rect x="317.8" y="245.0" width="1.6" height="1.6" fill="#0000ff" transform="rotate(-25 318.6 245.8)"/>
<rect x="360.9" y="245.0" width="1.4" height="1.1" fill="#ff4500" transform="rotate(-25 361.7 245.6)"/>
<rect x="321.0" y="253.7" width="1.3" height="1.3" fill="#0000ff" transform="rotate(-25 321.7 254.4)"/>
<rect x="322.2" y="256.4" width="1.6" height="2.7" fill="#0000ff" transform="rotate(-25 323.0 257.8)"/>
<rect x="322.6" y="259.0" width="2.4" height="2.6" fill="#0000ff" transform="rotate(-25 323.8 260.3)"/>
<rect x="324.4" y="261.5" width="1.6" height="1.6" fill="#0000ff" transform="rotate(-25 325.2 262.3)"/>
<rect x="324.9" y="264.7" width="1.6" height="1.6" fill="#0000ff" transform="rotate(-25 325.7 265.5)"/>
<rect x="325.8" y="266.7" width="1.2" height="1.2" fill="#0000ff" transform="rotate(-25 326.4 267.3)"/>
<rect x="328.3" y="267.4" width="1.8" height="1.1" fill="#0000ff" transform="rotate(-25 329.1 268.0)"/>
<rect x="329.4" y="269.5" width="2.4" height="2.4" fill="#0000ff" transform="rotate(-25 330.6 270.7)"/>
<rect x="330.7" y="271.9" width="2.6" height="2.4" fill="#0000ff" transform="rotate(-25 332.0 273.1)"/>
<rect x="331.6" y="274.9" width="1.3" height="1.0" fill="#0000ff" transform="rotate(-25 332.2 275.4)"/>
<rect x="341.7" y="255.6" width="1.3" height="1.3" fill="#ff4500" transform="rotate(-25 342.3 256.2)"/>
<rect x="347.5" y="267.2" width="1.1" height="1.4" fill="#ff4500" transform="rotate(-25 348.1 267.9)"/>
<rect x="349.1" y="269.6" width="1.6" height="2.7" fill="#ff4500" transform="rotate(-25 349.9 271.0)"/>
<rect x="350.6" y="269.5" width="1.3" height="1.1" fill="#ff4500" transform="rotate(-25 351.2 270.0)"/>
<rect x="344.4" y="282.2" width="1.3" height="1.3" fill="#ff4500" transform="rotate(-25 345.1 282.8)"/>
<rect x="332.6" y="292.4" width="3.7" height="1.9" fill="#0000ff" transform="rotate(-25 334.4 293.3)"/>
<rect x="332.7" y="294.8" width="1.2" height="1.0" fill="#0000ff" transform="rotate(-25 333.3 295.4)"/>
<rect x="336.6" y="288.7" width="1.3" height="1.1" fill="#ff4500" transform="rotate(-25 337.3 289.3)"/>
<rect x="289.2" y="264.1" width="1.1" height="1.1" fill="#ff4500"/>
<rect x="286.4" y="269.5" width="1.1" height="1.1" fill="#ff4500"/>
<rect x="289.0" y="269.4" width="1.1" height="1.1" fill="#ff4500"/>
<rect x="289.6" y="278.8" width="1.1" height="1.1" fill="#ff4500"/>
<rect x="296.7" y="288.2" width="1.1" height="1.1" fill="#ff4500"/>
<rect x="298.8" y="284.0" width="1.1" height="1.1" fill="#ff4500"/>
<rect x="295.0" y="269.0" width="1.1" height="1.1" fill="#ff4500"/>
<rect x="298.6" y="272.8" width="1.1" height="1.1" fill="#ff4500"/>
<rect x="298.1" y="290.4" width="1.1" height="1.1" fill="#ff4500"/>
<rect x="288.7" y="268.0" width="1.1" height="1.1" fill="#ff4500"/>
<rect x="290.1" y="282.3" width="1.1" height="1.1" fill="#ff4500"/>
<rect x="299.3" y="269.2" width="1.1" height="1.1" fill="#ff4500"/>
<rect x="299.3" y="283.9" width="1.1" height="1.1" fill="#ff4500"/>
<rect x="291.9" y="287.8" width="1.1" height="1.1" fill="#ff4500"/>
<rect x="293.5" y="273.9" width="1.1" height="1.1" fill="#ff4500"/>
<rect x="289.8" y="269.9" width="1.1" height="1.1" fill="#ff4500"/>
<rect x="290.0" y="283.7" width="1.1" height="1.1" fill="#ff4500"/>
<rect x="295.8" y="274.5" width="1.1" height="1.1" fill="#ff4500"/>
<rect x="296.4" y="267.8" width="1.1" height="1.1" fill="#ff4500"/>
<rect x="290.0" y="285.0" width="1.1" height="1.1" fill="#ff4500"/>
<rect x="294.0" y="287.0" width="1.1" height="1.1" fill="#ff4500"/>
<rect x="288.3" y="272.4" width="1.1" height="1.1" fill="#ff4500"/>
<rect x="291.9" y="265.4" width="1.1" height="1.1" fill="#ff4500"/>
<rect x="286.8" y="264.9" width="1.1" height="1.1" fill="#ff4500"/>
<rect x="293.3" y="282.2" width="1.1" height="1.1" fill="#ff4500"/>
<rect x="290.0" y="275.0" width="1.1" height="1.1" fill="#ff4500"/>
<rect x="289.3" y="267.8" width="1.1" height="1.1" fill="#ff4500"/>
<rect x="294.7" y="268.1" width="1.1" height="1.1" fill="#ff4500"/>
<rect x="289.5" y="281.5" width="1.1" height="1.1" fill="#ff4500"/>
<rect x="288.0" y="287.6" width="1.1" height="1.1" fill="#ff4500"/>
<rect x="291.4" y="289.8" width="1.1" height="1.1" fill="#ff4500"/>
<rect x="286.6" y="291.3" width="1.1" height="1.1" fill="#ff4500"/>
<rect x="298.0" y="288.5" width="1.1" height="1.1" fill="#ff4500"/>
<rect x="290.3" y="281.6" width="1.1" height="1.1" fill="#ff4500"/>
<rect x="290.6" y="285.8" width="1.1" height="1.1" fill="#ff4500"/>
<rect x="298.8" y="271.0" width="1.1" height="1.1" fill="#ff4500"/>
<rect x="296.2" y="290.7" width="1.1" height="1.1" fill="#ff4500"/>
<rect x="294.5" y="269.8" width="1.1" height="1.1" fill="#ff4500"/>
<rect x="314.2" y="241.8" width="1.2" height="1.2" fill="#ff4500"/>
<rect x="316.3" y="242.9" width="1.2" height="1.2" fill="#ff4500"/>
<rect x="321.7" y="248.6" width="1.2" height="1.2" fill="#ff4500"/>
<rect x="343.4" y="245.9" width="1.2" height="1.2" fill="#ff4500"/>
<rect x="351.5" y="271.6" width="1.2" height="1.2" fill="#ff4500"/>
<rect x="352.5" y="272.3" width="1.2" height="1.2" fill="#ff4500"/>
<rect x="349.1" y="267.6" width="1.2" height="1.2" fill="#ff4500"/>
<rect x="345.4" y="282.5" width="1.2" height="1.2" fill="#ff4500"/>
<rect x="338.6" y="288.6" width="1.2" height="1.2" fill="#ff4500"/>
<rect x="201.2" y="308.6" width="1.2" height="1.2" fill="#ff4500"/>
<rect x="208.4" y="311.9" width="1.2" height="1.2" fill="#ff4500"/>
<line class="g" x1="61.8" y1="0" x2="61.8" y2="507.3"/>
<line class="g" x1="0" y1="22.8" x2="473.6" y2="22.8"/>
<line class="g" x1="140.6" y1="0" x2="140.6" y2="507.3"/>
<line class="g" x1="0" y1="107.4" x2="473.6" y2="107.4"/>
<line class="g" x1="219.3" y1="0" x2="219.3" y2="507.3"/>
<line class="g" x1="0" y1="191.9" x2="473.6" y2="191.9"/>
<line class="g" x1="298.1" y1="0" x2="298.1" y2="507.3"/>
<line class="g" x1="0" y1="276.5" x2="473.6" y2="276.5"/>
<line class="g" x1="376.8" y1="0" x2="376.8" y2="507.3"/>
<line class="g" x1="0" y1="361.0" x2="473.6" y2="361.0"/>
<line class="g" x1="455.6" y1="0" x2="455.6" y2="507.3"/>
<line class="g" x1="0" y1="445.6" x2="473.6" y2="445.6"/>
<polyline class="sw" points="0.0,430.4 23.7,414.8 47.4,399.4 71.0,384.1 94.7,369.0 118.4,354.1 142.1,339.3 165.8,324.7 189.4,310.3 213.1,296.0 236.8,281.9 260.5,267.9 284.2,254.1 307.8,240.5 331.5,227.0 355.2,213.7 378.9,200.6 402.6,187.6 426.2,174.8 449.9,162.2 473.6,149.7"/>
<polyline class="sw" points="29.5,507.3 53.2,491.5 76.9,475.9 100.5,460.5 124.2,445.3 147.9,430.2 171.6,415.4 195.3,400.7 218.9,386.2 242.6,371.9 266.3,357.8 290.0,343.9 313.7,330.1 337.3,316.6 361.0,303.2 384.7,290.0 408.4,277.0 432.1,264.2 455.7,251.6"/>
<polygon class="isl2" points="52.3,282.4 54.9,278.5 58.0,275.4 59.4,276.1 58.3,279.9 53.7,285.0"/>
<polygon class="isl2" points="70.7,274.0 72.1,270.0 77.0,267.2 84.8,266.2 88.3,268.7 89.3,274.0 87.2,278.9 82.3,281.5 77.3,280.0 72.4,277.6"/>
<polygon class="isl2" points="130.0,294.0 135.6,293.7 141.0,289.1 144.8,293.7 148.3,299.4 151.4,299.1 154.0,306.2 146.9,306.7 141.3,303.6 139.1,305.7 135.6,305.0 131.7,299.4"/>
<polygon class="isl2" points="167.8,314.2 171.6,309.3 173.0,310.0 182.2,309.7 184.3,310.7 188.6,310.4 190.4,312.1 189.7,314.2 186.4,316.3 179.4,316.0 183.6,312.9 173.0,314.6"/>
<polygon class="isl2" points="177.7,322.7 182.2,321.5 185.7,323.1 186.7,327.6 182.9,329.4 180.8,326.9"/>
<polygon class="isl2" points="192.1,320.6 195.6,316.6 198.4,318.4 200.5,322.7 207.6,321.0 213.3,323.7 219.6,327.6 218.2,332.6 211.8,334.7 204.8,335.8 201.3,333.3 199.1,328.3 194.2,325.5"/>
<polygon class="isl2" points="193.2,337.2 197.0,335.4 197.4,338.6 193.8,339.6"/>
<polygon class="isl2" points="223.8,351.6 225.3,349.2 231.6,352.7 245.7,357.5 252.8,362.2 255.6,366.4 256.3,371.4 260.5,374.2 262.7,378.4 266.6,382.0 261.2,386.9 254.2,391.1 247.1,391.8 238.0,397.5 233.7,405.3 224.5,400.3 222.9,395.4 221.7,384.1 218.9,375.6 217.9,370.0 226.0,360.8 223.8,355.8"/>
<path d="M230.3,253.1h12M236.3,247.1v12" stroke="#000" stroke-width="4.6" fill="none"/>
<text class="s" x="61.0" y="255.8" text-anchor="middle">-160</text>
<text class="s" x="232.6" y="23.1">28</text>
<text class="s" x="139.8" y="255.8" text-anchor="middle">-158</text>
<text class="s" x="232.6" y="107.7">26</text>
<text class="s" x="218.5" y="255.8" text-anchor="middle">-156</text>
<text class="s" x="232.6" y="192.2">24</text>
<text class="s" x="297.3" y="255.8" text-anchor="middle">-154</text>
<text class="s" x="232.6" y="276.8">22</text>
<text class="s" x="376.0" y="255.8" text-anchor="middle">-152</text>
<text class="s" x="232.6" y="361.3">20</text>
<text class="s" x="454.8" y="255.8" text-anchor="middle">-150</text>
<text class="s" x="232.6" y="445.9">18</text>

<text class="t" x="24.2" y="24.5">2A23 rain types</text>
<text class="l" x="426.2" y="481.8">(h)</text>
<rect x="482.2" y="0" width="8.6" height="169.1" fill="#ff4500"/>
<rect x="482.2" y="169.1" width="8.6" height="169.1" fill="#0000ff"/>
<rect x="482.2" y="0.5" width="8.6" height="506.8" fill="none" stroke="#555" stroke-width="0.9"/>
<line x1="490.8" y1="0.5" x2="493.8" y2="0.5" stroke="#555" stroke-width="1"/>
<text x="494.4" y="8.3" font-size="18.8">Conv</text>
<line x1="490.8" y1="169.6" x2="493.8" y2="169.6" stroke="#555" stroke-width="1"/>
<text x="494.4" y="177.4" font-size="18.8">Strat</text>
<line x1="490.8" y1="338.7" x2="493.8" y2="338.7" stroke="#555" stroke-width="1"/>
<text x="494.4" y="346.5" font-size="18.8">N/A</text>
</g>
<g transform="translate(1194.0,1222.3)" opacity="0.999">
<rect x="287.4" y="252.6" width="2.2" height="2.2" fill="#e4e4e4" transform="rotate(-25 288.5 253.7)"/>
<rect x="285.3" y="254.2" width="1.7" height="1.7" fill="#e4e4e4" transform="rotate(-25 286.1 255.0)"/>
<rect x="285.7" y="255.6" width="2.2" height="2.2" fill="#e4e4e4" transform="rotate(-25 286.8 256.7)"/>
<rect x="287.0" y="258.7" width="5.0" height="5.0" fill="#e4e4e4" transform="rotate(-25 289.5 261.1)"/>
<rect x="288.5" y="260.4" width="2.0" height="2.0" fill="#e4e4e4" transform="rotate(-25 289.5 261.3)"/>
<rect x="282.9" y="267.6" width="1.7" height="1.3" fill="#e4e4e4" transform="rotate(-25 283.7 268.3)"/>
<rect x="287.6" y="266.4" width="2.4" height="1.8" fill="#e4e4e4" transform="rotate(-25 288.8 267.2)"/>
<rect x="286.6" y="267.8" width="2.2" height="1.7" fill="#e4e4e4" transform="rotate(-25 287.7 268.6)"/>
<rect x="286.9" y="271.1" width="3.1" height="3.1" fill="#e4e4e4" transform="rotate(-25 288.5 272.7)"/>
<rect x="286.3" y="269.9" width="1.7" height="2.2" fill="#e4e4e4" transform="rotate(-25 287.1 271.0)"/>
<rect x="293.0" y="269.4" width="1.8" height="1.8" fill="#e4e4e4" transform="rotate(-25 293.9 270.3)"/>
<rect x="294.7" y="272.3" width="2.4" height="1.3" fill="#e4e4e4" transform="rotate(-25 295.9 273.0)"/>
<rect x="287.9" y="278.5" width="1.8" height="3.3" fill="#e4e4e4" transform="rotate(-25 288.8 280.1)"/>
<rect x="289.3" y="281.8" width="1.8" height="2.8" fill="#e4e4e4" transform="rotate(-25 290.2 283.2)"/>
<rect x="292.8" y="277.9" width="1.5" height="2.4" fill="#e4e4e4" transform="rotate(-25 293.6 279.1)"/>
<rect x="296.2" y="282.0" width="2.9" height="2.4" fill="#e4e4e4" transform="rotate(-25 297.6 283.2)"/>
<rect x="295.4" y="283.6" width="1.8" height="1.8" fill="#e4e4e4" transform="rotate(-25 296.3 284.5)"/>
<rect x="298.6" y="283.8" width="2.2" height="1.8" fill="#e4e4e4" transform="rotate(-25 299.7 284.7)"/>
<rect x="298.5" y="285.6" width="1.7" height="2.0" fill="#e4e4e4" transform="rotate(-25 299.3 286.6)"/>
<rect x="285.3" y="285.2" width="2.2" height="2.6" fill="#e4e4e4" transform="rotate(-25 286.4 286.6)"/>
<rect x="286.1" y="283.3" width="2.4" height="2.2" fill="#e4e4e4" transform="rotate(-25 287.3 284.4)"/>
<rect x="287.5" y="286.0" width="3.3" height="2.6" fill="#e4e4e4" transform="rotate(-25 289.2 287.4)"/>
<rect x="290.2" y="287.8" width="3.3" height="2.9" fill="#e4e4e4" transform="rotate(-25 291.9 289.3)"/>
<rect x="292.1" y="287.1" width="1.8" height="1.5" fill="#e4e4e4" transform="rotate(-25 293.0 287.9)"/>
<rect x="293.2" y="290.1" width="1.8" height="1.8" fill="#e4e4e4" transform="rotate(-25 294.0 291.0)"/>
<rect x="287.3" y="292.1" width="1.8" height="1.8" fill="#e4e4e4" transform="rotate(-25 288.1 293.0)"/>
<rect x="289.7" y="283.1" width="1.7" height="1.4" fill="#e4e4e4" transform="rotate(-25 290.5 283.8)"/>
<rect x="312.0" y="236.8" width="1.8" height="1.8" fill="#e4e4e4" transform="rotate(-25 312.9 237.6)"/>
<rect x="312.7" y="241.3" width="1.8" height="2.4" fill="#e4e4e4" transform="rotate(-25 313.5 242.5)"/>
<rect x="318.3" y="243.2" width="2.4" height="2.0" fill="#e4e4e4" transform="rotate(-25 319.5 244.2)"/>
<rect x="317.5" y="244.7" width="2.2" height="2.2" fill="#e4e4e4" transform="rotate(-25 318.6 245.8)"/>
<rect x="360.7" y="244.8" width="2.0" height="1.5" fill="#e4e4e4" transform="rotate(-25 361.7 245.6)"/>
<rect x="320.8" y="253.5" width="1.8" height="1.8" fill="#e4e4e4" transform="rotate(-25 321.7 254.4)"/>
<rect x="321.9" y="255.9" width="2.2" height="3.7" fill="#e4e4e4" transform="rotate(-25 323.0 257.8)"/>
<rect x="322.2" y="258.5" width="3.3" height="3.5" fill="#e4e4e4" transform="rotate(-25 323.8 260.3)"/>
<rect x="324.1" y="261.2" width="2.2" height="2.2" fill="#e4e4e4" transform="rotate(-25 325.2 262.3)"/>
<rect x="324.6" y="264.4" width="2.2" height="2.2" fill="#e4e4e4" transform="rotate(-25 325.7 265.5)"/>
<rect x="325.6" y="266.5" width="1.7" height="1.7" fill="#e4e4e4" transform="rotate(-25 326.4 267.3)"/>
<rect x="327.9" y="267.2" width="2.4" height="1.5" fill="#e4e4e4" transform="rotate(-25 329.1 268.0)"/>
<rect x="329.0" y="269.0" width="3.3" height="3.3" fill="#e4e4e4" transform="rotate(-25 330.6 270.7)"/>
<rect x="330.2" y="271.5" width="3.5" height="3.3" fill="#e4e4e4" transform="rotate(-25 332.0 273.1)"/>
<rect x="331.4" y="274.7" width="1.8" height="1.4" fill="#e4e4e4" transform="rotate(-25 332.2 275.4)"/>
<rect x="341.5" y="255.3" width="1.8" height="1.8" fill="#e4e4e4" transform="rotate(-25 342.3 256.2)"/>
<rect x="347.3" y="266.9" width="1.5" height="2.0" fill="#e4e4e4" transform="rotate(-25 348.1 267.9)"/>
<rect x="348.8" y="269.1" width="2.2" height="3.7" fill="#e4e4e4" transform="rotate(-25 349.9 271.0)"/>
<rect x="350.3" y="269.2" width="1.8" height="1.5" fill="#e4e4e4" transform="rotate(-25 351.2 270.0)"/>
<rect x="344.2" y="281.9" width="1.8" height="1.8" fill="#e4e4e4" transform="rotate(-25 345.1 282.8)"/>
<rect x="331.9" y="292.0" width="5.1" height="2.6" fill="#d4d4d4" transform="rotate(-25 334.4 293.3)"/>
<rect x="332.5" y="294.6" width="1.7" height="1.4" fill="#d4d4d4" transform="rotate(-25 333.3 295.4)"/>
<rect x="336.4" y="288.5" width="1.8" height="1.5" fill="#e4e4e4" transform="rotate(-25 337.3 289.3)"/>
<rect x="422.2" y="264.6" width="1.3" height="1.3" fill="#2846ff"/>
<rect x="137" y="406" width="1.3" height="1.3" fill="#e8e8e8"/>
<line class="g" x1="61.8" y1="0" x2="61.8" y2="507.3"/>
<line class="g" x1="0" y1="22.8" x2="473.6" y2="22.8"/>
<line class="g" x1="140.6" y1="0" x2="140.6" y2="507.3"/>
<line class="g" x1="0" y1="107.4" x2="473.6" y2="107.4"/>
<line class="g" x1="219.3" y1="0" x2="219.3" y2="507.3"/>
<line class="g" x1="0" y1="191.9" x2="473.6" y2="191.9"/>
<line class="g" x1="298.1" y1="0" x2="298.1" y2="507.3"/>
<line class="g" x1="0" y1="276.5" x2="473.6" y2="276.5"/>
<line class="g" x1="376.8" y1="0" x2="376.8" y2="507.3"/>
<line class="g" x1="0" y1="361.0" x2="473.6" y2="361.0"/>
<line class="g" x1="455.6" y1="0" x2="455.6" y2="507.3"/>
<line class="g" x1="0" y1="445.6" x2="473.6" y2="445.6"/>
<polyline class="sw" points="0.0,430.4 23.7,414.8 47.4,399.4 71.0,384.1 94.7,369.0 118.4,354.1 142.1,339.3 165.8,324.7 189.4,310.3 213.1,296.0 236.8,281.9 260.5,267.9 284.2,254.1 307.8,240.5 331.5,227.0 355.2,213.7 378.9,200.6 402.6,187.6 426.2,174.8 449.9,162.2 473.6,149.7"/>
<polyline class="sw" points="29.5,507.3 53.2,491.5 76.9,475.9 100.5,460.5 124.2,445.3 147.9,430.2 171.6,415.4 195.3,400.7 218.9,386.2 242.6,371.9 266.3,357.8 290.0,343.9 313.7,330.1 337.3,316.6 361.0,303.2 384.7,290.0 408.4,277.0 432.1,264.2 455.7,251.6"/>
<polygon class="isl2" points="52.3,282.4 54.9,278.5 58.0,275.4 59.4,276.1 58.3,279.9 53.7,285.0"/>
<polygon class="isl2" points="70.7,274.0 72.1,270.0 77.0,267.2 84.8,266.2 88.3,268.7 89.3,274.0 87.2,278.9 82.3,281.5 77.3,280.0 72.4,277.6"/>
<polygon class="isl2" points="130.0,294.0 135.6,293.7 141.0,289.1 144.8,293.7 148.3,299.4 151.4,299.1 154.0,306.2 146.9,306.7 141.3,303.6 139.1,305.7 135.6,305.0 131.7,299.4"/>
<polygon class="isl2" points="167.8,314.2 171.6,309.3 173.0,310.0 182.2,309.7 184.3,310.7 188.6,310.4 190.4,312.1 189.7,314.2 186.4,316.3 179.4,316.0 183.6,312.9 173.0,314.6"/>
<polygon class="isl2" points="177.7,322.7 182.2,321.5 185.7,323.1 186.7,327.6 182.9,329.4 180.8,326.9"/>
<polygon class="isl2" points="192.1,320.6 195.6,316.6 198.4,318.4 200.5,322.7 207.6,321.0 213.3,323.7 219.6,327.6 218.2,332.6 211.8,334.7 204.8,335.8 201.3,333.3 199.1,328.3 194.2,325.5"/>
<polygon class="isl2" points="193.2,337.2 197.0,335.4 197.4,338.6 193.8,339.6"/>
<polygon class="isl2" points="223.8,351.6 225.3,349.2 231.6,352.7 245.7,357.5 252.8,362.2 255.6,366.4 256.3,371.4 260.5,374.2 262.7,378.4 266.6,382.0 261.2,386.9 254.2,391.1 247.1,391.8 238.0,397.5 233.7,405.3 224.5,400.3 222.9,395.4 221.7,384.1 218.9,375.6 217.9,370.0 226.0,360.8 223.8,355.8"/>
<path d="M230.3,253.1h12M236.3,247.1v12" stroke="#000" stroke-width="4.6" fill="none"/>
<text class="s" x="61.0" y="255.8" text-anchor="middle">-160</text>
<text class="s" x="232.6" y="23.1">28</text>
<text class="s" x="139.8" y="255.8" text-anchor="middle">-158</text>
<text class="s" x="232.6" y="107.7">26</text>
<text class="s" x="218.5" y="255.8" text-anchor="middle">-156</text>
<text class="s" x="232.6" y="192.2">24</text>
<text class="s" x="297.3" y="255.8" text-anchor="middle">-154</text>
<text class="s" x="232.6" y="276.8">22</text>
<text class="s" x="376.0" y="255.8" text-anchor="middle">-152</text>
<text class="s" x="232.6" y="361.3">20</text>
<text class="s" x="454.8" y="255.8" text-anchor="middle">-150</text>
<text class="s" x="232.6" y="445.9">18</text>

<text class="t" x="24.2" y="24.5">2A23 storm height (km)</text>
<text class="l" x="426.2" y="481.8">(i)</text>
<rect x="481.8" y="490.39" width="9.2" height="8.76" fill="#f2f2f2"/>
<rect x="481.8" y="481.94" width="9.2" height="8.76" fill="#eaeaea"/>
<rect x="481.8" y="473.48" width="9.2" height="8.76" fill="#e2e2e2"/>
<rect x="481.8" y="465.03" width="9.2" height="8.76" fill="#dbdbdb"/>
<rect x="481.8" y="456.57" width="9.2" height="8.76" fill="#d3d3d3"/>
<rect x="481.8" y="448.12" width="9.2" height="8.76" fill="#cbcbcb"/>
<rect x="481.8" y="439.66" width="9.2" height="8.76" fill="#c3c3c3"/>
<rect x="481.8" y="431.21" width="9.2" height="8.76" fill="#bbbbbb"/>
<rect x="481.8" y="422.75" width="9.2" height="8.76" fill="#b3b3b3"/>
<rect x="481.8" y="414.30" width="9.2" height="8.76" fill="#ababab"/>
<rect x="481.8" y="405.84" width="9.2" height="8.76" fill="#a4a4a4"/>
<rect x="481.8" y="397.38" width="9.2" height="8.76" fill="#9c9c9c"/>
<rect x="481.8" y="388.93" width="9.2" height="8.76" fill="#949494"/>
<rect x="481.8" y="380.48" width="9.2" height="8.76" fill="#8c8c8c"/>
<rect x="481.8" y="372.02" width="9.2" height="8.76" fill="#82e18c"/>
<rect x="481.8" y="363.56" width="9.2" height="8.76" fill="#7ad683"/>
<rect x="481.8" y="355.11" width="9.2" height="8.76" fill="#73ca7a"/>
<rect x="481.8" y="346.65" width="9.2" height="8.76" fill="#6cbf72"/>
<rect x="481.8" y="338.20" width="9.2" height="8.76" fill="#64b469"/>
<rect x="481.8" y="329.75" width="9.2" height="8.76" fill="#d0d4ff"/>
<rect x="481.8" y="321.29" width="9.2" height="8.76" fill="#b6c6ff"/>
<rect x="481.8" y="312.84" width="9.2" height="8.76" fill="#9bbeff"/>
<rect x="481.8" y="304.38" width="9.2" height="8.76" fill="#80b6ff"/>
<rect x="481.8" y="295.93" width="9.2" height="8.76" fill="#64acff"/>
<rect x="481.8" y="287.47" width="9.2" height="8.76" fill="#4ba0ff"/>
<rect x="481.8" y="279.01" width="9.2" height="8.76" fill="#4687ff"/>
<rect x="481.8" y="270.56" width="9.2" height="8.76" fill="#4470ff"/>
<rect x="481.8" y="262.11" width="9.2" height="8.76" fill="#3c4eff"/>
<rect x="481.8" y="253.65" width="9.2" height="8.76" fill="#3232ff"/>
<rect x="481.8" y="245.19" width="9.2" height="8.76" fill="#0000ff"/>
<rect x="481.8" y="236.74" width="9.2" height="8.76" fill="#0000f0"/>
<rect x="481.8" y="228.29" width="9.2" height="8.76" fill="#0000e1"/>
<rect x="481.8" y="219.83" width="9.2" height="8.76" fill="#0000cd"/>
<rect x="481.8" y="211.38" width="9.2" height="8.76" fill="#0000b9"/>
<rect x="481.8" y="202.92" width="9.2" height="8.76" fill="#ffff00"/>
<rect x="481.8" y="194.47" width="9.2" height="8.76" fill="#fff200"/>
<rect x="481.8" y="186.01" width="9.2" height="8.76" fill="#ffe600"/>
<rect x="481.8" y="177.56" width="9.2" height="8.76" fill="#ffda00"/>
<rect x="481.8" y="169.10" width="9.2" height="8.76" fill="#ffcd00"/>
<rect x="481.8" y="160.64" width="9.2" height="8.76" fill="#ff9600"/>
<rect x="481.8" y="152.19" width="9.2" height="8.76" fill="#ff8e00"/>
<rect x="481.8" y="143.74" width="9.2" height="8.76" fill="#ff8600"/>
<rect x="481.8" y="135.28" width="9.2" height="8.76" fill="#ff7e00"/>
<rect x="481.8" y="126.82" width="9.2" height="8.76" fill="#ff7600"/>
<rect x="481.8" y="118.37" width="9.2" height="8.76" fill="#ff4600"/>
<rect x="481.8" y="109.92" width="9.2" height="8.76" fill="#ff3a00"/>
<rect x="481.8" y="101.46" width="9.2" height="8.76" fill="#ff2d00"/>
<rect x="481.8" y="93.00" width="9.2" height="8.76" fill="#ff2000"/>
<rect x="481.8" y="84.55" width="9.2" height="8.76" fill="#ff1400"/>
<rect x="481.8" y="76.10" width="9.2" height="8.76" fill="#cd0000"/>
<rect x="481.8" y="67.64" width="9.2" height="8.76" fill="#bf0200"/>
<rect x="481.8" y="59.19" width="9.2" height="8.76" fill="#b20500"/>
<rect x="481.8" y="50.73" width="9.2" height="8.76" fill="#a40800"/>
<rect x="481.8" y="42.28" width="9.2" height="8.76" fill="#960a00"/>
<rect x="481.8" y="33.82" width="9.2" height="8.76" fill="#640e05"/>
<rect x="481.8" y="25.37" width="9.2" height="8.76" fill="#62120b"/>
<rect x="481.8" y="16.91" width="9.2" height="8.76" fill="#601510"/>
<rect x="481.8" y="8.45" width="9.2" height="8.76" fill="#5e1816"/>
<rect x="481.8" y="0.00" width="9.2" height="8.76" fill="#5c1c1c"/>
<line x1="491.0" y1="507.1" x2="493.0" y2="507.1" stroke="#000" stroke-width="1"/>
<text x="520.0" y="515.6" font-size="19.7" text-anchor="middle" stroke="#000" stroke-width="0.25">0.0</text>
<line x1="491.0" y1="456.4" x2="493.0" y2="456.4" stroke="#000" stroke-width="1"/>
<text x="520.0" y="464.9" font-size="19.7" text-anchor="middle" stroke="#000" stroke-width="0.25">2.0</text>
<line x1="491.0" y1="405.6" x2="493.0" y2="405.6" stroke="#000" stroke-width="1"/>
<text x="520.0" y="414.1" font-size="19.7" text-anchor="middle" stroke="#000" stroke-width="0.25">4.0</text>
<line x1="491.0" y1="354.9" x2="493.0" y2="354.9" stroke="#000" stroke-width="1"/>
<text x="520.0" y="363.4" font-size="19.7" text-anchor="middle" stroke="#000" stroke-width="0.25">6.0</text>
<line x1="491.0" y1="304.2" x2="493.0" y2="304.2" stroke="#000" stroke-width="1"/>
<text x="520.0" y="312.7" font-size="19.7" text-anchor="middle" stroke="#000" stroke-width="0.25">8.0</text>
<line x1="491.0" y1="253.5" x2="493.0" y2="253.5" stroke="#000" stroke-width="1"/>
<text x="520.0" y="261.9" font-size="19.7" text-anchor="middle" stroke="#000" stroke-width="0.25">10.0</text>
<line x1="491.0" y1="202.7" x2="493.0" y2="202.7" stroke="#000" stroke-width="1"/>
<text x="520.0" y="211.2" font-size="19.7" text-anchor="middle" stroke="#000" stroke-width="0.25">12.0</text>
<line x1="491.0" y1="152.0" x2="493.0" y2="152.0" stroke="#000" stroke-width="1"/>
<text x="520.0" y="160.5" font-size="19.7" text-anchor="middle" stroke="#000" stroke-width="0.25">14.0</text>
<line x1="491.0" y1="101.3" x2="493.0" y2="101.3" stroke="#000" stroke-width="1"/>
<text x="520.0" y="109.8" font-size="19.7" text-anchor="middle" stroke="#000" stroke-width="0.25">16.0</text>
<line x1="491.0" y1="50.5" x2="493.0" y2="50.5" stroke="#000" stroke-width="1"/>
<text x="520.0" y="59.0" font-size="19.7" text-anchor="middle" stroke="#000" stroke-width="0.25">18.0</text>
</g>
</svg></body></html>
